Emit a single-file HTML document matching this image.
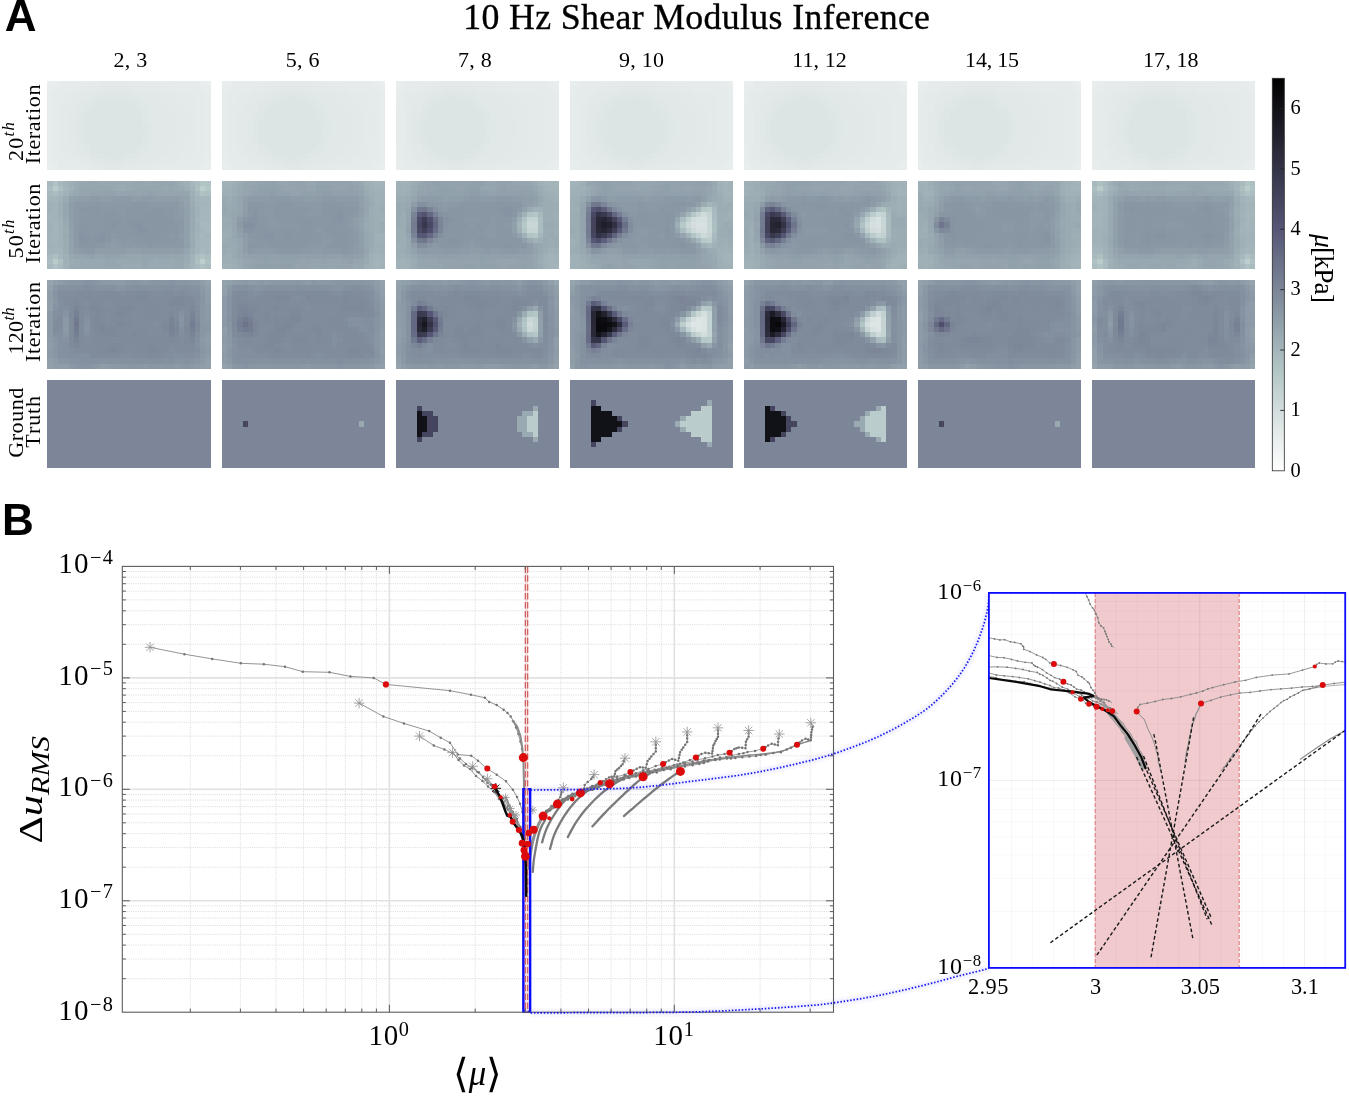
<!DOCTYPE html>
<html lang="en"><head><meta charset="utf-8"><title>10 Hz Shear Modulus Inference</title>
<style>html,body{margin:0;padding:0;background:#fff}svg{display:block}text{fill:#000}</style>
</head><body>
<svg width="1349" height="1096" viewBox="0 0 1349 1096">
<rect width="1349" height="1096" fill="#fff"/>
<text x="4.80" y="31.20" font-size="44" text-anchor="start" font-family='"Liberation Sans", sans-serif' font-weight="700">A</text>
<text x="463.20" y="28.90" font-size="35.8" text-anchor="start" font-family='"Liberation Serif", serif' stroke="#000" stroke-width="0.35" textLength="466.8">10 Hz Shear Modulus Inference</text>
<text x="113.40" y="66.90" font-size="22" text-anchor="start" font-family='"Liberation Serif", serif' textLength="33.8">2, 3</text>
<text x="285.70" y="66.90" font-size="22" text-anchor="start" font-family='"Liberation Serif", serif' textLength="33.8">5, 6</text>
<text x="458.00" y="66.90" font-size="22" text-anchor="start" font-family='"Liberation Serif", serif' textLength="33.8">7, 8</text>
<text x="618.90" y="66.90" font-size="22" text-anchor="start" font-family='"Liberation Serif", serif' textLength="45.2">9, 10</text>
<text x="792.20" y="66.90" font-size="22" text-anchor="start" font-family='"Liberation Serif", serif' textLength="54.6">11, 12</text>
<text x="965.10" y="66.90" font-size="22" text-anchor="start" font-family='"Liberation Serif", serif' textLength="54.0">14, 15</text>
<text x="1143.00" y="66.90" font-size="22" text-anchor="start" font-family='"Liberation Serif", serif' textLength="55.6">17, 18</text>
<g shape-rendering="crispEdges">
<g transform="translate(47.45 81.20) scale(5.2677 5.2118)">
<rect width="31" height="17" fill="#dce4e4"/>
<path fill="#e8eded" d="M0 0h1v1h-1zM30 0h1v1h-1zM0 16h1v1h-1zM30 16h1v1h-1z"/>
<path fill="#e7ecec" d="M1 0h1v1h-1zM29 0h1v1h-1zM0 1h1v1h-1zM30 1h1v1h-1zM0 15h1v1h-1zM30 15h1v1h-1zM1 16h1v1h-1zM29 16h1v1h-1z"/>
<path fill="#e6ecec" d="M2 0h1v1h-1zM28 0h1v1h-1zM1 1h1v1h-1zM29 1h1v1h-1zM0 2h1v1h-1zM30 2h1v1h-1zM0 3h1v1h-1zM30 3h1v1h-1zM0 4h1v1h-1zM30 4h1v1h-1zM0 5h1v1h-1zM30 5h1v1h-1zM0 6h1v1h-1zM30 6h1v1h-1zM0 7h1v1h-1zM30 7h1v1h-1zM0 8h1v1h-1zM30 8h1v1h-1zM0 9h1v1h-1zM30 9h1v1h-1zM0 10h1v1h-1zM30 10h1v1h-1zM0 11h1v1h-1zM30 11h1v1h-1zM0 12h1v1h-1zM30 12h1v1h-1zM0 13h1v1h-1zM30 13h1v1h-1zM0 14h1v1h-1zM30 14h1v1h-1zM1 15h1v1h-1zM29 15h1v1h-1zM28 16h1v1h-1z"/>
<path fill="#e5ebeb" d="M3 0h3v1h-3zM23 0h5v1h-5zM2 1h1v1h-1zM28 1h1v1h-1zM1 2h1v1h-1zM29 2h1v1h-1zM1 3h1v1h-1zM29 3h1v1h-1zM1 4h1v1h-1zM29 4h1v1h-1zM1 5h1v1h-1zM29 5h1v1h-1zM1 6h1v1h-1zM29 6h1v1h-1zM29 7h1v1h-1zM29 8h1v1h-1zM29 9h1v1h-1zM29 10h1v1h-1zM1 11h1v1h-1zM29 11h1v1h-1zM1 12h1v1h-1zM29 12h1v1h-1zM1 13h1v1h-1zM29 13h1v1h-1zM1 14h1v1h-1zM29 14h1v1h-1zM2 15h1v1h-1zM28 15h1v1h-1zM2 16h3v1h-3zM24 16h4v1h-4z"/>
<path fill="#e5eaea" d="M6 0h4v1h-4zM18 0h5v1h-5zM3 1h3v1h-3zM24 1h4v1h-4zM2 2h1v1h-1zM28 2h1v1h-1zM2 3h1v1h-1zM28 3h1v1h-1zM28 4h1v1h-1zM28 5h1v1h-1zM28 6h1v1h-1zM1 7h1v1h-1zM28 7h1v1h-1zM1 8h1v1h-1zM28 8h1v1h-1zM1 9h1v1h-1zM28 9h1v1h-1zM1 10h1v1h-1zM28 10h1v1h-1zM28 11h1v1h-1zM28 12h1v1h-1zM2 13h1v1h-1zM28 13h1v1h-1zM2 14h1v1h-1zM28 14h1v1h-1zM3 15h2v1h-2zM25 15h3v1h-3zM5 16h3v1h-3zM20 16h4v1h-4z"/>
<path fill="#e4eaea" d="M10 0h8v1h-8zM6 1h2v1h-2zM20 1h4v1h-4zM3 2h2v1h-2zM24 2h4v1h-4zM3 3h1v1h-1zM25 3h3v1h-3zM2 4h2v1h-2zM26 4h2v1h-2zM2 5h1v1h-1zM26 5h2v1h-2zM2 6h1v1h-1zM27 6h1v1h-1zM2 7h1v1h-1zM27 7h1v1h-1zM2 8h1v1h-1zM27 8h1v1h-1zM2 9h1v1h-1zM27 9h1v1h-1zM2 10h1v1h-1zM27 10h1v1h-1zM2 11h1v1h-1zM26 11h2v1h-2zM2 12h1v1h-1zM26 12h2v1h-2zM3 13h1v1h-1zM25 13h3v1h-3zM3 14h1v1h-1zM25 14h3v1h-3zM5 15h2v1h-2zM21 15h4v1h-4zM8 16h1v1h-1zM17 16h3v1h-3z"/>
<path fill="#e3e9e9" d="M8 1h2v1h-2zM16 1h4v1h-4zM5 2h2v1h-2zM20 2h4v1h-4zM4 3h2v1h-2zM22 3h3v1h-3zM4 4h1v1h-1zM23 4h3v1h-3zM3 5h2v1h-2zM23 5h3v1h-3zM3 6h1v1h-1zM24 6h3v1h-3zM3 7h1v1h-1zM24 7h3v1h-3zM3 8h1v1h-1zM24 8h3v1h-3zM3 9h1v1h-1zM24 9h3v1h-3zM3 10h1v1h-1zM24 10h3v1h-3zM3 11h1v1h-1zM24 11h2v1h-2zM3 12h2v1h-2zM23 12h3v1h-3zM4 13h1v1h-1zM23 13h2v1h-2zM4 14h2v1h-2zM22 14h3v1h-3zM7 15h1v1h-1zM18 15h3v1h-3zM9 16h2v1h-2zM14 16h3v1h-3z"/>
<path fill="#e2e8e8" d="M10 1h6v1h-6zM7 2h1v1h-1zM18 2h2v1h-2zM6 3h1v1h-1zM19 3h3v1h-3zM5 4h1v1h-1zM20 4h3v1h-3zM5 5h1v1h-1zM21 5h2v1h-2zM4 6h1v1h-1zM21 6h3v1h-3zM4 7h1v1h-1zM21 7h3v1h-3zM4 8h1v1h-1zM21 8h3v1h-3zM4 9h1v1h-1zM21 9h3v1h-3zM4 10h1v1h-1zM21 10h3v1h-3zM4 11h1v1h-1zM21 11h3v1h-3zM5 12h1v1h-1zM21 12h2v1h-2zM5 13h1v1h-1zM20 13h3v1h-3zM6 14h1v1h-1zM19 14h3v1h-3zM8 15h1v1h-1zM17 15h1v1h-1zM11 16h3v1h-3z"/>
<path fill="#e1e8e8" d="M8 2h1v1h-1zM16 2h2v1h-2zM7 3h1v1h-1zM18 3h1v1h-1zM6 4h1v1h-1zM19 4h1v1h-1zM19 5h2v1h-2zM5 6h1v1h-1zM20 6h1v1h-1zM20 7h1v1h-1zM20 8h1v1h-1zM20 9h1v1h-1zM20 10h1v1h-1zM5 11h1v1h-1zM20 11h1v1h-1zM19 12h2v1h-2zM6 13h1v1h-1zM19 13h1v1h-1zM7 14h1v1h-1zM18 14h1v1h-1zM9 15h1v1h-1zM15 15h2v1h-2z"/>
<path fill="#e0e7e7" d="M9 2h2v1h-2zM15 2h1v1h-1zM8 3h1v1h-1zM17 3h1v1h-1zM18 4h1v1h-1zM6 5h1v1h-1zM19 6h1v1h-1zM5 7h1v1h-1zM19 7h1v1h-1zM5 8h1v1h-1zM5 9h1v1h-1zM5 10h1v1h-1zM19 10h1v1h-1zM19 11h1v1h-1zM6 12h1v1h-1zM18 13h1v1h-1zM17 14h1v1h-1zM10 15h1v1h-1zM14 15h1v1h-1z"/>
<path fill="#dfe6e6" d="M11 2h4v1h-4zM16 3h1v1h-1zM7 4h1v1h-1zM17 4h1v1h-1zM18 5h1v1h-1zM6 6h1v1h-1zM19 8h1v1h-1zM19 9h1v1h-1zM6 11h1v1h-1zM18 12h1v1h-1zM7 13h1v1h-1zM17 13h1v1h-1zM8 14h1v1h-1zM16 14h1v1h-1zM11 15h3v1h-3z"/>
<path fill="#dee6e6" d="M9 3h1v1h-1zM15 3h1v1h-1zM8 4h1v1h-1zM7 5h1v1h-1zM18 6h1v1h-1zM6 7h1v1h-1zM18 7h1v1h-1zM6 8h1v1h-1zM6 10h1v1h-1zM18 11h1v1h-1zM7 12h1v1h-1zM9 14h1v1h-1zM15 14h1v1h-1z"/>
<path fill="#dde5e5" d="M10 3h2v1h-2zM13 3h2v1h-2zM16 4h1v1h-1zM17 5h1v1h-1zM7 6h1v1h-1zM18 8h1v1h-1zM6 9h1v1h-1zM18 9h1v1h-1zM18 10h1v1h-1zM17 12h1v1h-1zM8 13h1v1h-1zM16 13h1v1h-1zM10 14h1v1h-1zM14 14h1v1h-1z"/>
<path fill="#dde4e4" d="M12 3h1v1h-1zM9 4h1v1h-1zM15 4h1v1h-1zM8 5h1v1h-1zM16 5h1v1h-1zM17 6h1v1h-1zM7 7h1v1h-1zM17 7h1v1h-1zM7 8h1v1h-1zM7 9h1v1h-1zM7 10h1v1h-1zM17 10h1v1h-1zM7 11h1v1h-1zM17 11h1v1h-1zM8 12h1v1h-1zM16 12h1v1h-1zM9 13h1v1h-1zM15 13h1v1h-1zM11 14h3v1h-3z"/>
</g>
<g transform="translate(221.55 81.20) scale(5.2677 5.2118)">
<rect width="31" height="17" fill="#dce4e4"/>
<path fill="#e8eded" d="M0 0h1v1h-1zM30 0h1v1h-1zM0 16h1v1h-1zM30 16h1v1h-1z"/>
<path fill="#e7ecec" d="M1 0h1v1h-1zM29 0h1v1h-1zM0 1h1v1h-1zM30 1h1v1h-1zM0 15h1v1h-1zM30 15h1v1h-1zM1 16h1v1h-1zM29 16h1v1h-1z"/>
<path fill="#e6ecec" d="M2 0h1v1h-1zM28 0h1v1h-1zM1 1h1v1h-1zM29 1h1v1h-1zM0 2h1v1h-1zM30 2h1v1h-1zM0 3h1v1h-1zM30 3h1v1h-1zM0 4h1v1h-1zM30 4h1v1h-1zM0 5h1v1h-1zM30 5h1v1h-1zM0 6h1v1h-1zM30 6h1v1h-1zM0 7h1v1h-1zM30 7h1v1h-1zM0 8h1v1h-1zM30 8h1v1h-1zM0 9h1v1h-1zM30 9h1v1h-1zM0 10h1v1h-1zM30 10h1v1h-1zM0 11h1v1h-1zM30 11h1v1h-1zM0 12h1v1h-1zM30 12h1v1h-1zM0 13h1v1h-1zM30 13h1v1h-1zM0 14h1v1h-1zM30 14h1v1h-1zM1 15h1v1h-1zM29 15h1v1h-1zM2 16h1v1h-1zM28 16h1v1h-1z"/>
<path fill="#e5ebeb" d="M3 0h4v1h-4zM24 0h4v1h-4zM2 1h1v1h-1zM28 1h1v1h-1zM1 2h1v1h-1zM29 2h1v1h-1zM1 3h1v1h-1zM29 3h1v1h-1zM1 4h1v1h-1zM29 4h1v1h-1zM1 5h1v1h-1zM29 5h1v1h-1zM1 6h1v1h-1zM29 6h1v1h-1zM1 7h1v1h-1zM29 7h1v1h-1zM1 8h1v1h-1zM29 8h1v1h-1zM1 9h1v1h-1zM29 9h1v1h-1zM1 10h1v1h-1zM29 10h1v1h-1zM1 11h1v1h-1zM29 11h1v1h-1zM1 12h1v1h-1zM29 12h1v1h-1zM1 13h1v1h-1zM29 13h1v1h-1zM1 14h1v1h-1zM29 14h1v1h-1zM2 15h1v1h-1zM28 15h1v1h-1zM3 16h2v1h-2zM25 16h3v1h-3z"/>
<path fill="#e5eaea" d="M7 0h3v1h-3zM19 0h5v1h-5zM3 1h3v1h-3zM24 1h4v1h-4zM2 2h1v1h-1zM28 2h1v1h-1zM2 3h1v1h-1zM28 3h1v1h-1zM2 4h1v1h-1zM28 4h1v1h-1zM28 5h1v1h-1zM28 11h1v1h-1zM2 12h1v1h-1zM28 12h1v1h-1zM2 13h1v1h-1zM28 13h1v1h-1zM2 14h1v1h-1zM28 14h1v1h-1zM3 15h2v1h-2zM25 15h3v1h-3zM5 16h3v1h-3zM21 16h4v1h-4z"/>
<path fill="#e4eaea" d="M10 0h9v1h-9zM6 1h3v1h-3zM20 1h4v1h-4zM3 2h3v1h-3zM24 2h4v1h-4zM3 3h2v1h-2zM25 3h3v1h-3zM3 4h1v1h-1zM26 4h2v1h-2zM2 5h2v1h-2zM27 5h1v1h-1zM2 6h1v1h-1zM27 6h2v1h-2zM2 7h1v1h-1zM27 7h2v1h-2zM2 8h1v1h-1zM27 8h2v1h-2zM2 9h1v1h-1zM27 9h2v1h-2zM2 10h1v1h-1zM27 10h2v1h-2zM2 11h1v1h-1zM27 11h1v1h-1zM3 12h1v1h-1zM27 12h1v1h-1zM3 13h1v1h-1zM26 13h2v1h-2zM3 14h2v1h-2zM25 14h3v1h-3zM5 15h2v1h-2zM22 15h3v1h-3zM8 16h2v1h-2zM17 16h4v1h-4z"/>
<path fill="#e3e9e9" d="M9 1h2v1h-2zM17 1h3v1h-3zM6 2h2v1h-2zM21 2h3v1h-3zM5 3h2v1h-2zM22 3h3v1h-3zM4 4h2v1h-2zM23 4h3v1h-3zM4 5h1v1h-1zM24 5h3v1h-3zM3 6h2v1h-2zM24 6h3v1h-3zM3 7h2v1h-2zM25 7h2v1h-2zM3 8h1v1h-1zM25 8h2v1h-2zM3 9h1v1h-1zM25 9h2v1h-2zM3 10h2v1h-2zM25 10h2v1h-2zM3 11h2v1h-2zM24 11h3v1h-3zM4 12h1v1h-1zM24 12h3v1h-3zM4 13h2v1h-2zM23 13h3v1h-3zM5 14h1v1h-1zM22 14h3v1h-3zM7 15h1v1h-1zM19 15h3v1h-3zM10 16h2v1h-2zM15 16h2v1h-2z"/>
<path fill="#e2e8e8" d="M11 1h6v1h-6zM8 2h1v1h-1zM18 2h3v1h-3zM7 3h1v1h-1zM20 3h2v1h-2zM6 4h1v1h-1zM20 4h3v1h-3zM5 5h1v1h-1zM21 5h3v1h-3zM5 6h1v1h-1zM21 6h3v1h-3zM22 7h3v1h-3zM4 8h1v1h-1zM22 8h3v1h-3zM4 9h1v1h-1zM22 9h3v1h-3zM22 10h3v1h-3zM5 11h1v1h-1zM21 11h3v1h-3zM5 12h1v1h-1zM21 12h3v1h-3zM6 13h1v1h-1zM20 13h3v1h-3zM6 14h1v1h-1zM20 14h2v1h-2zM8 15h1v1h-1zM17 15h2v1h-2zM12 16h3v1h-3z"/>
<path fill="#e1e8e8" d="M9 2h1v1h-1zM17 2h1v1h-1zM18 3h2v1h-2zM19 4h1v1h-1zM6 5h1v1h-1zM20 5h1v1h-1zM20 6h1v1h-1zM5 7h1v1h-1zM21 7h1v1h-1zM5 8h1v1h-1zM21 8h1v1h-1zM5 9h1v1h-1zM21 9h1v1h-1zM5 10h1v1h-1zM21 10h1v1h-1zM20 11h1v1h-1zM6 12h1v1h-1zM20 12h1v1h-1zM19 13h1v1h-1zM7 14h1v1h-1zM18 14h2v1h-2zM9 15h1v1h-1zM16 15h1v1h-1z"/>
<path fill="#e0e7e7" d="M10 2h1v1h-1zM15 2h2v1h-2zM8 3h1v1h-1zM17 3h1v1h-1zM7 4h1v1h-1zM18 4h1v1h-1zM19 5h1v1h-1zM6 6h1v1h-1zM20 7h1v1h-1zM20 8h1v1h-1zM20 9h1v1h-1zM20 10h1v1h-1zM6 11h1v1h-1zM19 12h1v1h-1zM7 13h1v1h-1zM8 14h1v1h-1zM17 14h1v1h-1zM10 15h2v1h-2zM15 15h1v1h-1z"/>
<path fill="#dfe6e6" d="M11 2h4v1h-4zM9 3h1v1h-1zM16 3h1v1h-1zM8 4h1v1h-1zM7 5h1v1h-1zM19 6h1v1h-1zM6 7h1v1h-1zM19 7h1v1h-1zM6 8h1v1h-1zM6 9h1v1h-1zM6 10h1v1h-1zM19 10h1v1h-1zM19 11h1v1h-1zM7 12h1v1h-1zM18 13h1v1h-1zM9 14h1v1h-1zM12 15h3v1h-3z"/>
<path fill="#dee6e6" d="M10 3h1v1h-1zM17 4h1v1h-1zM18 5h1v1h-1zM7 6h1v1h-1zM19 8h1v1h-1zM19 9h1v1h-1zM18 12h1v1h-1zM8 13h1v1h-1zM17 13h1v1h-1zM16 14h1v1h-1z"/>
<path fill="#dde5e5" d="M11 3h1v1h-1zM14 3h2v1h-2zM9 4h1v1h-1zM16 4h1v1h-1zM8 5h1v1h-1zM17 5h1v1h-1zM18 6h1v1h-1zM7 7h1v1h-1zM18 7h1v1h-1zM7 10h1v1h-1zM7 11h1v1h-1zM18 11h1v1h-1zM8 12h1v1h-1zM9 13h1v1h-1zM10 14h2v1h-2zM15 14h1v1h-1z"/>
<path fill="#dde4e4" d="M12 3h2v1h-2zM10 4h1v1h-1zM15 4h1v1h-1zM9 5h1v1h-1zM8 6h1v1h-1zM17 6h1v1h-1zM7 8h1v1h-1zM18 8h1v1h-1zM7 9h1v1h-1zM18 9h1v1h-1zM18 10h1v1h-1zM8 11h1v1h-1zM17 12h1v1h-1zM10 13h1v1h-1zM16 13h1v1h-1zM12 14h3v1h-3z"/>
</g>
<g transform="translate(395.65 81.20) scale(5.2677 5.2118)">
<rect width="31" height="17" fill="#e4eaea"/>
<path fill="#e8eded" d="M0 0h1v1h-1zM30 0h1v1h-1zM0 16h1v1h-1zM30 16h1v1h-1z"/>
<path fill="#e7ecec" d="M1 0h1v1h-1zM29 0h1v1h-1zM0 1h1v1h-1zM30 1h1v1h-1zM0 15h1v1h-1zM30 15h1v1h-1zM29 16h1v1h-1z"/>
<path fill="#e6ecec" d="M28 0h1v1h-1zM1 1h1v1h-1zM29 1h1v1h-1zM0 2h1v1h-1zM30 2h1v1h-1zM0 3h1v1h-1zM30 3h1v1h-1zM0 4h1v1h-1zM30 4h1v1h-1zM30 5h1v1h-1zM30 6h1v1h-1zM30 7h1v1h-1zM30 8h1v1h-1zM30 9h1v1h-1zM30 10h1v1h-1zM30 11h1v1h-1zM0 12h1v1h-1zM30 12h1v1h-1zM0 13h1v1h-1zM30 13h1v1h-1zM0 14h1v1h-1zM30 14h1v1h-1zM29 15h1v1h-1zM1 16h1v1h-1zM28 16h1v1h-1z"/>
<path fill="#e5ebeb" d="M2 0h3v1h-3zM22 0h6v1h-6zM28 1h1v1h-1zM1 2h1v1h-1zM29 2h1v1h-1zM1 3h1v1h-1zM29 3h1v1h-1zM29 4h1v1h-1zM0 5h1v1h-1zM29 5h1v1h-1zM0 6h1v1h-1zM29 6h1v1h-1zM0 7h1v1h-1zM29 7h1v1h-1zM0 8h1v1h-1zM29 8h1v1h-1zM0 9h1v1h-1zM29 9h1v1h-1zM0 10h1v1h-1zM29 10h1v1h-1zM0 11h1v1h-1zM29 11h1v1h-1zM29 12h1v1h-1zM29 13h1v1h-1zM1 14h1v1h-1zM29 14h1v1h-1zM1 15h1v1h-1zM28 15h1v1h-1zM2 16h1v1h-1zM23 16h5v1h-5z"/>
<path fill="#e5eaea" d="M5 0h3v1h-3zM17 0h5v1h-5zM2 1h2v1h-2zM22 1h6v1h-6zM27 2h2v1h-2zM28 3h1v1h-1zM1 4h1v1h-1zM28 4h1v1h-1zM1 5h1v1h-1zM28 5h1v1h-1zM1 6h1v1h-1zM28 6h1v1h-1zM1 7h1v1h-1zM28 7h1v1h-1zM1 8h1v1h-1zM28 8h1v1h-1zM1 9h1v1h-1zM28 9h1v1h-1zM1 10h1v1h-1zM28 10h1v1h-1zM1 11h1v1h-1zM28 11h1v1h-1zM1 12h1v1h-1zM28 12h1v1h-1zM1 13h1v1h-1zM28 13h1v1h-1zM27 14h2v1h-2zM2 15h1v1h-1zM23 15h5v1h-5zM3 16h3v1h-3zM19 16h4v1h-4z"/>
<path fill="#e3e9e9" d="M7 1h2v1h-2zM15 1h3v1h-3zM4 2h2v1h-2zM19 2h3v1h-3zM3 3h2v1h-2zM20 3h3v1h-3zM3 4h1v1h-1zM21 4h3v1h-3zM22 5h3v1h-3zM2 6h1v1h-1zM22 6h3v1h-3zM2 7h1v1h-1zM23 7h2v1h-2zM2 8h1v1h-1zM23 8h2v1h-2zM2 9h1v1h-1zM23 9h2v1h-2zM2 10h1v1h-1zM23 10h2v1h-2zM2 11h1v1h-1zM22 11h3v1h-3zM22 12h3v1h-3zM3 13h1v1h-1zM21 13h3v1h-3zM3 14h1v1h-1zM20 14h3v1h-3zM5 15h1v1h-1zM17 15h3v1h-3zM8 16h2v1h-2zM13 16h2v1h-2z"/>
<path fill="#e2e8e8" d="M9 1h6v1h-6zM6 2h1v1h-1zM16 2h3v1h-3zM5 3h1v1h-1zM18 3h2v1h-2zM4 4h1v1h-1zM18 4h3v1h-3zM3 5h1v1h-1zM19 5h3v1h-3zM3 6h1v1h-1zM19 6h3v1h-3zM20 7h3v1h-3zM20 8h3v1h-3zM20 9h3v1h-3zM20 10h3v1h-3zM3 11h1v1h-1zM19 11h3v1h-3zM3 12h1v1h-1zM19 12h3v1h-3zM4 13h1v1h-1zM18 13h3v1h-3zM4 14h1v1h-1zM18 14h2v1h-2zM6 15h1v1h-1zM15 15h2v1h-2zM10 16h3v1h-3z"/>
<path fill="#e1e8e8" d="M7 2h1v1h-1zM15 2h1v1h-1zM16 3h2v1h-2zM17 4h1v1h-1zM4 5h1v1h-1zM18 5h1v1h-1zM18 6h1v1h-1zM3 7h1v1h-1zM19 7h1v1h-1zM3 8h1v1h-1zM19 8h1v1h-1zM3 9h1v1h-1zM19 9h1v1h-1zM3 10h1v1h-1zM19 10h1v1h-1zM18 11h1v1h-1zM4 12h1v1h-1zM18 12h1v1h-1zM17 13h1v1h-1zM5 14h1v1h-1zM16 14h2v1h-2zM7 15h1v1h-1zM14 15h1v1h-1z"/>
<path fill="#e0e7e7" d="M8 2h1v1h-1zM13 2h2v1h-2zM6 3h1v1h-1zM15 3h1v1h-1zM5 4h1v1h-1zM16 4h1v1h-1zM17 5h1v1h-1zM4 6h1v1h-1zM18 7h1v1h-1zM18 8h1v1h-1zM18 9h1v1h-1zM18 10h1v1h-1zM4 11h1v1h-1zM17 12h1v1h-1zM5 13h1v1h-1zM6 14h1v1h-1zM15 14h1v1h-1zM8 15h2v1h-2zM13 15h1v1h-1z"/>
<path fill="#dfe6e6" d="M9 2h4v1h-4zM7 3h1v1h-1zM14 3h1v1h-1zM6 4h1v1h-1zM5 5h1v1h-1zM17 6h1v1h-1zM4 7h1v1h-1zM17 7h1v1h-1zM4 8h1v1h-1zM4 9h1v1h-1zM4 10h1v1h-1zM17 10h1v1h-1zM17 11h1v1h-1zM5 12h1v1h-1zM16 13h1v1h-1zM7 14h1v1h-1zM10 15h3v1h-3z"/>
<path fill="#dee6e6" d="M8 3h1v1h-1zM15 4h1v1h-1zM16 5h1v1h-1zM5 6h1v1h-1zM17 8h1v1h-1zM17 9h1v1h-1zM16 12h1v1h-1zM6 13h1v1h-1zM15 13h1v1h-1zM14 14h1v1h-1z"/>
<path fill="#dde5e5" d="M9 3h1v1h-1zM12 3h2v1h-2zM7 4h1v1h-1zM14 4h1v1h-1zM6 5h1v1h-1zM15 5h1v1h-1zM16 6h1v1h-1zM5 7h1v1h-1zM16 7h1v1h-1zM5 10h1v1h-1zM5 11h1v1h-1zM16 11h1v1h-1zM6 12h1v1h-1zM7 13h1v1h-1zM8 14h2v1h-2zM13 14h1v1h-1z"/>
<path fill="#dde4e4" d="M10 3h2v1h-2zM8 4h1v1h-1zM13 4h1v1h-1zM7 5h1v1h-1zM6 6h1v1h-1zM15 6h1v1h-1zM5 8h1v1h-1zM16 8h1v1h-1zM5 9h1v1h-1zM16 9h1v1h-1zM16 10h1v1h-1zM6 11h1v1h-1zM15 12h1v1h-1zM8 13h1v1h-1zM14 13h1v1h-1zM10 14h3v1h-3z"/>
<path fill="#dce4e4" d="M9 4h4v1h-4zM8 5h7v1h-7zM7 6h8v1h-8zM6 7h10v1h-10zM6 8h10v1h-10zM6 9h10v1h-10zM6 10h10v1h-10zM7 11h9v1h-9zM7 12h8v1h-8zM9 13h5v1h-5z"/>
</g>
<g transform="translate(569.75 81.20) scale(5.2677 5.2118)">
<rect width="31" height="17" fill="#dce4e4"/>
<path fill="#e8eded" d="M0 0h1v1h-1zM30 0h1v1h-1zM0 16h1v1h-1zM30 16h1v1h-1z"/>
<path fill="#e7ecec" d="M1 0h1v1h-1zM29 0h1v1h-1zM0 1h1v1h-1zM30 1h1v1h-1zM0 15h1v1h-1zM30 15h1v1h-1zM1 16h1v1h-1zM29 16h1v1h-1z"/>
<path fill="#e6ecec" d="M2 0h1v1h-1zM28 0h1v1h-1zM1 1h1v1h-1zM29 1h1v1h-1zM0 2h1v1h-1zM30 2h1v1h-1zM0 3h1v1h-1zM30 3h1v1h-1zM0 4h1v1h-1zM30 4h1v1h-1zM0 5h1v1h-1zM30 5h1v1h-1zM0 6h1v1h-1zM30 6h1v1h-1zM0 7h1v1h-1zM30 7h1v1h-1zM0 8h1v1h-1zM30 8h1v1h-1zM0 9h1v1h-1zM30 9h1v1h-1zM0 10h1v1h-1zM30 10h1v1h-1zM0 11h1v1h-1zM30 11h1v1h-1zM0 12h1v1h-1zM30 12h1v1h-1zM0 13h1v1h-1zM30 13h1v1h-1zM0 14h1v1h-1zM30 14h1v1h-1zM1 15h1v1h-1zM29 15h1v1h-1zM28 16h1v1h-1z"/>
<path fill="#e5ebeb" d="M3 0h3v1h-3zM23 0h5v1h-5zM2 1h1v1h-1zM28 1h1v1h-1zM1 2h1v1h-1zM29 2h1v1h-1zM1 3h1v1h-1zM29 3h1v1h-1zM1 4h1v1h-1zM29 4h1v1h-1zM29 5h1v1h-1zM29 6h1v1h-1zM29 7h1v1h-1zM29 8h1v1h-1zM29 9h1v1h-1zM29 10h1v1h-1zM29 11h1v1h-1zM1 12h1v1h-1zM29 12h1v1h-1zM1 13h1v1h-1zM29 13h1v1h-1zM1 14h1v1h-1zM29 14h1v1h-1zM28 15h1v1h-1zM2 16h2v1h-2zM24 16h4v1h-4z"/>
<path fill="#e5eaea" d="M6 0h3v1h-3zM18 0h5v1h-5zM3 1h2v1h-2zM23 1h5v1h-5zM2 2h1v1h-1zM28 2h1v1h-1zM2 3h1v1h-1zM28 3h1v1h-1zM28 4h1v1h-1zM1 5h1v1h-1zM28 5h1v1h-1zM1 6h1v1h-1zM28 6h1v1h-1zM1 7h1v1h-1zM28 7h1v1h-1zM1 8h1v1h-1zM28 8h1v1h-1zM1 9h1v1h-1zM28 9h1v1h-1zM1 10h1v1h-1zM28 10h1v1h-1zM1 11h1v1h-1zM28 11h1v1h-1zM28 12h1v1h-1zM28 13h1v1h-1zM2 14h1v1h-1zM28 14h1v1h-1zM2 15h2v1h-2zM24 15h4v1h-4zM4 16h3v1h-3zM20 16h4v1h-4z"/>
<path fill="#e4eaea" d="M9 0h9v1h-9zM5 1h3v1h-3zM19 1h4v1h-4zM3 2h2v1h-2zM23 2h5v1h-5zM3 3h1v1h-1zM24 3h4v1h-4zM2 4h1v1h-1zM25 4h3v1h-3zM2 5h1v1h-1zM26 5h2v1h-2zM2 6h1v1h-1zM26 6h2v1h-2zM2 7h1v1h-1zM26 7h2v1h-2zM2 8h1v1h-1zM26 8h2v1h-2zM2 9h1v1h-1zM26 9h2v1h-2zM2 10h1v1h-1zM26 10h2v1h-2zM2 11h1v1h-1zM26 11h2v1h-2zM2 12h1v1h-1zM26 12h2v1h-2zM2 13h1v1h-1zM25 13h3v1h-3zM3 14h1v1h-1zM24 14h4v1h-4zM4 15h2v1h-2zM21 15h3v1h-3zM7 16h2v1h-2zM16 16h4v1h-4z"/>
<path fill="#e3e9e9" d="M8 1h2v1h-2zM16 1h3v1h-3zM5 2h2v1h-2zM20 2h3v1h-3zM4 3h2v1h-2zM21 3h3v1h-3zM3 4h2v1h-2zM22 4h3v1h-3zM3 5h1v1h-1zM23 5h3v1h-3zM3 6h1v1h-1zM23 6h3v1h-3zM3 7h1v1h-1zM24 7h2v1h-2zM24 8h2v1h-2zM24 9h2v1h-2zM3 10h1v1h-1zM24 10h2v1h-2zM3 11h1v1h-1zM23 11h3v1h-3zM3 12h1v1h-1zM23 12h3v1h-3zM3 13h2v1h-2zM22 13h3v1h-3zM4 14h1v1h-1zM21 14h3v1h-3zM6 15h1v1h-1zM18 15h3v1h-3zM9 16h2v1h-2zM14 16h2v1h-2z"/>
<path fill="#e2e8e8" d="M10 1h6v1h-6zM7 2h1v1h-1zM17 2h3v1h-3zM6 3h1v1h-1zM19 3h2v1h-2zM5 4h1v1h-1zM19 4h3v1h-3zM4 5h1v1h-1zM20 5h3v1h-3zM4 6h1v1h-1zM20 6h3v1h-3zM21 7h3v1h-3zM3 8h1v1h-1zM21 8h3v1h-3zM3 9h1v1h-1zM21 9h3v1h-3zM21 10h3v1h-3zM4 11h1v1h-1zM20 11h3v1h-3zM4 12h1v1h-1zM20 12h3v1h-3zM5 13h1v1h-1zM19 13h3v1h-3zM5 14h1v1h-1zM19 14h2v1h-2zM7 15h1v1h-1zM16 15h2v1h-2zM11 16h3v1h-3z"/>
<path fill="#e1e8e8" d="M8 2h1v1h-1zM16 2h1v1h-1zM17 3h2v1h-2zM18 4h1v1h-1zM5 5h1v1h-1zM19 5h1v1h-1zM19 6h1v1h-1zM4 7h1v1h-1zM20 7h1v1h-1zM4 8h1v1h-1zM20 8h1v1h-1zM4 9h1v1h-1zM20 9h1v1h-1zM4 10h1v1h-1zM20 10h1v1h-1zM19 11h1v1h-1zM5 12h1v1h-1zM19 12h1v1h-1zM18 13h1v1h-1zM6 14h1v1h-1zM17 14h2v1h-2zM8 15h1v1h-1zM15 15h1v1h-1z"/>
<path fill="#e0e7e7" d="M9 2h1v1h-1zM14 2h2v1h-2zM7 3h1v1h-1zM16 3h1v1h-1zM6 4h1v1h-1zM17 4h1v1h-1zM18 5h1v1h-1zM5 6h1v1h-1zM19 7h1v1h-1zM19 8h1v1h-1zM19 9h1v1h-1zM19 10h1v1h-1zM5 11h1v1h-1zM18 12h1v1h-1zM6 13h1v1h-1zM7 14h1v1h-1zM16 14h1v1h-1zM9 15h2v1h-2zM14 15h1v1h-1z"/>
<path fill="#dfe6e6" d="M10 2h4v1h-4zM8 3h1v1h-1zM15 3h1v1h-1zM7 4h1v1h-1zM6 5h1v1h-1zM18 6h1v1h-1zM5 7h1v1h-1zM18 7h1v1h-1zM5 8h1v1h-1zM5 9h1v1h-1zM5 10h1v1h-1zM18 10h1v1h-1zM18 11h1v1h-1zM6 12h1v1h-1zM17 13h1v1h-1zM8 14h1v1h-1zM11 15h3v1h-3z"/>
<path fill="#dee6e6" d="M9 3h1v1h-1zM16 4h1v1h-1zM17 5h1v1h-1zM6 6h1v1h-1zM18 8h1v1h-1zM18 9h1v1h-1zM17 12h1v1h-1zM7 13h1v1h-1zM16 13h1v1h-1zM15 14h1v1h-1z"/>
<path fill="#dde5e5" d="M10 3h1v1h-1zM13 3h2v1h-2zM8 4h1v1h-1zM15 4h1v1h-1zM7 5h1v1h-1zM16 5h1v1h-1zM17 6h1v1h-1zM6 7h1v1h-1zM17 7h1v1h-1zM6 10h1v1h-1zM6 11h1v1h-1zM17 11h1v1h-1zM7 12h1v1h-1zM8 13h1v1h-1zM9 14h2v1h-2zM14 14h1v1h-1z"/>
<path fill="#dde4e4" d="M11 3h2v1h-2zM9 4h1v1h-1zM14 4h1v1h-1zM8 5h1v1h-1zM7 6h1v1h-1zM16 6h1v1h-1zM6 8h1v1h-1zM17 8h1v1h-1zM6 9h1v1h-1zM17 9h1v1h-1zM17 10h1v1h-1zM7 11h1v1h-1zM16 12h1v1h-1zM9 13h1v1h-1zM15 13h1v1h-1zM11 14h3v1h-3z"/>
</g>
<g transform="translate(743.85 81.20) scale(5.2677 5.2118)">
<rect width="31" height="17" fill="#e4eaea"/>
<path fill="#e8eded" d="M0 0h1v1h-1zM30 0h1v1h-1zM0 16h1v1h-1zM30 16h1v1h-1z"/>
<path fill="#e7ecec" d="M1 0h1v1h-1zM29 0h1v1h-1zM0 1h1v1h-1zM30 1h1v1h-1zM0 15h1v1h-1zM30 15h1v1h-1zM29 16h1v1h-1z"/>
<path fill="#e6ecec" d="M28 0h1v1h-1zM1 1h1v1h-1zM29 1h1v1h-1zM0 2h1v1h-1zM30 2h1v1h-1zM0 3h1v1h-1zM30 3h1v1h-1zM0 4h1v1h-1zM30 4h1v1h-1zM30 5h1v1h-1zM30 6h1v1h-1zM30 7h1v1h-1zM30 8h1v1h-1zM30 9h1v1h-1zM30 10h1v1h-1zM30 11h1v1h-1zM0 12h1v1h-1zM30 12h1v1h-1zM0 13h1v1h-1zM30 13h1v1h-1zM0 14h1v1h-1zM30 14h1v1h-1zM29 15h1v1h-1zM1 16h1v1h-1zM28 16h1v1h-1z"/>
<path fill="#e5ebeb" d="M2 0h3v1h-3zM22 0h6v1h-6zM28 1h1v1h-1zM1 2h1v1h-1zM29 2h1v1h-1zM1 3h1v1h-1zM29 3h1v1h-1zM29 4h1v1h-1zM0 5h1v1h-1zM29 5h1v1h-1zM0 6h1v1h-1zM29 6h1v1h-1zM0 7h1v1h-1zM29 7h1v1h-1zM0 8h1v1h-1zM29 8h1v1h-1zM0 9h1v1h-1zM29 9h1v1h-1zM0 10h1v1h-1zM29 10h1v1h-1zM0 11h1v1h-1zM29 11h1v1h-1zM29 12h1v1h-1zM29 13h1v1h-1zM1 14h1v1h-1zM29 14h1v1h-1zM1 15h1v1h-1zM28 15h1v1h-1zM2 16h1v1h-1zM23 16h5v1h-5z"/>
<path fill="#e5eaea" d="M5 0h3v1h-3zM17 0h5v1h-5zM2 1h2v1h-2zM22 1h6v1h-6zM27 2h2v1h-2zM28 3h1v1h-1zM1 4h1v1h-1zM28 4h1v1h-1zM1 5h1v1h-1zM28 5h1v1h-1zM1 6h1v1h-1zM28 6h1v1h-1zM1 7h1v1h-1zM28 7h1v1h-1zM1 8h1v1h-1zM28 8h1v1h-1zM1 9h1v1h-1zM28 9h1v1h-1zM1 10h1v1h-1zM28 10h1v1h-1zM1 11h1v1h-1zM28 11h1v1h-1zM1 12h1v1h-1zM28 12h1v1h-1zM1 13h1v1h-1zM28 13h1v1h-1zM27 14h2v1h-2zM2 15h1v1h-1zM23 15h5v1h-5zM3 16h3v1h-3zM19 16h4v1h-4z"/>
<path fill="#e3e9e9" d="M7 1h2v1h-2zM15 1h3v1h-3zM4 2h2v1h-2zM19 2h3v1h-3zM3 3h2v1h-2zM20 3h3v1h-3zM3 4h1v1h-1zM21 4h3v1h-3zM22 5h3v1h-3zM2 6h1v1h-1zM22 6h3v1h-3zM2 7h1v1h-1zM23 7h2v1h-2zM2 8h1v1h-1zM23 8h2v1h-2zM2 9h1v1h-1zM23 9h2v1h-2zM2 10h1v1h-1zM23 10h2v1h-2zM2 11h1v1h-1zM22 11h3v1h-3zM22 12h3v1h-3zM3 13h1v1h-1zM21 13h3v1h-3zM3 14h1v1h-1zM20 14h3v1h-3zM5 15h1v1h-1zM17 15h3v1h-3zM8 16h2v1h-2zM13 16h2v1h-2z"/>
<path fill="#e2e8e8" d="M9 1h6v1h-6zM6 2h1v1h-1zM16 2h3v1h-3zM5 3h1v1h-1zM18 3h2v1h-2zM4 4h1v1h-1zM18 4h3v1h-3zM3 5h1v1h-1zM19 5h3v1h-3zM3 6h1v1h-1zM19 6h3v1h-3zM20 7h3v1h-3zM20 8h3v1h-3zM20 9h3v1h-3zM20 10h3v1h-3zM3 11h1v1h-1zM19 11h3v1h-3zM3 12h1v1h-1zM19 12h3v1h-3zM4 13h1v1h-1zM18 13h3v1h-3zM4 14h1v1h-1zM18 14h2v1h-2zM6 15h1v1h-1zM15 15h2v1h-2zM10 16h3v1h-3z"/>
<path fill="#e1e8e8" d="M7 2h1v1h-1zM15 2h1v1h-1zM16 3h2v1h-2zM17 4h1v1h-1zM4 5h1v1h-1zM18 5h1v1h-1zM18 6h1v1h-1zM3 7h1v1h-1zM19 7h1v1h-1zM3 8h1v1h-1zM19 8h1v1h-1zM3 9h1v1h-1zM19 9h1v1h-1zM3 10h1v1h-1zM19 10h1v1h-1zM18 11h1v1h-1zM4 12h1v1h-1zM18 12h1v1h-1zM17 13h1v1h-1zM5 14h1v1h-1zM16 14h2v1h-2zM7 15h1v1h-1zM14 15h1v1h-1z"/>
<path fill="#e0e7e7" d="M8 2h1v1h-1zM13 2h2v1h-2zM6 3h1v1h-1zM15 3h1v1h-1zM5 4h1v1h-1zM16 4h1v1h-1zM17 5h1v1h-1zM4 6h1v1h-1zM18 7h1v1h-1zM18 8h1v1h-1zM18 9h1v1h-1zM18 10h1v1h-1zM4 11h1v1h-1zM17 12h1v1h-1zM5 13h1v1h-1zM6 14h1v1h-1zM15 14h1v1h-1zM8 15h2v1h-2zM13 15h1v1h-1z"/>
<path fill="#dfe6e6" d="M9 2h4v1h-4zM7 3h1v1h-1zM14 3h1v1h-1zM6 4h1v1h-1zM5 5h1v1h-1zM17 6h1v1h-1zM4 7h1v1h-1zM17 7h1v1h-1zM4 8h1v1h-1zM4 9h1v1h-1zM4 10h1v1h-1zM17 10h1v1h-1zM17 11h1v1h-1zM5 12h1v1h-1zM16 13h1v1h-1zM7 14h1v1h-1zM10 15h3v1h-3z"/>
<path fill="#dee6e6" d="M8 3h1v1h-1zM15 4h1v1h-1zM16 5h1v1h-1zM5 6h1v1h-1zM17 8h1v1h-1zM17 9h1v1h-1zM16 12h1v1h-1zM6 13h1v1h-1zM15 13h1v1h-1zM14 14h1v1h-1z"/>
<path fill="#dde5e5" d="M9 3h1v1h-1zM12 3h2v1h-2zM7 4h1v1h-1zM14 4h1v1h-1zM6 5h1v1h-1zM15 5h1v1h-1zM16 6h1v1h-1zM5 7h1v1h-1zM16 7h1v1h-1zM5 10h1v1h-1zM5 11h1v1h-1zM16 11h1v1h-1zM6 12h1v1h-1zM7 13h1v1h-1zM8 14h2v1h-2zM13 14h1v1h-1z"/>
<path fill="#dde4e4" d="M10 3h2v1h-2zM8 4h1v1h-1zM13 4h1v1h-1zM7 5h1v1h-1zM6 6h1v1h-1zM15 6h1v1h-1zM5 8h1v1h-1zM16 8h1v1h-1zM5 9h1v1h-1zM16 9h1v1h-1zM16 10h1v1h-1zM6 11h1v1h-1zM15 12h1v1h-1zM8 13h1v1h-1zM14 13h1v1h-1zM10 14h3v1h-3z"/>
<path fill="#dce4e4" d="M9 4h4v1h-4zM8 5h7v1h-7zM7 6h8v1h-8zM6 7h10v1h-10zM6 8h10v1h-10zM6 9h10v1h-10zM6 10h10v1h-10zM7 11h9v1h-9zM7 12h8v1h-8zM9 13h5v1h-5z"/>
</g>
<g transform="translate(917.95 81.20) scale(5.2677 5.2118)">
<rect width="31" height="17" fill="#e4eaea"/>
<path fill="#e8eded" d="M0 0h1v1h-1zM30 0h1v1h-1zM0 16h1v1h-1zM30 16h1v1h-1z"/>
<path fill="#e7ecec" d="M1 0h1v1h-1zM29 0h1v1h-1zM0 1h1v1h-1zM30 1h1v1h-1zM0 15h1v1h-1zM30 15h1v1h-1zM29 16h1v1h-1z"/>
<path fill="#e6ecec" d="M28 0h1v1h-1zM1 1h1v1h-1zM29 1h1v1h-1zM0 2h1v1h-1zM30 2h1v1h-1zM0 3h1v1h-1zM30 3h1v1h-1zM0 4h1v1h-1zM30 4h1v1h-1zM30 5h1v1h-1zM30 6h1v1h-1zM30 7h1v1h-1zM30 8h1v1h-1zM30 9h1v1h-1zM30 10h1v1h-1zM30 11h1v1h-1zM0 12h1v1h-1zM30 12h1v1h-1zM0 13h1v1h-1zM30 13h1v1h-1zM0 14h1v1h-1zM30 14h1v1h-1zM29 15h1v1h-1zM1 16h1v1h-1zM28 16h1v1h-1z"/>
<path fill="#e5ebeb" d="M2 0h3v1h-3zM22 0h6v1h-6zM28 1h1v1h-1zM1 2h1v1h-1zM29 2h1v1h-1zM1 3h1v1h-1zM29 3h1v1h-1zM29 4h1v1h-1zM0 5h1v1h-1zM29 5h1v1h-1zM0 6h1v1h-1zM29 6h1v1h-1zM0 7h1v1h-1zM29 7h1v1h-1zM0 8h1v1h-1zM29 8h1v1h-1zM0 9h1v1h-1zM29 9h1v1h-1zM0 10h1v1h-1zM29 10h1v1h-1zM0 11h1v1h-1zM29 11h1v1h-1zM29 12h1v1h-1zM29 13h1v1h-1zM1 14h1v1h-1zM29 14h1v1h-1zM1 15h1v1h-1zM28 15h1v1h-1zM2 16h1v1h-1zM23 16h5v1h-5z"/>
<path fill="#e5eaea" d="M5 0h3v1h-3zM17 0h5v1h-5zM2 1h2v1h-2zM22 1h6v1h-6zM27 2h2v1h-2zM28 3h1v1h-1zM1 4h1v1h-1zM28 4h1v1h-1zM1 5h1v1h-1zM28 5h1v1h-1zM1 6h1v1h-1zM28 6h1v1h-1zM1 7h1v1h-1zM28 7h1v1h-1zM1 8h1v1h-1zM28 8h1v1h-1zM1 9h1v1h-1zM28 9h1v1h-1zM1 10h1v1h-1zM28 10h1v1h-1zM1 11h1v1h-1zM28 11h1v1h-1zM1 12h1v1h-1zM28 12h1v1h-1zM1 13h1v1h-1zM28 13h1v1h-1zM27 14h2v1h-2zM2 15h1v1h-1zM23 15h5v1h-5zM3 16h3v1h-3zM19 16h4v1h-4z"/>
<path fill="#e3e9e9" d="M7 1h2v1h-2zM15 1h3v1h-3zM4 2h2v1h-2zM19 2h3v1h-3zM3 3h2v1h-2zM20 3h3v1h-3zM3 4h1v1h-1zM21 4h3v1h-3zM22 5h3v1h-3zM2 6h1v1h-1zM22 6h3v1h-3zM2 7h1v1h-1zM23 7h2v1h-2zM2 8h1v1h-1zM23 8h2v1h-2zM2 9h1v1h-1zM23 9h2v1h-2zM2 10h1v1h-1zM23 10h2v1h-2zM2 11h1v1h-1zM22 11h3v1h-3zM22 12h3v1h-3zM3 13h1v1h-1zM21 13h3v1h-3zM3 14h1v1h-1zM20 14h3v1h-3zM5 15h1v1h-1zM17 15h3v1h-3zM8 16h2v1h-2zM13 16h2v1h-2z"/>
<path fill="#e2e8e8" d="M9 1h6v1h-6zM6 2h1v1h-1zM16 2h3v1h-3zM5 3h1v1h-1zM18 3h2v1h-2zM4 4h1v1h-1zM18 4h3v1h-3zM3 5h1v1h-1zM19 5h3v1h-3zM3 6h1v1h-1zM19 6h3v1h-3zM20 7h3v1h-3zM20 8h3v1h-3zM20 9h3v1h-3zM20 10h3v1h-3zM3 11h1v1h-1zM19 11h3v1h-3zM3 12h1v1h-1zM19 12h3v1h-3zM4 13h1v1h-1zM18 13h3v1h-3zM4 14h1v1h-1zM18 14h2v1h-2zM6 15h1v1h-1zM15 15h2v1h-2zM10 16h3v1h-3z"/>
<path fill="#e1e8e8" d="M7 2h1v1h-1zM15 2h1v1h-1zM16 3h2v1h-2zM17 4h1v1h-1zM4 5h1v1h-1zM18 5h1v1h-1zM18 6h1v1h-1zM3 7h1v1h-1zM19 7h1v1h-1zM3 8h1v1h-1zM19 8h1v1h-1zM3 9h1v1h-1zM19 9h1v1h-1zM3 10h1v1h-1zM19 10h1v1h-1zM18 11h1v1h-1zM4 12h1v1h-1zM18 12h1v1h-1zM17 13h1v1h-1zM5 14h1v1h-1zM16 14h2v1h-2zM7 15h1v1h-1zM14 15h1v1h-1z"/>
<path fill="#e0e7e7" d="M8 2h1v1h-1zM13 2h2v1h-2zM6 3h1v1h-1zM15 3h1v1h-1zM5 4h1v1h-1zM16 4h1v1h-1zM17 5h1v1h-1zM4 6h1v1h-1zM18 7h1v1h-1zM18 8h1v1h-1zM18 9h1v1h-1zM18 10h1v1h-1zM4 11h1v1h-1zM17 12h1v1h-1zM5 13h1v1h-1zM6 14h1v1h-1zM15 14h1v1h-1zM8 15h2v1h-2zM13 15h1v1h-1z"/>
<path fill="#dfe6e6" d="M9 2h4v1h-4zM7 3h1v1h-1zM14 3h1v1h-1zM6 4h1v1h-1zM5 5h1v1h-1zM17 6h1v1h-1zM4 7h1v1h-1zM17 7h1v1h-1zM4 8h1v1h-1zM4 9h1v1h-1zM4 10h1v1h-1zM17 10h1v1h-1zM17 11h1v1h-1zM5 12h1v1h-1zM16 13h1v1h-1zM7 14h1v1h-1zM10 15h3v1h-3z"/>
<path fill="#dee6e6" d="M8 3h1v1h-1zM15 4h1v1h-1zM16 5h1v1h-1zM5 6h1v1h-1zM17 8h1v1h-1zM17 9h1v1h-1zM16 12h1v1h-1zM6 13h1v1h-1zM15 13h1v1h-1zM14 14h1v1h-1z"/>
<path fill="#dde5e5" d="M9 3h1v1h-1zM12 3h2v1h-2zM7 4h1v1h-1zM14 4h1v1h-1zM6 5h1v1h-1zM15 5h1v1h-1zM16 6h1v1h-1zM5 7h1v1h-1zM16 7h1v1h-1zM5 10h1v1h-1zM5 11h1v1h-1zM16 11h1v1h-1zM6 12h1v1h-1zM7 13h1v1h-1zM8 14h2v1h-2zM13 14h1v1h-1z"/>
<path fill="#dde4e4" d="M10 3h2v1h-2zM8 4h1v1h-1zM13 4h1v1h-1zM7 5h1v1h-1zM6 6h1v1h-1zM15 6h1v1h-1zM5 8h1v1h-1zM16 8h1v1h-1zM5 9h1v1h-1zM16 9h1v1h-1zM16 10h1v1h-1zM6 11h1v1h-1zM15 12h1v1h-1zM8 13h1v1h-1zM14 13h1v1h-1zM10 14h3v1h-3z"/>
<path fill="#dce4e4" d="M9 4h4v1h-4zM8 5h7v1h-7zM7 6h8v1h-8zM6 7h10v1h-10zM6 8h10v1h-10zM6 9h10v1h-10zM6 10h10v1h-10zM7 11h9v1h-9zM7 12h8v1h-8zM9 13h5v1h-5z"/>
</g>
<g transform="translate(1092.05 81.20) scale(5.2677 5.2118)">
<rect width="31" height="17" fill="#dce4e4"/>
<path fill="#e8eded" d="M0 0h1v1h-1zM30 0h1v1h-1zM0 16h1v1h-1zM30 16h1v1h-1z"/>
<path fill="#e7ecec" d="M1 0h1v1h-1zM29 0h1v1h-1zM0 1h1v1h-1zM30 1h1v1h-1zM0 15h1v1h-1zM30 15h1v1h-1zM1 16h1v1h-1zM29 16h1v1h-1z"/>
<path fill="#e6ecec" d="M2 0h1v1h-1zM28 0h1v1h-1zM1 1h1v1h-1zM29 1h1v1h-1zM0 2h1v1h-1zM30 2h1v1h-1zM0 3h1v1h-1zM30 3h1v1h-1zM0 4h1v1h-1zM30 4h1v1h-1zM0 5h1v1h-1zM30 5h1v1h-1zM0 6h1v1h-1zM30 6h1v1h-1zM0 7h1v1h-1zM30 7h1v1h-1zM0 8h1v1h-1zM30 8h1v1h-1zM0 9h1v1h-1zM30 9h1v1h-1zM0 10h1v1h-1zM30 10h1v1h-1zM0 11h1v1h-1zM30 11h1v1h-1zM0 12h1v1h-1zM30 12h1v1h-1zM0 13h1v1h-1zM30 13h1v1h-1zM0 14h1v1h-1zM30 14h1v1h-1zM1 15h1v1h-1zM29 15h1v1h-1zM28 16h1v1h-1z"/>
<path fill="#e5ebeb" d="M3 0h3v1h-3zM23 0h5v1h-5zM2 1h1v1h-1zM28 1h1v1h-1zM1 2h1v1h-1zM29 2h1v1h-1zM1 3h1v1h-1zM29 3h1v1h-1zM1 4h1v1h-1zM29 4h1v1h-1zM1 5h1v1h-1zM29 5h1v1h-1zM1 6h1v1h-1zM29 6h1v1h-1zM29 7h1v1h-1zM29 8h1v1h-1zM29 9h1v1h-1zM29 10h1v1h-1zM1 11h1v1h-1zM29 11h1v1h-1zM1 12h1v1h-1zM29 12h1v1h-1zM1 13h1v1h-1zM29 13h1v1h-1zM1 14h1v1h-1zM29 14h1v1h-1zM2 15h1v1h-1zM28 15h1v1h-1zM2 16h3v1h-3zM24 16h4v1h-4z"/>
<path fill="#e5eaea" d="M6 0h4v1h-4zM18 0h5v1h-5zM3 1h3v1h-3zM24 1h4v1h-4zM2 2h1v1h-1zM28 2h1v1h-1zM2 3h1v1h-1zM28 3h1v1h-1zM28 4h1v1h-1zM28 5h1v1h-1zM28 6h1v1h-1zM1 7h1v1h-1zM28 7h1v1h-1zM1 8h1v1h-1zM28 8h1v1h-1zM1 9h1v1h-1zM28 9h1v1h-1zM1 10h1v1h-1zM28 10h1v1h-1zM28 11h1v1h-1zM28 12h1v1h-1zM2 13h1v1h-1zM28 13h1v1h-1zM2 14h1v1h-1zM28 14h1v1h-1zM3 15h2v1h-2zM25 15h3v1h-3zM5 16h3v1h-3zM20 16h4v1h-4z"/>
<path fill="#e4eaea" d="M10 0h8v1h-8zM6 1h2v1h-2zM20 1h4v1h-4zM3 2h2v1h-2zM24 2h4v1h-4zM3 3h1v1h-1zM25 3h3v1h-3zM2 4h2v1h-2zM26 4h2v1h-2zM2 5h1v1h-1zM26 5h2v1h-2zM2 6h1v1h-1zM27 6h1v1h-1zM2 7h1v1h-1zM27 7h1v1h-1zM2 8h1v1h-1zM27 8h1v1h-1zM2 9h1v1h-1zM27 9h1v1h-1zM2 10h1v1h-1zM27 10h1v1h-1zM2 11h1v1h-1zM26 11h2v1h-2zM2 12h1v1h-1zM26 12h2v1h-2zM3 13h1v1h-1zM25 13h3v1h-3zM3 14h1v1h-1zM25 14h3v1h-3zM5 15h2v1h-2zM21 15h4v1h-4zM8 16h1v1h-1zM17 16h3v1h-3z"/>
<path fill="#e3e9e9" d="M8 1h2v1h-2zM16 1h4v1h-4zM5 2h2v1h-2zM20 2h4v1h-4zM4 3h2v1h-2zM22 3h3v1h-3zM4 4h1v1h-1zM23 4h3v1h-3zM3 5h2v1h-2zM23 5h3v1h-3zM3 6h1v1h-1zM24 6h3v1h-3zM3 7h1v1h-1zM24 7h3v1h-3zM3 8h1v1h-1zM24 8h3v1h-3zM3 9h1v1h-1zM24 9h3v1h-3zM3 10h1v1h-1zM24 10h3v1h-3zM3 11h1v1h-1zM24 11h2v1h-2zM3 12h2v1h-2zM23 12h3v1h-3zM4 13h1v1h-1zM23 13h2v1h-2zM4 14h2v1h-2zM22 14h3v1h-3zM7 15h1v1h-1zM18 15h3v1h-3zM9 16h2v1h-2zM14 16h3v1h-3z"/>
<path fill="#e2e8e8" d="M10 1h6v1h-6zM7 2h1v1h-1zM18 2h2v1h-2zM6 3h1v1h-1zM19 3h3v1h-3zM5 4h1v1h-1zM20 4h3v1h-3zM5 5h1v1h-1zM21 5h2v1h-2zM4 6h1v1h-1zM21 6h3v1h-3zM4 7h1v1h-1zM21 7h3v1h-3zM4 8h1v1h-1zM21 8h3v1h-3zM4 9h1v1h-1zM21 9h3v1h-3zM4 10h1v1h-1zM21 10h3v1h-3zM4 11h1v1h-1zM21 11h3v1h-3zM5 12h1v1h-1zM21 12h2v1h-2zM5 13h1v1h-1zM20 13h3v1h-3zM6 14h1v1h-1zM19 14h3v1h-3zM8 15h1v1h-1zM17 15h1v1h-1zM11 16h3v1h-3z"/>
<path fill="#e1e8e8" d="M8 2h1v1h-1zM16 2h2v1h-2zM7 3h1v1h-1zM18 3h1v1h-1zM6 4h1v1h-1zM19 4h1v1h-1zM19 5h2v1h-2zM5 6h1v1h-1zM20 6h1v1h-1zM20 7h1v1h-1zM20 8h1v1h-1zM20 9h1v1h-1zM20 10h1v1h-1zM5 11h1v1h-1zM20 11h1v1h-1zM19 12h2v1h-2zM6 13h1v1h-1zM19 13h1v1h-1zM7 14h1v1h-1zM18 14h1v1h-1zM9 15h1v1h-1zM15 15h2v1h-2z"/>
<path fill="#e0e7e7" d="M9 2h2v1h-2zM15 2h1v1h-1zM8 3h1v1h-1zM17 3h1v1h-1zM18 4h1v1h-1zM6 5h1v1h-1zM19 6h1v1h-1zM5 7h1v1h-1zM19 7h1v1h-1zM5 8h1v1h-1zM5 9h1v1h-1zM5 10h1v1h-1zM19 10h1v1h-1zM19 11h1v1h-1zM6 12h1v1h-1zM18 13h1v1h-1zM17 14h1v1h-1zM10 15h1v1h-1zM14 15h1v1h-1z"/>
<path fill="#dfe6e6" d="M11 2h4v1h-4zM16 3h1v1h-1zM7 4h1v1h-1zM17 4h1v1h-1zM18 5h1v1h-1zM6 6h1v1h-1zM19 8h1v1h-1zM19 9h1v1h-1zM6 11h1v1h-1zM18 12h1v1h-1zM7 13h1v1h-1zM17 13h1v1h-1zM8 14h1v1h-1zM16 14h1v1h-1zM11 15h3v1h-3z"/>
<path fill="#dee6e6" d="M9 3h1v1h-1zM15 3h1v1h-1zM8 4h1v1h-1zM7 5h1v1h-1zM18 6h1v1h-1zM6 7h1v1h-1zM18 7h1v1h-1zM6 8h1v1h-1zM6 10h1v1h-1zM18 11h1v1h-1zM7 12h1v1h-1zM9 14h1v1h-1zM15 14h1v1h-1z"/>
<path fill="#dde5e5" d="M10 3h2v1h-2zM13 3h2v1h-2zM16 4h1v1h-1zM17 5h1v1h-1zM7 6h1v1h-1zM18 8h1v1h-1zM6 9h1v1h-1zM18 9h1v1h-1zM18 10h1v1h-1zM17 12h1v1h-1zM8 13h1v1h-1zM16 13h1v1h-1zM10 14h1v1h-1zM14 14h1v1h-1z"/>
<path fill="#dde4e4" d="M12 3h1v1h-1zM9 4h1v1h-1zM15 4h1v1h-1zM8 5h1v1h-1zM16 5h1v1h-1zM17 6h1v1h-1zM7 7h1v1h-1zM17 7h1v1h-1zM7 8h1v1h-1zM7 9h1v1h-1zM7 10h1v1h-1zM17 10h1v1h-1zM7 11h1v1h-1zM17 11h1v1h-1zM8 12h1v1h-1zM16 12h1v1h-1zM9 13h1v1h-1zM15 13h1v1h-1zM11 14h3v1h-3z"/>
</g>
<g transform="translate(47.45 180.67) scale(5.2677 5.2118)">
<rect width="31" height="17" fill="#8997a4"/>
<path fill="#bdcece" d="M29 1h1v1h-1zM29 15h1v1h-1z"/>
<path fill="#b9cbcb" d="M1 1h1v1h-1zM1 15h1v1h-1z"/>
<path fill="#b3c7c7" d="M30 1h1v1h-1z"/>
<path fill="#b2c5c5" d="M29 0h1v1h-1z"/>
<path fill="#b0c3c4" d="M30 0h1v1h-1zM29 14h1v1h-1z"/>
<path fill="#aec1c3" d="M1 0h1v1h-1zM29 2h1v1h-1zM28 15h1v1h-1zM30 15h1v1h-1zM1 16h1v1h-1zM29 16h1v1h-1z"/>
<path fill="#acbfc1" d="M2 1h1v1h-1zM28 1h1v1h-1zM30 2h1v1h-1zM1 14h1v1h-1zM2 15h1v1h-1z"/>
<path fill="#abbdc0" d="M28 0h1v1h-1zM0 1h1v1h-1zM1 2h1v1h-1zM28 14h1v1h-1zM30 14h1v1h-1zM0 15h1v1h-1z"/>
<path fill="#a9bbbe" d="M2 16h1v1h-1zM28 16h1v1h-1zM30 16h1v1h-1z"/>
<path fill="#a7b9bd" d="M0 0h1v1h-1zM2 0h1v1h-1zM0 2h1v1h-1zM28 2h1v1h-1zM29 8h2v1h-2zM30 9h1v1h-1zM29 13h1v1h-1zM0 14h1v1h-1zM0 16h1v1h-1z"/>
<path fill="#a5b7bc" d="M27 0h1v1h-1zM2 2h1v1h-1zM29 3h2v1h-2zM29 5h2v1h-2zM29 6h2v1h-2zM29 7h2v1h-2zM29 9h1v1h-1zM29 10h1v1h-1zM29 11h2v1h-2zM29 12h2v1h-2zM30 13h1v1h-1zM2 14h1v1h-1z"/>
<path fill="#a4b5ba" d="M3 1h1v1h-1zM0 3h2v1h-2zM28 3h1v1h-1zM29 4h2v1h-2zM1 8h1v1h-1zM1 9h1v1h-1zM1 10h1v1h-1zM30 10h1v1h-1zM1 11h1v1h-1zM1 13h1v1h-1zM28 13h1v1h-1zM27 16h1v1h-1z"/>
<path fill="#a2b4b9" d="M3 0h1v1h-1zM27 1h1v1h-1zM1 4h1v1h-1zM28 4h1v1h-1zM1 5h1v1h-1zM0 6h2v1h-2zM0 7h2v1h-2zM28 7h1v1h-1zM0 10h1v1h-1zM28 10h1v1h-1zM0 11h1v1h-1zM28 11h1v1h-1zM1 12h1v1h-1zM28 12h1v1h-1zM0 13h1v1h-1zM2 13h1v1h-1zM27 14h1v1h-1zM27 15h1v1h-1z"/>
<path fill="#a0b2b8" d="M3 2h1v1h-1zM2 3h1v1h-1zM0 4h1v1h-1zM0 5h1v1h-1zM28 5h1v1h-1zM28 6h1v1h-1zM0 8h1v1h-1zM2 8h1v1h-1zM28 8h1v1h-1zM0 9h1v1h-1zM2 9h1v1h-1zM28 9h1v1h-1zM2 10h1v1h-1zM2 11h1v1h-1zM0 12h1v1h-1zM2 12h1v1h-1zM3 15h1v1h-1zM3 16h1v1h-1z"/>
<path fill="#9fb0b6" d="M26 0h1v1h-1zM4 1h1v1h-1zM27 2h1v1h-1zM2 7h1v1h-1zM3 14h1v1h-1z"/>
<path fill="#9daeb5" d="M4 0h1v1h-1zM26 1h1v1h-1zM27 3h1v1h-1zM2 4h1v1h-1zM2 5h1v1h-1zM2 6h1v1h-1zM27 13h1v1h-1zM26 16h1v1h-1z"/>
<path fill="#9bacb3" d="M25 0h1v1h-1zM27 4h1v1h-1zM3 9h1v1h-1zM27 10h1v1h-1zM3 11h1v1h-1zM27 11h1v1h-1zM3 12h1v1h-1zM3 13h1v1h-1zM4 15h1v1h-1zM26 15h1v1h-1z"/>
<path fill="#9aaab2" d="M5 0h1v1h-1zM14 0h1v1h-1zM5 1h1v1h-1zM13 1h2v1h-2zM25 1h1v1h-1zM4 2h1v1h-1zM3 3h1v1h-1zM27 5h1v1h-1zM27 6h1v1h-1zM27 7h1v1h-1zM3 8h1v1h-1zM27 8h1v1h-1zM27 9h1v1h-1zM3 10h1v1h-1zM27 12h1v1h-1zM26 14h1v1h-1zM5 15h1v1h-1zM20 15h1v1h-1zM23 15h1v1h-1zM4 16h2v1h-2zM14 16h4v1h-4zM20 16h4v1h-4z"/>
<path fill="#98a8b1" d="M6 0h2v1h-2zM10 0h4v1h-4zM15 0h1v1h-1zM18 0h2v1h-2zM24 0h1v1h-1zM12 1h1v1h-1zM15 1h1v1h-1zM22 1h1v1h-1zM24 1h1v1h-1zM5 2h1v1h-1zM3 7h1v1h-1zM4 14h1v1h-1zM6 15h5v1h-5zM13 15h5v1h-5zM19 15h1v1h-1zM21 15h2v1h-2zM24 15h2v1h-2zM6 16h5v1h-5zM19 16h1v1h-1zM24 16h2v1h-2z"/>
<path fill="#96a6af" d="M8 0h2v1h-2zM16 0h2v1h-2zM20 0h3v1h-3zM6 1h6v1h-6zM16 1h6v1h-6zM23 1h1v1h-1zM26 2h1v1h-1zM3 4h1v1h-1zM3 5h1v1h-1zM3 6h1v1h-1zM15 14h3v1h-3zM23 14h3v1h-3zM11 15h2v1h-2zM18 15h1v1h-1zM11 16h3v1h-3zM18 16h1v1h-1z"/>
<path fill="#95a4ae" d="M23 0h1v1h-1zM6 2h2v1h-2zM13 2h2v1h-2zM17 2h1v1h-1zM21 2h5v1h-5zM26 13h1v1h-1zM5 14h2v1h-2zM9 14h2v1h-2zM14 14h1v1h-1zM18 14h5v1h-5z"/>
<path fill="#93a2ad" d="M8 2h5v1h-5zM15 2h2v1h-2zM18 2h1v1h-1zM20 2h1v1h-1zM26 3h1v1h-1zM26 4h1v1h-1zM4 12h1v1h-1zM4 13h1v1h-1zM7 14h1v1h-1zM11 14h3v1h-3z"/>
<path fill="#91a1ab" d="M19 2h1v1h-1zM4 3h1v1h-1zM26 5h1v1h-1zM26 6h1v1h-1zM4 9h1v1h-1zM26 9h1v1h-1zM4 10h1v1h-1zM26 10h1v1h-1zM4 11h1v1h-1zM26 11h1v1h-1zM8 14h1v1h-1z"/>
<path fill="#909faa" d="M5 3h1v1h-1zM25 3h1v1h-1zM26 7h1v1h-1zM4 8h1v1h-1zM26 8h1v1h-1zM26 12h1v1h-1zM15 13h3v1h-3zM23 13h1v1h-1zM25 13h1v1h-1z"/>
<path fill="#8e9da8" d="M6 3h2v1h-2zM10 3h2v1h-2zM16 3h2v1h-2zM20 3h5v1h-5zM4 4h1v1h-1zM25 4h1v1h-1zM4 5h1v1h-1zM4 6h1v1h-1zM4 7h1v1h-1zM12 12h1v1h-1zM5 13h1v1h-1zM9 13h6v1h-6zM18 13h5v1h-5zM24 13h1v1h-1z"/>
<path fill="#8c9ba7" d="M8 3h2v1h-2zM12 3h4v1h-4zM18 3h2v1h-2zM25 5h1v1h-1zM25 6h1v1h-1zM25 10h1v1h-1zM12 11h1v1h-1zM11 12h1v1h-1zM13 12h1v1h-1zM6 13h1v1h-1z"/>
<path fill="#8b99a6" d="M5 4h4v1h-4zM10 4h6v1h-6zM19 4h6v1h-6zM5 5h1v1h-1zM13 5h2v1h-2zM24 5h1v1h-1zM5 6h1v1h-1zM14 6h1v1h-1zM24 6h1v1h-1zM5 7h1v1h-1zM24 7h2v1h-2zM5 8h1v1h-1zM25 8h1v1h-1zM5 9h1v1h-1zM25 9h1v1h-1zM5 10h1v1h-1zM12 10h1v1h-1zM23 10h1v1h-1zM5 11h1v1h-1zM13 11h1v1h-1zM15 11h1v1h-1zM25 11h1v1h-1zM5 12h1v1h-1zM14 12h5v1h-5zM20 12h6v1h-6zM7 13h2v1h-2z"/>
<path fill="#8895a3" d="M6 5h2v1h-2zM9 5h1v1h-1zM21 5h1v1h-1zM9 6h1v1h-1zM11 6h2v1h-2zM18 6h4v1h-4zM11 7h3v1h-3zM15 7h8v1h-8zM6 8h2v1h-2zM11 8h1v1h-1zM13 8h1v1h-1zM15 8h1v1h-1zM18 8h6v1h-6zM6 9h2v1h-2zM10 9h4v1h-4zM16 9h1v1h-1zM19 9h3v1h-3zM7 10h1v1h-1zM9 10h1v1h-1zM11 10h1v1h-1zM17 10h4v1h-4zM8 11h1v1h-1zM18 11h3v1h-3zM6 12h3v1h-3z"/>
<path fill="#8693a2" d="M12 8h1v1h-1zM16 8h2v1h-2zM17 9h2v1h-2zM6 10h1v1h-1zM10 10h1v1h-1zM6 11h2v1h-2zM9 11h2v1h-2z"/>
</g>
<g transform="translate(221.55 180.67) scale(5.2677 5.2118)">
<rect width="31" height="17" fill="#8997a4"/>
<path fill="#a4b5ba" d="M30 0h1v1h-1zM29 15h1v1h-1zM29 16h1v1h-1z"/>
<path fill="#a2b4b9" d="M29 0h1v1h-1zM29 14h1v1h-1zM30 15h1v1h-1z"/>
<path fill="#a0b2b8" d="M0 0h1v1h-1zM0 1h1v1h-1zM29 1h2v1h-2zM30 14h1v1h-1zM28 15h1v1h-1zM28 16h1v1h-1zM30 16h1v1h-1z"/>
<path fill="#9fb0b6" d="M1 0h1v1h-1zM28 0h1v1h-1zM1 1h1v1h-1zM28 1h1v1h-1zM29 2h2v1h-2zM29 3h2v1h-2zM29 4h1v1h-1zM30 7h1v1h-1zM29 10h2v1h-2zM29 11h2v1h-2zM29 13h1v1h-1zM28 14h1v1h-1zM0 16h2v1h-2z"/>
<path fill="#9daeb5" d="M2 0h1v1h-1zM27 0h1v1h-1zM0 2h2v1h-2zM28 2h1v1h-1zM30 4h1v1h-1zM29 5h1v1h-1zM29 6h2v1h-2zM29 7h1v1h-1zM29 8h1v1h-1zM29 9h1v1h-1zM0 10h1v1h-1zM29 12h2v1h-2zM30 13h1v1h-1zM1 14h1v1h-1zM0 15h2v1h-2zM2 16h1v1h-1zM27 16h1v1h-1z"/>
<path fill="#9bacb3" d="M2 1h1v1h-1zM27 1h1v1h-1zM2 2h1v1h-1zM1 3h1v1h-1zM28 3h1v1h-1zM28 5h1v1h-1zM30 5h1v1h-1zM28 6h1v1h-1zM0 7h1v1h-1zM28 7h1v1h-1zM28 8h1v1h-1zM30 8h1v1h-1zM0 9h2v1h-2zM28 9h1v1h-1zM30 9h1v1h-1zM1 10h1v1h-1zM0 11h1v1h-1zM1 13h1v1h-1zM28 13h1v1h-1zM0 14h1v1h-1zM2 15h1v1h-1z"/>
<path fill="#9aaab2" d="M3 0h1v1h-1zM3 1h1v1h-1zM27 2h1v1h-1zM0 3h1v1h-1zM1 4h1v1h-1zM28 4h1v1h-1zM1 5h1v1h-1zM1 7h1v1h-1zM0 8h2v1h-2zM27 8h1v1h-1zM28 10h1v1h-1zM1 11h1v1h-1zM28 11h1v1h-1zM1 12h2v1h-2zM28 12h1v1h-1zM0 13h1v1h-1zM2 13h1v1h-1zM2 14h1v1h-1zM3 15h1v1h-1zM27 15h1v1h-1zM3 16h1v1h-1z"/>
<path fill="#98a8b1" d="M26 0h1v1h-1zM3 2h1v1h-1zM2 3h1v1h-1zM0 4h1v1h-1zM2 4h1v1h-1zM2 5h1v1h-1zM0 6h2v1h-2zM27 7h1v1h-1zM27 9h1v1h-1zM2 11h1v1h-1zM0 12h1v1h-1zM27 14h1v1h-1zM25 16h2v1h-2z"/>
<path fill="#96a6af" d="M4 0h2v1h-2zM16 0h2v1h-2zM4 1h1v1h-1zM27 3h1v1h-1zM0 5h1v1h-1zM3 5h1v1h-1zM2 6h1v1h-1zM27 6h1v1h-1zM2 9h1v1h-1zM2 10h1v1h-1zM27 10h1v1h-1zM27 11h1v1h-1zM27 12h1v1h-1zM3 14h1v1h-1zM26 15h1v1h-1zM18 16h1v1h-1zM21 16h1v1h-1z"/>
<path fill="#95a4ae" d="M6 0h1v1h-1zM11 0h2v1h-2zM25 0h1v1h-1zM5 1h1v1h-1zM12 1h2v1h-2zM16 1h2v1h-2zM26 1h1v1h-1zM4 2h1v1h-1zM3 3h1v1h-1zM3 4h1v1h-1zM27 4h1v1h-1zM27 5h1v1h-1zM2 7h1v1h-1zM2 8h1v1h-1zM3 11h1v1h-1zM3 12h1v1h-1zM3 13h1v1h-1zM27 13h1v1h-1zM4 15h2v1h-2zM15 15h1v1h-1zM17 15h2v1h-2zM20 15h3v1h-3zM25 15h1v1h-1zM4 16h1v1h-1zM14 16h1v1h-1zM16 16h2v1h-2zM19 16h2v1h-2zM22 16h3v1h-3z"/>
<path fill="#93a2ad" d="M7 0h2v1h-2zM10 0h1v1h-1zM13 0h3v1h-3zM18 0h7v1h-7zM6 1h1v1h-1zM11 1h1v1h-1zM14 1h2v1h-2zM21 1h3v1h-3zM25 1h1v1h-1zM5 2h1v1h-1zM13 2h2v1h-2zM26 2h1v1h-1zM3 6h1v1h-1zM26 8h1v1h-1zM4 14h1v1h-1zM6 15h2v1h-2zM9 15h2v1h-2zM14 15h1v1h-1zM16 15h1v1h-1zM19 15h1v1h-1zM23 15h1v1h-1zM5 16h1v1h-1zM15 16h1v1h-1z"/>
<path fill="#91a1ab" d="M9 0h1v1h-1zM7 1h4v1h-4zM18 1h3v1h-3zM24 1h1v1h-1zM6 2h1v1h-1zM11 2h2v1h-2zM15 2h3v1h-3zM23 2h1v1h-1zM25 2h1v1h-1zM26 7h1v1h-1zM26 9h1v1h-1zM3 10h1v1h-1zM5 14h3v1h-3zM9 14h1v1h-1zM15 14h1v1h-1zM21 14h2v1h-2zM26 14h1v1h-1zM8 15h1v1h-1zM11 15h3v1h-3zM24 15h1v1h-1zM6 16h1v1h-1zM9 16h2v1h-2zM13 16h1v1h-1z"/>
<path fill="#909faa" d="M7 2h2v1h-2zM10 2h1v1h-1zM18 2h1v1h-1zM21 2h2v1h-2zM24 2h1v1h-1zM4 3h1v1h-1zM26 3h1v1h-1zM26 4h1v1h-1zM26 6h1v1h-1zM26 10h1v1h-1zM26 11h1v1h-1zM26 12h1v1h-1zM8 14h1v1h-1zM10 14h5v1h-5zM16 14h5v1h-5zM25 14h1v1h-1zM7 16h2v1h-2zM11 16h2v1h-2z"/>
<path fill="#8e9da8" d="M9 2h1v1h-1zM19 2h2v1h-2zM16 3h2v1h-2zM4 4h1v1h-1zM4 5h1v1h-1zM26 5h1v1h-1zM25 7h1v1h-1zM25 8h1v1h-1zM3 9h1v1h-1zM4 11h1v1h-1zM4 12h1v1h-1zM4 13h1v1h-1zM26 13h1v1h-1zM23 14h2v1h-2z"/>
<path fill="#8c9ba7" d="M5 3h4v1h-4zM13 3h3v1h-3zM18 3h1v1h-1zM22 3h4v1h-4zM4 6h1v1h-1zM3 7h1v1h-1zM25 9h1v1h-1zM4 10h1v1h-1zM25 12h1v1h-1zM6 13h4v1h-4zM17 13h2v1h-2zM25 13h1v1h-1z"/>
<path fill="#8b99a6" d="M9 3h4v1h-4zM19 3h3v1h-3zM8 4h2v1h-2zM14 4h5v1h-5zM23 4h3v1h-3zM8 5h2v1h-2zM17 5h2v1h-2zM8 6h2v1h-2zM16 6h3v1h-3zM25 6h1v1h-1zM9 7h1v1h-1zM24 7h1v1h-1zM3 8h1v1h-1zM9 8h2v1h-2zM24 8h1v1h-1zM18 9h1v1h-1zM19 10h1v1h-1zM25 10h1v1h-1zM5 11h1v1h-1zM19 11h2v1h-2zM25 11h1v1h-1zM8 12h1v1h-1zM17 12h3v1h-3zM5 13h1v1h-1zM10 13h1v1h-1zM15 13h2v1h-2zM19 13h4v1h-4zM24 13h1v1h-1z"/>
<path fill="#8895a3" d="M11 4h1v1h-1zM6 5h1v1h-1zM20 5h1v1h-1zM22 5h2v1h-2zM11 6h1v1h-1zM14 6h1v1h-1zM20 6h2v1h-2zM4 7h1v1h-1zM7 7h1v1h-1zM11 7h1v1h-1zM14 7h3v1h-3zM21 7h1v1h-1zM7 8h1v1h-1zM15 8h2v1h-2zM21 8h2v1h-2zM6 9h3v1h-3zM11 9h3v1h-3zM15 9h2v1h-2zM20 9h2v1h-2zM7 10h1v1h-1zM10 10h2v1h-2zM13 10h4v1h-4zM21 10h3v1h-3zM8 11h10v1h-10zM21 11h3v1h-3zM10 12h6v1h-6zM21 12h3v1h-3z"/>
<path fill="#8693a2" d="M6 6h1v1h-1zM22 6h1v1h-1zM5 7h2v1h-2zM22 7h1v1h-1zM6 8h1v1h-1zM4 9h2v1h-2zM8 10h2v1h-2zM12 10h1v1h-1z"/>
<path fill="#83909f" d="M4 8h2v1h-2z"/>
</g>
<g transform="translate(395.65 180.67) scale(5.2677 5.2118)">
<rect width="31" height="17" fill="#8997a4"/>
<path fill="#cbd7d7" d="M25 8h1v1h-1z"/>
<path fill="#c9d6d6" d="M26 8h1v1h-1z"/>
<path fill="#c5d3d3" d="M25 9h2v1h-2z"/>
<path fill="#c3d2d2" d="M25 7h2v1h-2z"/>
<path fill="#b5c8c8" d="M24 8h1v1h-1zM26 10h1v1h-1z"/>
<path fill="#b3c7c7" d="M26 6h1v1h-1z"/>
<path fill="#b2c5c5" d="M24 9h1v1h-1zM25 10h1v1h-1z"/>
<path fill="#b0c3c4" d="M25 6h1v1h-1zM24 7h1v1h-1z"/>
<path fill="#abbdc0" d="M27 7h1v1h-1zM27 8h1v1h-1zM27 9h1v1h-1z"/>
<path fill="#a7b9bd" d="M27 6h1v1h-1z"/>
<path fill="#a5b7bc" d="M27 10h1v1h-1z"/>
<path fill="#a4b5ba" d="M29 0h2v1h-2zM23 8h1v1h-1zM30 16h1v1h-1z"/>
<path fill="#a2b4b9" d="M28 0h1v1h-1zM29 1h2v1h-2zM26 11h1v1h-1zM29 14h1v1h-1zM29 15h1v1h-1zM29 16h1v1h-1z"/>
<path fill="#a0b2b8" d="M1 0h1v1h-1zM1 1h1v1h-1zM30 2h1v1h-1zM26 5h1v1h-1zM24 6h1v1h-1zM24 10h1v1h-1zM30 14h1v1h-1zM0 15h2v1h-2zM28 15h1v1h-1zM30 15h1v1h-1zM0 16h2v1h-2z"/>
<path fill="#9fb0b6" d="M0 0h1v1h-1zM2 0h1v1h-1zM27 0h1v1h-1zM0 1h1v1h-1zM2 1h1v1h-1zM28 1h1v1h-1zM1 2h1v1h-1zM29 2h1v1h-1zM30 3h1v1h-1zM27 5h1v1h-1zM23 9h1v1h-1zM29 13h1v1h-1zM28 14h1v1h-1zM2 15h1v1h-1zM2 16h1v1h-1zM28 16h1v1h-1z"/>
<path fill="#9daeb5" d="M0 2h1v1h-1zM2 2h1v1h-1zM28 2h1v1h-1zM29 3h1v1h-1zM30 6h1v1h-1zM23 7h1v1h-1zM30 7h1v1h-1zM30 9h1v1h-1zM1 11h1v1h-1zM27 11h1v1h-1zM0 12h2v1h-2zM30 13h1v1h-1zM0 14h2v1h-2z"/>
<path fill="#9bacb3" d="M3 0h1v1h-1zM27 1h1v1h-1zM0 3h2v1h-2zM28 3h1v1h-1zM28 4h3v1h-3zM28 5h3v1h-3zM1 6h1v1h-1zM28 6h2v1h-2zM1 7h1v1h-1zM28 7h2v1h-2zM1 8h1v1h-1zM30 8h1v1h-1zM0 9h2v1h-2zM28 9h2v1h-2zM0 10h2v1h-2zM28 10h1v1h-1zM30 10h1v1h-1zM0 11h1v1h-1zM29 11h1v1h-1zM29 12h1v1h-1zM0 13h2v1h-2zM28 13h1v1h-1zM2 14h1v1h-1zM3 15h1v1h-1zM27 15h1v1h-1z"/>
<path fill="#9aaab2" d="M26 0h1v1h-1zM3 1h1v1h-1zM27 2h1v1h-1zM2 3h1v1h-1zM1 4h1v1h-1zM1 5h1v1h-1zM25 5h1v1h-1zM0 7h1v1h-1zM0 8h1v1h-1zM28 8h2v1h-2zM29 10h1v1h-1zM25 11h1v1h-1zM28 11h1v1h-1zM30 11h1v1h-1zM28 12h1v1h-1zM30 12h1v1h-1zM27 14h1v1h-1zM3 16h1v1h-1zM27 16h1v1h-1z"/>
<path fill="#98a8b1" d="M4 0h1v1h-1zM3 2h1v1h-1zM0 4h1v1h-1zM2 4h1v1h-1zM27 4h1v1h-1zM0 5h1v1h-1zM0 6h1v1h-1zM2 11h1v1h-1zM2 12h1v1h-1zM27 12h1v1h-1zM2 13h1v1h-1zM27 13h1v1h-1zM3 14h1v1h-1z"/>
<path fill="#96a6af" d="M25 0h1v1h-1zM4 1h1v1h-1zM17 1h2v1h-2zM26 1h1v1h-1zM27 3h1v1h-1zM2 5h1v1h-1zM26 14h1v1h-1zM4 15h1v1h-1zM26 15h1v1h-1zM4 16h2v1h-2zM8 16h1v1h-1zM26 16h1v1h-1z"/>
<path fill="#95a4ae" d="M5 0h1v1h-1zM17 0h2v1h-2zM22 0h3v1h-3zM5 1h1v1h-1zM16 1h1v1h-1zM3 3h1v1h-1zM2 6h1v1h-1zM2 7h1v1h-1zM2 10h1v1h-1zM26 12h1v1h-1zM5 15h3v1h-3zM19 15h4v1h-4zM6 16h2v1h-2zM20 16h1v1h-1z"/>
<path fill="#93a2ad" d="M6 0h1v1h-1zM9 0h2v1h-2zM12 0h2v1h-2zM19 0h1v1h-1zM21 0h1v1h-1zM6 1h2v1h-2zM11 1h2v1h-2zM19 1h1v1h-1zM21 1h5v1h-5zM4 2h2v1h-2zM18 2h1v1h-1zM26 2h1v1h-1zM26 4h1v1h-1zM23 6h1v1h-1zM2 8h1v1h-1zM23 10h1v1h-1zM3 13h1v1h-1zM26 13h1v1h-1zM4 14h1v1h-1zM14 14h1v1h-1zM25 14h1v1h-1zM8 15h8v1h-8zM17 15h2v1h-2zM23 15h3v1h-3zM9 16h4v1h-4zM15 16h1v1h-1zM19 16h1v1h-1zM21 16h3v1h-3zM25 16h1v1h-1z"/>
<path fill="#91a1ab" d="M7 0h2v1h-2zM11 0h1v1h-1zM14 0h3v1h-3zM20 0h1v1h-1zM8 1h3v1h-3zM13 1h1v1h-1zM15 1h1v1h-1zM20 1h1v1h-1zM6 2h7v1h-7zM16 2h2v1h-2zM22 2h1v1h-1zM25 2h1v1h-1zM26 3h1v1h-1zM24 5h1v1h-1zM22 8h1v1h-1zM2 9h1v1h-1zM5 14h3v1h-3zM12 14h2v1h-2zM15 14h1v1h-1zM17 14h3v1h-3zM22 14h3v1h-3zM16 15h1v1h-1zM13 16h2v1h-2zM16 16h3v1h-3zM24 16h1v1h-1z"/>
<path fill="#909faa" d="M14 1h1v1h-1zM13 2h1v1h-1zM19 2h3v1h-3zM23 2h2v1h-2zM9 3h1v1h-1zM25 4h1v1h-1zM22 9h1v1h-1zM24 11h1v1h-1zM8 14h4v1h-4zM16 14h1v1h-1zM20 14h2v1h-2z"/>
<path fill="#8e9da8" d="M14 2h2v1h-2zM4 3h1v1h-1zM8 3h1v1h-1zM10 3h3v1h-3zM24 3h2v1h-2zM3 4h1v1h-1zM22 7h1v1h-1zM3 12h1v1h-1zM25 12h1v1h-1zM14 13h2v1h-2zM25 13h1v1h-1z"/>
<path fill="#8c9ba7" d="M5 3h3v1h-3zM13 3h1v1h-1zM16 3h3v1h-3zM22 3h2v1h-2zM9 4h1v1h-1zM24 4h1v1h-1zM14 12h1v1h-1zM4 13h1v1h-1zM6 13h3v1h-3zM12 13h2v1h-2zM16 13h1v1h-1zM18 13h2v1h-2zM23 13h2v1h-2z"/>
<path fill="#8b99a6" d="M14 3h2v1h-2zM19 3h3v1h-3zM8 4h1v1h-1zM10 4h2v1h-2zM9 5h1v1h-1zM23 5h1v1h-1zM13 7h3v1h-3zM18 7h1v1h-1zM14 8h1v1h-1zM18 8h1v1h-1zM21 8h1v1h-1zM17 9h2v1h-2zM17 10h2v1h-2zM22 10h1v1h-1zM14 11h1v1h-1zM7 12h1v1h-1zM13 12h1v1h-1zM15 12h1v1h-1zM5 13h1v1h-1zM9 13h3v1h-3zM17 13h1v1h-1zM20 13h3v1h-3z"/>
<path fill="#8895a3" d="M6 4h1v1h-1zM19 4h3v1h-3zM11 5h2v1h-2zM17 5h1v1h-1zM19 5h1v1h-1zM22 5h1v1h-1zM10 6h3v1h-3zM20 6h1v1h-1zM11 7h1v1h-1zM10 8h3v1h-3zM10 9h3v1h-3zM9 10h4v1h-4zM8 11h2v1h-2zM12 11h1v1h-1zM15 11h2v1h-2zM22 11h1v1h-1zM6 12h1v1h-1zM9 12h3v1h-3zM17 12h1v1h-1zM20 12h2v1h-2z"/>
<path fill="#8693a2" d="M20 5h2v1h-2zM9 6h1v1h-1zM21 6h1v1h-1zM10 7h1v1h-1zM9 9h1v1h-1zM10 11h2v1h-2z"/>
<path fill="#8591a0" d="M3 5h1v1h-1zM7 5h1v1h-1zM9 7h1v1h-1zM9 8h1v1h-1zM3 11h1v1h-1zM7 11h1v1h-1z"/>
<path fill="#83909f" d="M4 4h2v1h-2zM8 6h1v1h-1zM8 10h1v1h-1z"/>
<path fill="#828e9e" d="M4 12h2v1h-2z"/>
<path fill="#7c8698" d="M8 7h1v1h-1zM8 9h1v1h-1zM6 11h1v1h-1z"/>
<path fill="#7a8497" d="M6 5h1v1h-1zM3 6h1v1h-1zM8 8h1v1h-1zM3 10h1v1h-1z"/>
<path fill="#778094" d="M7 6h1v1h-1zM7 10h1v1h-1z"/>
<path fill="#767e93" d="M3 7h1v1h-1z"/>
<path fill="#747d91" d="M3 9h1v1h-1z"/>
<path fill="#737b90" d="M3 8h1v1h-1z"/>
<path fill="#71798e" d="M4 5h1v1h-1zM4 11h1v1h-1z"/>
<path fill="#70778d" d="M5 5h1v1h-1zM5 11h1v1h-1z"/>
<path fill="#686d86" d="M7 7h1v1h-1zM7 9h1v1h-1z"/>
<path fill="#646882" d="M6 6h1v1h-1zM6 10h1v1h-1z"/>
<path fill="#626681" d="M7 8h1v1h-1z"/>
<path fill="#595a78" d="M4 6h1v1h-1zM4 10h1v1h-1z"/>
<path fill="#555574" d="M5 10h1v1h-1z"/>
<path fill="#525271" d="M5 6h1v1h-1z"/>
<path fill="#4f4f6d" d="M6 7h1v1h-1zM6 9h1v1h-1z"/>
<path fill="#4b4b67" d="M4 7h1v1h-1zM4 9h1v1h-1z"/>
<path fill="#484864" d="M6 8h1v1h-1z"/>
<path fill="#474762" d="M4 8h1v1h-1z"/>
<path fill="#404058" d="M5 9h1v1h-1z"/>
<path fill="#3d3d54" d="M5 7h1v1h-1z"/>
<path fill="#38384d" d="M5 8h1v1h-1z"/>
</g>
<g transform="translate(569.75 180.67) scale(5.2677 5.2118)">
<rect width="31" height="17" fill="#8997a4"/>
<path fill="#d8e1e1" d="M24 8h2v1h-2z"/>
<path fill="#d6dfdf" d="M25 7h1v1h-1zM25 9h1v1h-1z"/>
<path fill="#d5dede" d="M24 7h1v1h-1zM23 8h1v1h-1zM24 9h1v1h-1z"/>
<path fill="#cfdada" d="M25 6h1v1h-1zM23 7h1v1h-1z"/>
<path fill="#cdd9d9" d="M23 9h1v1h-1zM25 10h1v1h-1z"/>
<path fill="#cbd7d7" d="M22 8h1v1h-1z"/>
<path fill="#c9d6d6" d="M26 8h1v1h-1zM26 9h1v1h-1z"/>
<path fill="#c7d4d4" d="M26 7h1v1h-1z"/>
<path fill="#c5d3d3" d="M26 6h1v1h-1zM26 10h1v1h-1z"/>
<path fill="#c3d2d2" d="M24 6h1v1h-1z"/>
<path fill="#c1d0d0" d="M24 10h1v1h-1z"/>
<path fill="#bfcfcf" d="M22 7h1v1h-1zM22 9h1v1h-1z"/>
<path fill="#b9cbcb" d="M26 5h1v1h-1zM26 11h1v1h-1z"/>
<path fill="#b7c9c9" d="M21 8h1v1h-1zM25 11h1v1h-1z"/>
<path fill="#b5c8c8" d="M25 5h1v1h-1zM23 6h1v1h-1z"/>
<path fill="#b2c5c5" d="M23 10h1v1h-1z"/>
<path fill="#acbfc1" d="M27 8h1v1h-1zM27 9h1v1h-1z"/>
<path fill="#abbdc0" d="M21 7h1v1h-1zM27 7h1v1h-1zM21 9h1v1h-1z"/>
<path fill="#a9bbbe" d="M27 6h1v1h-1zM27 10h1v1h-1z"/>
<path fill="#a7b9bd" d="M27 5h1v1h-1z"/>
<path fill="#a5b7bc" d="M24 11h1v1h-1zM27 11h1v1h-1zM26 12h1v1h-1z"/>
<path fill="#a4b5ba" d="M26 4h1v1h-1zM24 5h1v1h-1zM22 6h1v1h-1z"/>
<path fill="#a2b4b9" d="M0 0h2v1h-2zM29 0h1v1h-1zM29 1h1v1h-1zM29 2h2v1h-2zM22 10h1v1h-1zM29 14h2v1h-2zM30 15h1v1h-1z"/>
<path fill="#a0b2b8" d="M30 0h1v1h-1zM0 1h2v1h-2zM30 1h1v1h-1zM0 2h1v1h-1zM29 3h2v1h-2zM27 4h1v1h-1zM27 12h1v1h-1zM29 13h1v1h-1zM0 15h1v1h-1zM29 15h1v1h-1zM30 16h1v1h-1z"/>
<path fill="#9fb0b6" d="M28 0h1v1h-1zM2 1h1v1h-1zM28 1h1v1h-1zM1 2h1v1h-1zM30 6h1v1h-1zM29 7h1v1h-1zM0 11h1v1h-1zM25 12h1v1h-1zM29 12h1v1h-1zM28 13h1v1h-1zM30 13h1v1h-1zM0 14h2v1h-2zM28 14h1v1h-1zM1 15h1v1h-1zM0 16h2v1h-2zM29 16h1v1h-1z"/>
<path fill="#9daeb5" d="M2 0h1v1h-1zM2 2h1v1h-1zM28 2h1v1h-1zM0 3h2v1h-2zM0 4h1v1h-1zM29 4h1v1h-1zM0 5h2v1h-2zM30 5h1v1h-1zM28 6h2v1h-2zM28 7h1v1h-1zM30 7h1v1h-1zM20 8h1v1h-1zM28 8h1v1h-1zM1 10h1v1h-1zM1 11h1v1h-1zM28 11h2v1h-2zM0 12h1v1h-1zM28 12h1v1h-1zM30 12h1v1h-1zM2 15h1v1h-1zM28 15h1v1h-1zM2 16h1v1h-1zM28 16h1v1h-1z"/>
<path fill="#9bacb3" d="M3 1h1v1h-1zM28 3h1v1h-1zM1 4h1v1h-1zM25 4h1v1h-1zM28 4h1v1h-1zM30 4h1v1h-1zM28 5h2v1h-2zM0 6h2v1h-2zM0 7h2v1h-2zM0 8h2v1h-2zM29 8h2v1h-2zM1 9h1v1h-1zM28 9h2v1h-2zM0 10h1v1h-1zM28 10h2v1h-2zM30 11h1v1h-1zM1 12h1v1h-1zM0 13h2v1h-2zM27 13h1v1h-1zM2 14h1v1h-1zM3 16h1v1h-1z"/>
<path fill="#9aaab2" d="M27 1h1v1h-1zM3 2h1v1h-1zM27 3h1v1h-1zM0 9h1v1h-1zM30 9h1v1h-1zM30 10h1v1h-1zM26 13h1v1h-1zM27 14h1v1h-1zM3 15h1v1h-1zM4 16h1v1h-1z"/>
<path fill="#98a8b1" d="M27 0h1v1h-1zM4 1h1v1h-1zM27 2h1v1h-1zM2 3h1v1h-1zM23 5h1v1h-1zM23 11h1v1h-1zM2 13h1v1h-1zM3 14h1v1h-1zM27 15h1v1h-1zM5 16h1v1h-1zM27 16h1v1h-1z"/>
<path fill="#96a6af" d="M3 0h1v1h-1zM13 0h2v1h-2zM13 1h1v1h-1zM26 3h1v1h-1zM20 7h1v1h-1zM20 9h1v1h-1zM2 12h1v1h-1zM26 14h1v1h-1zM4 15h2v1h-2zM12 15h3v1h-3zM26 15h1v1h-1zM13 16h2v1h-2z"/>
<path fill="#95a4ae" d="M4 0h1v1h-1zM12 0h1v1h-1zM15 0h2v1h-2zM5 1h1v1h-1zM9 1h4v1h-4zM14 1h2v1h-2zM22 1h1v1h-1zM26 1h1v1h-1zM4 2h1v1h-1zM26 2h1v1h-1zM2 4h1v1h-1zM21 6h1v1h-1zM2 10h1v1h-1zM21 10h1v1h-1zM2 11h1v1h-1zM7 14h2v1h-2zM25 14h1v1h-1zM6 15h4v1h-4zM11 15h1v1h-1zM15 15h1v1h-1zM25 15h1v1h-1zM9 16h1v1h-1zM12 16h1v1h-1zM15 16h1v1h-1zM26 16h1v1h-1z"/>
<path fill="#93a2ad" d="M5 0h1v1h-1zM8 0h4v1h-4zM17 0h1v1h-1zM19 0h5v1h-5zM26 0h1v1h-1zM8 1h1v1h-1zM16 1h1v1h-1zM19 1h3v1h-3zM23 1h3v1h-3zM13 2h2v1h-2zM2 5h1v1h-1zM2 6h1v1h-1zM2 7h1v1h-1zM2 8h1v1h-1zM2 9h1v1h-1zM25 13h1v1h-1zM4 14h3v1h-3zM9 14h1v1h-1zM10 15h1v1h-1zM16 15h1v1h-1zM24 15h1v1h-1zM6 16h1v1h-1zM8 16h1v1h-1zM10 16h2v1h-2zM16 16h1v1h-1zM19 16h1v1h-1zM24 16h2v1h-2z"/>
<path fill="#91a1ab" d="M6 0h2v1h-2zM18 0h1v1h-1zM24 0h1v1h-1zM6 1h2v1h-2zM17 1h2v1h-2zM5 2h8v1h-8zM15 2h1v1h-1zM19 2h4v1h-4zM25 2h1v1h-1zM3 3h1v1h-1zM24 12h1v1h-1zM10 14h7v1h-7zM24 14h1v1h-1zM17 15h7v1h-7zM7 16h1v1h-1zM17 16h2v1h-2zM20 16h4v1h-4z"/>
<path fill="#909faa" d="M25 0h1v1h-1zM16 2h3v1h-3zM23 2h2v1h-2zM25 3h1v1h-1zM24 4h1v1h-1zM22 5h1v1h-1zM3 13h1v1h-1zM7 13h2v1h-2zM17 14h4v1h-4zM23 14h1v1h-1z"/>
<path fill="#8e9da8" d="M7 3h2v1h-2zM14 3h1v1h-1zM22 11h1v1h-1zM9 13h1v1h-1zM24 13h1v1h-1zM21 14h2v1h-2z"/>
<path fill="#8c9ba7" d="M9 3h5v1h-5zM15 3h3v1h-3zM22 3h1v1h-1zM20 6h1v1h-1zM20 10h1v1h-1zM6 13h1v1h-1zM13 13h3v1h-3zM18 13h1v1h-1z"/>
<path fill="#8b99a6" d="M6 3h1v1h-1zM18 3h4v1h-4zM23 3h2v1h-2zM9 4h4v1h-4zM14 4h4v1h-4zM23 4h1v1h-1zM10 5h3v1h-3zM15 5h2v1h-2zM21 5h1v1h-1zM19 8h1v1h-1zM13 9h2v1h-2zM13 10h2v1h-2zM17 10h1v1h-1zM12 11h2v1h-2zM9 12h1v1h-1zM13 12h2v1h-2zM23 12h1v1h-1zM10 13h3v1h-3zM16 13h2v1h-2zM19 13h2v1h-2z"/>
<path fill="#8895a3" d="M4 3h1v1h-1zM20 4h2v1h-2zM13 6h2v1h-2zM18 6h2v1h-2zM12 7h3v1h-3zM18 7h1v1h-1zM12 8h1v1h-1zM14 8h2v1h-2zM18 8h1v1h-1zM11 10h1v1h-1zM18 10h1v1h-1zM18 11h3v1h-3zM11 12h1v1h-1zM19 12h2v1h-2zM22 12h1v1h-1zM5 13h1v1h-1z"/>
<path fill="#8693a2" d="M5 3h1v1h-1zM7 4h1v1h-1zM9 5h1v1h-1zM18 9h1v1h-1zM9 11h1v1h-1zM7 12h1v1h-1zM21 12h1v1h-1zM4 13h1v1h-1z"/>
<path fill="#8591a0" d="M3 4h1v1h-1zM11 7h1v1h-1zM3 12h1v1h-1z"/>
<path fill="#83909f" d="M10 6h1v1h-1z"/>
<path fill="#828e9e" d="M11 9h1v1h-1zM10 10h1v1h-1z"/>
<path fill="#808c9c" d="M11 8h1v1h-1z"/>
<path fill="#7f8a9b" d="M8 5h1v1h-1z"/>
<path fill="#7d8899" d="M8 11h1v1h-1zM6 12h1v1h-1z"/>
<path fill="#7c8698" d="M6 4h1v1h-1z"/>
<path fill="#7a8497" d="M3 5h1v1h-1zM3 11h1v1h-1z"/>
<path fill="#767e93" d="M9 6h1v1h-1zM9 10h1v1h-1z"/>
<path fill="#747d91" d="M3 6h1v1h-1zM10 7h1v1h-1zM3 8h1v1h-1zM3 10h1v1h-1z"/>
<path fill="#737b90" d="M3 7h1v1h-1zM3 9h1v1h-1z"/>
<path fill="#71798e" d="M4 4h1v1h-1zM10 9h1v1h-1zM4 12h1v1h-1z"/>
<path fill="#70778d" d="M5 4h1v1h-1zM7 5h1v1h-1zM7 11h1v1h-1zM5 12h1v1h-1z"/>
<path fill="#6a6f88" d="M10 8h1v1h-1z"/>
<path fill="#626681" d="M8 6h1v1h-1z"/>
<path fill="#61647f" d="M8 10h1v1h-1z"/>
<path fill="#5c5e7b" d="M6 5h1v1h-1zM6 11h1v1h-1z"/>
<path fill="#595a78" d="M9 7h1v1h-1zM9 9h1v1h-1z"/>
<path fill="#565776" d="M4 5h1v1h-1zM4 11h1v1h-1z"/>
<path fill="#4e4e6b" d="M5 5h1v1h-1zM5 11h1v1h-1z"/>
<path fill="#4b4b67" d="M9 8h1v1h-1z"/>
<path fill="#494965" d="M7 6h1v1h-1zM7 10h1v1h-1z"/>
<path fill="#484864" d="M4 6h1v1h-1z"/>
<path fill="#474762" d="M4 10h1v1h-1z"/>
<path fill="#44445e" d="M4 7h1v1h-1z"/>
<path fill="#43435c" d="M4 8h1v1h-1zM4 9h1v1h-1z"/>
<path fill="#404058" d="M8 7h1v1h-1z"/>
<path fill="#3e3e56" d="M8 9h1v1h-1z"/>
<path fill="#39394f" d="M6 6h1v1h-1zM6 10h1v1h-1z"/>
<path fill="#333347" d="M5 6h1v1h-1zM5 10h1v1h-1z"/>
<path fill="#313143" d="M8 8h1v1h-1z"/>
<path fill="#2e2e40" d="M7 7h1v1h-1z"/>
<path fill="#2d2d3e" d="M7 9h1v1h-1z"/>
<path fill="#292938" d="M5 7h1v1h-1zM5 9h1v1h-1z"/>
<path fill="#272736" d="M5 8h1v1h-1z"/>
<path fill="#242432" d="M6 7h1v1h-1zM6 9h1v1h-1z"/>
<path fill="#232330" d="M7 8h1v1h-1z"/>
<path fill="#1f1f2b" d="M6 8h1v1h-1z"/>
</g>
<g transform="translate(743.85 180.67) scale(5.2677 5.2118)">
<rect width="31" height="17" fill="#93a2ad"/>
<path fill="#d8e1e1" d="M25 7h1v1h-1zM25 8h1v1h-1z"/>
<path fill="#d6dfdf" d="M24 8h1v1h-1z"/>
<path fill="#d5dede" d="M25 9h1v1h-1z"/>
<path fill="#d1dbdb" d="M24 7h1v1h-1zM24 9h1v1h-1z"/>
<path fill="#c9d6d6" d="M25 6h1v1h-1zM26 7h1v1h-1zM26 8h1v1h-1z"/>
<path fill="#c7d4d4" d="M23 8h1v1h-1zM26 9h1v1h-1zM25 10h1v1h-1z"/>
<path fill="#c3d2d2" d="M26 6h1v1h-1z"/>
<path fill="#c1d0d0" d="M26 10h1v1h-1z"/>
<path fill="#bfcfcf" d="M23 7h1v1h-1zM23 9h1v1h-1z"/>
<path fill="#bbcccc" d="M24 6h1v1h-1zM24 10h1v1h-1z"/>
<path fill="#b0c3c4" d="M26 5h1v1h-1zM26 11h1v1h-1z"/>
<path fill="#aec1c3" d="M22 8h1v1h-1z"/>
<path fill="#acbfc1" d="M25 11h1v1h-1z"/>
<path fill="#abbdc0" d="M25 5h1v1h-1z"/>
<path fill="#a9bbbe" d="M23 6h1v1h-1zM27 7h1v1h-1zM27 8h1v1h-1zM27 9h1v1h-1zM23 10h1v1h-1zM27 10h1v1h-1z"/>
<path fill="#a7b9bd" d="M27 6h1v1h-1zM22 7h1v1h-1z"/>
<path fill="#a5b7bc" d="M22 9h1v1h-1z"/>
<path fill="#a4b5ba" d="M27 5h1v1h-1zM27 11h1v1h-1z"/>
<path fill="#a2b4b9" d="M29 1h1v1h-1zM29 2h2v1h-2z"/>
<path fill="#a0b2b8" d="M29 0h1v1h-1zM0 1h1v1h-1zM30 1h1v1h-1zM24 11h1v1h-1zM29 14h2v1h-2zM29 15h2v1h-2zM0 16h1v1h-1zM28 16h1v1h-1z"/>
<path fill="#9fb0b6" d="M0 0h1v1h-1zM28 0h1v1h-1zM30 0h1v1h-1zM1 1h1v1h-1zM28 1h1v1h-1zM0 2h1v1h-1zM28 2h1v1h-1zM29 3h2v1h-2zM29 4h2v1h-2zM29 5h1v1h-1zM1 14h1v1h-1zM0 15h2v1h-2zM28 15h1v1h-1zM1 16h1v1h-1zM29 16h1v1h-1z"/>
<path fill="#9daeb5" d="M1 0h1v1h-1zM1 2h2v1h-2zM28 4h1v1h-1zM24 5h1v1h-1zM28 5h1v1h-1zM30 5h1v1h-1zM29 6h2v1h-2zM1 9h1v1h-1zM1 10h1v1h-1zM28 10h1v1h-1zM1 12h1v1h-1zM1 13h1v1h-1zM29 13h2v1h-2zM0 14h1v1h-1zM28 14h1v1h-1zM2 15h1v1h-1zM2 16h1v1h-1zM27 16h1v1h-1zM30 16h1v1h-1z"/>
<path fill="#9bacb3" d="M2 0h1v1h-1zM27 0h1v1h-1zM2 1h1v1h-1zM27 1h1v1h-1zM3 2h1v1h-1zM0 3h3v1h-3zM28 3h1v1h-1zM27 4h1v1h-1zM28 6h1v1h-1zM1 8h1v1h-1zM28 9h3v1h-3zM29 10h2v1h-2zM1 11h1v1h-1zM28 11h3v1h-3zM26 12h2v1h-2zM29 12h2v1h-2zM0 13h1v1h-1zM2 14h1v1h-1zM27 15h1v1h-1z"/>
<path fill="#9aaab2" d="M3 0h1v1h-1zM3 1h1v1h-1zM0 4h2v1h-2zM26 4h1v1h-1zM0 5h2v1h-2zM1 6h1v1h-1zM0 7h2v1h-2zM28 7h3v1h-3zM0 8h1v1h-1zM28 8h3v1h-3zM0 9h1v1h-1zM0 10h1v1h-1zM0 11h1v1h-1zM0 12h1v1h-1zM2 12h1v1h-1zM28 12h1v1h-1zM2 13h1v1h-1zM28 13h1v1h-1zM3 15h1v1h-1zM3 16h1v1h-1z"/>
<path fill="#98a8b1" d="M4 0h2v1h-2zM26 0h1v1h-1zM27 2h1v1h-1zM3 3h1v1h-1zM2 4h1v1h-1zM0 6h1v1h-1zM22 6h1v1h-1zM21 8h1v1h-1zM3 14h1v1h-1zM27 14h1v1h-1z"/>
<path fill="#96a6af" d="M4 1h2v1h-2zM26 1h1v1h-1zM4 2h1v1h-1zM27 3h1v1h-1zM2 5h1v1h-1zM2 11h1v1h-1zM27 13h1v1h-1zM4 15h1v1h-1zM19 15h1v1h-1zM26 15h1v1h-1zM4 16h1v1h-1zM19 16h1v1h-1zM26 16h1v1h-1z"/>
<path fill="#95a4ae" d="M6 0h1v1h-1zM19 0h3v1h-3zM25 0h1v1h-1zM6 1h1v1h-1zM13 1h2v1h-2zM18 1h3v1h-3zM21 7h1v1h-1zM2 8h1v1h-1zM2 10h1v1h-1zM25 12h1v1h-1zM19 14h1v1h-1zM5 15h1v1h-1zM20 15h2v1h-2zM5 16h1v1h-1zM15 16h2v1h-2zM18 16h1v1h-1zM20 16h1v1h-1zM23 16h1v1h-1z"/>
<path fill="#91a1ab" d="M8 0h5v1h-5zM9 1h1v1h-1zM7 2h1v1h-1zM12 2h3v1h-3zM16 2h1v1h-1zM21 2h1v1h-1zM21 9h1v1h-1zM5 14h1v1h-1zM7 14h1v1h-1zM14 14h1v1h-1zM16 14h1v1h-1zM18 14h1v1h-1zM21 14h1v1h-1zM9 15h2v1h-2zM17 15h1v1h-1zM23 15h2v1h-2z"/>
<path fill="#909faa" d="M8 1h1v1h-1zM8 2h4v1h-4zM15 2h1v1h-1zM22 2h4v1h-4zM4 3h1v1h-1zM26 3h1v1h-1zM26 13h1v1h-1zM6 14h1v1h-1zM8 14h1v1h-1zM11 14h3v1h-3zM17 14h1v1h-1zM22 14h1v1h-1zM25 14h1v1h-1z"/>
<path fill="#8e9da8" d="M6 3h1v1h-1zM19 3h1v1h-1zM24 12h1v1h-1zM15 13h1v1h-1zM19 13h2v1h-2zM9 14h2v1h-2zM23 14h2v1h-2z"/>
<path fill="#8c9ba7" d="M5 3h1v1h-1zM7 3h1v1h-1zM17 3h2v1h-2zM20 3h2v1h-2zM25 3h1v1h-1zM3 4h1v1h-1zM24 4h1v1h-1zM22 5h1v1h-1zM21 6h1v1h-1zM7 13h2v1h-2zM14 13h1v1h-1zM16 13h1v1h-1zM18 13h1v1h-1zM21 13h1v1h-1zM25 13h1v1h-1z"/>
<path fill="#8b99a6" d="M8 3h3v1h-3zM12 3h2v1h-2zM16 3h1v1h-1zM22 3h1v1h-1zM24 3h1v1h-1zM11 6h1v1h-1zM20 8h1v1h-1zM12 9h4v1h-4zM3 12h1v1h-1zM9 12h1v1h-1zM23 12h1v1h-1zM4 13h1v1h-1zM6 13h1v1h-1zM9 13h1v1h-1zM13 13h1v1h-1zM17 13h1v1h-1zM22 13h2v1h-2z"/>
<path fill="#8997a4" d="M11 3h1v1h-1zM14 3h2v1h-2zM23 3h1v1h-1zM8 4h3v1h-3zM16 4h4v1h-4zM21 4h3v1h-3zM10 5h3v1h-3zM15 5h3v1h-3zM21 5h1v1h-1zM12 6h6v1h-6zM11 7h3v1h-3zM20 7h1v1h-1zM11 8h5v1h-5zM11 9h1v1h-1zM11 10h7v1h-7zM21 10h1v1h-1zM9 11h3v1h-3zM15 11h2v1h-2zM22 11h1v1h-1zM8 12h1v1h-1zM10 12h1v1h-1zM14 12h3v1h-3zM19 12h3v1h-3zM5 13h1v1h-1zM10 13h3v1h-3zM24 13h1v1h-1z"/>
<path fill="#8895a3" d="M11 4h5v1h-5zM20 4h1v1h-1zM9 5h1v1h-1zM13 5h2v1h-2zM19 5h2v1h-2zM10 6h1v1h-1zM18 6h1v1h-1zM20 6h1v1h-1zM14 7h6v1h-6zM16 8h3v1h-3zM16 9h5v1h-5zM10 10h1v1h-1zM18 10h1v1h-1zM12 11h3v1h-3zM17 11h4v1h-4zM11 12h3v1h-3zM17 12h2v1h-2zM22 12h1v1h-1z"/>
<path fill="#8693a2" d="M7 4h1v1h-1zM18 5h1v1h-1zM19 6h1v1h-1zM19 8h1v1h-1zM19 10h2v1h-2zM21 11h1v1h-1zM7 12h1v1h-1z"/>
<path fill="#8591a0" d="M10 7h1v1h-1zM10 9h1v1h-1z"/>
<path fill="#83909f" d="M8 5h1v1h-1zM8 11h1v1h-1z"/>
<path fill="#828e9e" d="M10 8h1v1h-1zM9 10h1v1h-1z"/>
<path fill="#808c9c" d="M6 4h1v1h-1zM9 6h1v1h-1zM6 12h1v1h-1z"/>
<path fill="#7f8a9b" d="M3 5h1v1h-1z"/>
<path fill="#7d8899" d="M4 4h1v1h-1zM3 11h1v1h-1z"/>
<path fill="#7c8698" d="M4 12h1v1h-1z"/>
<path fill="#7a8497" d="M5 4h1v1h-1z"/>
<path fill="#798295" d="M5 12h1v1h-1z"/>
<path fill="#778094" d="M7 5h1v1h-1z"/>
<path fill="#767e93" d="M9 7h1v1h-1zM9 9h1v1h-1zM7 11h1v1h-1z"/>
<path fill="#747d91" d="M3 6h1v1h-1zM3 10h1v1h-1z"/>
<path fill="#737b90" d="M3 7h1v1h-1zM3 8h1v1h-1z"/>
<path fill="#71798e" d="M8 6h1v1h-1zM3 9h1v1h-1zM8 10h1v1h-1z"/>
<path fill="#6e758c" d="M9 8h1v1h-1z"/>
<path fill="#656a83" d="M6 5h1v1h-1z"/>
<path fill="#646882" d="M6 11h1v1h-1z"/>
<path fill="#61647f" d="M4 5h1v1h-1z"/>
<path fill="#5f627e" d="M4 11h1v1h-1z"/>
<path fill="#5b5c7a" d="M8 7h1v1h-1zM8 9h1v1h-1z"/>
<path fill="#595a78" d="M5 5h1v1h-1z"/>
<path fill="#585977" d="M7 6h1v1h-1zM5 11h1v1h-1z"/>
<path fill="#565776" d="M7 10h1v1h-1z"/>
<path fill="#50506f" d="M8 8h1v1h-1z"/>
<path fill="#494965" d="M4 6h1v1h-1z"/>
<path fill="#484864" d="M4 10h1v1h-1z"/>
<path fill="#43435c" d="M4 7h1v1h-1z"/>
<path fill="#41415a" d="M6 6h1v1h-1zM4 8h1v1h-1zM4 9h1v1h-1z"/>
<path fill="#404058" d="M6 10h1v1h-1z"/>
<path fill="#3d3d54" d="M7 7h1v1h-1zM7 9h1v1h-1z"/>
<path fill="#39394f" d="M5 6h1v1h-1z"/>
<path fill="#38384d" d="M5 10h1v1h-1z"/>
<path fill="#333347" d="M7 8h1v1h-1z"/>
<path fill="#2a2a3a" d="M6 7h1v1h-1zM6 9h1v1h-1z"/>
<path fill="#292938" d="M5 7h1v1h-1z"/>
<path fill="#272736" d="M5 9h1v1h-1z"/>
<path fill="#262634" d="M5 8h1v1h-1z"/>
<path fill="#232330" d="M6 8h1v1h-1z"/>
</g>
<g transform="translate(917.95 180.67) scale(5.2677 5.2118)">
<rect width="31" height="17" fill="#8997a4"/>
<path fill="#a4b5ba" d="M30 15h1v1h-1zM30 16h1v1h-1z"/>
<path fill="#a2b4b9" d="M30 0h1v1h-1zM29 1h2v1h-2zM30 14h1v1h-1zM29 15h1v1h-1zM29 16h1v1h-1z"/>
<path fill="#a0b2b8" d="M1 0h1v1h-1zM29 0h1v1h-1zM1 1h1v1h-1zM28 1h1v1h-1zM1 2h1v1h-1zM28 2h3v1h-3zM29 14h1v1h-1zM1 15h1v1h-1z"/>
<path fill="#9fb0b6" d="M0 0h1v1h-1zM28 0h1v1h-1zM0 1h1v1h-1zM2 2h1v1h-1zM1 9h1v1h-1zM30 13h1v1h-1zM0 14h2v1h-2zM0 15h1v1h-1zM2 15h1v1h-1zM28 15h1v1h-1zM1 16h1v1h-1z"/>
<path fill="#9daeb5" d="M2 1h1v1h-1zM27 1h1v1h-1zM27 2h1v1h-1zM1 3h1v1h-1zM28 3h2v1h-2zM1 8h1v1h-1zM0 9h1v1h-1zM0 10h2v1h-2zM29 10h2v1h-2zM30 11h1v1h-1zM30 12h1v1h-1zM1 13h1v1h-1zM29 13h1v1h-1zM2 14h1v1h-1zM28 14h1v1h-1zM0 16h1v1h-1zM2 16h1v1h-1zM28 16h1v1h-1z"/>
<path fill="#9bacb3" d="M2 0h1v1h-1zM27 0h1v1h-1zM0 2h1v1h-1zM2 3h1v1h-1zM30 3h1v1h-1zM1 4h1v1h-1zM29 4h1v1h-1zM29 5h1v1h-1zM0 6h1v1h-1zM29 6h1v1h-1zM0 7h2v1h-2zM29 7h2v1h-2zM0 8h1v1h-1zM29 9h2v1h-2zM1 11h1v1h-1zM29 11h1v1h-1zM1 12h1v1h-1zM29 12h1v1h-1zM0 13h1v1h-1zM28 13h1v1h-1zM3 15h1v1h-1zM27 15h1v1h-1zM27 16h1v1h-1z"/>
<path fill="#9aaab2" d="M3 1h1v1h-1zM3 2h1v1h-1zM0 3h1v1h-1zM0 4h1v1h-1zM2 4h1v1h-1zM28 4h1v1h-1zM1 5h1v1h-1zM28 5h1v1h-1zM1 6h1v1h-1zM28 6h1v1h-1zM30 6h1v1h-1zM28 7h1v1h-1zM28 8h2v1h-2zM28 9h1v1h-1zM2 10h1v1h-1zM28 10h1v1h-1zM0 11h1v1h-1zM2 11h1v1h-1zM28 11h1v1h-1zM0 12h1v1h-1zM28 12h1v1h-1zM3 14h1v1h-1zM27 14h1v1h-1zM3 16h1v1h-1z"/>
<path fill="#98a8b1" d="M3 0h1v1h-1zM27 3h1v1h-1zM30 4h1v1h-1zM0 5h1v1h-1zM30 5h1v1h-1zM27 7h1v1h-1zM27 8h1v1h-1zM30 8h1v1h-1zM2 9h1v1h-1zM27 10h1v1h-1zM2 12h1v1h-1zM2 13h1v1h-1zM27 13h1v1h-1zM26 15h1v1h-1zM4 16h1v1h-1z"/>
<path fill="#96a6af" d="M15 0h1v1h-1zM22 0h2v1h-2zM26 0h1v1h-1zM4 1h2v1h-2zM22 1h1v1h-1zM26 1h1v1h-1zM26 2h1v1h-1zM3 3h1v1h-1zM27 4h1v1h-1zM2 5h1v1h-1zM2 6h1v1h-1zM27 6h1v1h-1zM2 8h1v1h-1zM27 9h1v1h-1zM27 11h1v1h-1zM27 12h1v1h-1zM4 15h1v1h-1zM7 15h1v1h-1zM5 16h2v1h-2zM26 16h1v1h-1z"/>
<path fill="#95a4ae" d="M4 0h2v1h-2zM14 0h1v1h-1zM16 0h1v1h-1zM21 0h1v1h-1zM24 0h2v1h-2zM6 1h1v1h-1zM9 1h1v1h-1zM15 1h2v1h-2zM21 1h1v1h-1zM23 1h1v1h-1zM4 2h1v1h-1zM3 4h1v1h-1zM27 5h1v1h-1zM2 7h1v1h-1zM3 11h1v1h-1zM3 13h1v1h-1zM4 14h1v1h-1zM26 14h1v1h-1zM5 15h2v1h-2zM8 15h4v1h-4zM14 15h1v1h-1zM20 15h2v1h-2zM25 15h1v1h-1zM7 16h1v1h-1zM10 16h2v1h-2zM16 16h1v1h-1z"/>
<path fill="#93a2ad" d="M6 0h1v1h-1zM8 0h6v1h-6zM17 0h1v1h-1zM20 0h1v1h-1zM8 1h1v1h-1zM10 1h5v1h-5zM17 1h1v1h-1zM20 1h1v1h-1zM24 1h2v1h-2zM5 2h1v1h-1zM22 2h1v1h-1zM3 5h1v1h-1zM26 8h1v1h-1zM3 10h1v1h-1zM3 12h1v1h-1zM7 14h2v1h-2zM12 15h2v1h-2zM15 15h2v1h-2zM19 15h1v1h-1zM22 15h1v1h-1zM8 16h2v1h-2zM12 16h4v1h-4zM19 16h1v1h-1zM21 16h1v1h-1zM25 16h1v1h-1z"/>
<path fill="#91a1ab" d="M7 0h1v1h-1zM18 0h1v1h-1zM7 1h1v1h-1zM18 1h2v1h-2zM6 2h1v1h-1zM8 2h5v1h-5zM15 2h2v1h-2zM20 2h2v1h-2zM25 2h1v1h-1zM4 3h1v1h-1zM26 3h1v1h-1zM26 6h1v1h-1zM26 7h1v1h-1zM26 9h1v1h-1zM26 10h1v1h-1zM4 13h1v1h-1zM26 13h1v1h-1zM5 14h2v1h-2zM9 14h4v1h-4zM14 14h2v1h-2zM20 14h3v1h-3zM25 14h1v1h-1zM17 15h2v1h-2zM23 15h2v1h-2zM17 16h2v1h-2zM20 16h1v1h-1zM22 16h3v1h-3z"/>
<path fill="#909faa" d="M19 0h1v1h-1zM7 2h1v1h-1zM13 2h2v1h-2zM17 2h3v1h-3zM23 2h2v1h-2zM3 6h1v1h-1zM26 11h1v1h-1zM26 12h1v1h-1zM7 13h2v1h-2zM13 14h1v1h-1zM16 14h4v1h-4zM23 14h2v1h-2z"/>
<path fill="#8e9da8" d="M12 3h1v1h-1zM20 3h1v1h-1zM22 3h1v1h-1zM4 4h1v1h-1zM26 4h1v1h-1zM4 5h1v1h-1zM26 5h1v1h-1zM4 11h1v1h-1zM4 12h1v1h-1zM9 13h1v1h-1zM25 13h1v1h-1z"/>
<path fill="#8c9ba7" d="M5 3h1v1h-1zM9 3h3v1h-3zM13 3h1v1h-1zM15 3h2v1h-2zM18 3h2v1h-2zM21 3h1v1h-1zM23 3h1v1h-1zM25 3h1v1h-1zM11 5h1v1h-1zM22 6h1v1h-1zM25 7h1v1h-1zM25 8h1v1h-1zM25 9h1v1h-1zM4 10h1v1h-1zM5 13h2v1h-2zM10 13h1v1h-1zM16 13h2v1h-2zM21 13h4v1h-4z"/>
<path fill="#8b99a6" d="M6 3h3v1h-3zM14 3h1v1h-1zM17 3h1v1h-1zM24 3h1v1h-1zM10 4h4v1h-4zM20 4h3v1h-3zM24 4h2v1h-2zM10 5h1v1h-1zM12 5h1v1h-1zM22 5h1v1h-1zM25 5h1v1h-1zM11 6h2v1h-2zM21 6h1v1h-1zM23 6h1v1h-1zM25 6h1v1h-1zM21 7h3v1h-3zM16 8h2v1h-2zM21 8h2v1h-2zM24 8h1v1h-1zM16 9h2v1h-2zM21 9h1v1h-1zM25 10h1v1h-1zM25 11h1v1h-1zM7 12h2v1h-2zM17 12h1v1h-1zM25 12h1v1h-1zM11 13h5v1h-5zM18 13h3v1h-3z"/>
<path fill="#8895a3" d="M6 4h3v1h-3zM15 4h2v1h-2zM7 5h2v1h-2zM14 5h4v1h-4zM19 5h2v1h-2zM5 6h5v1h-5zM14 6h7v1h-7zM3 7h1v1h-1zM7 7h4v1h-4zM19 7h1v1h-1zM7 8h6v1h-6zM7 9h6v1h-6zM5 10h1v1h-1zM7 10h3v1h-3zM18 10h3v1h-3zM23 10h1v1h-1zM5 11h7v1h-7zM19 11h2v1h-2zM23 11h1v1h-1zM12 12h3v1h-3zM19 12h1v1h-1z"/>
<path fill="#8693a2" d="M6 7h1v1h-1zM6 8h1v1h-1zM6 9h1v1h-1zM6 10h1v1h-1zM24 10h1v1h-1zM24 11h1v1h-1z"/>
<path fill="#808c9c" d="M5 7h1v1h-1zM3 8h1v1h-1zM5 9h1v1h-1z"/>
<path fill="#7d8899" d="M4 9h1v1h-1z"/>
<path fill="#7a8497" d="M4 7h1v1h-1z"/>
<path fill="#798295" d="M5 8h1v1h-1z"/>
<path fill="#6e758c" d="M4 8h1v1h-1z"/>
</g>
<g transform="translate(1092.05 180.67) scale(5.2677 5.2118)">
<rect width="31" height="17" fill="#8997a4"/>
<path fill="#bdcece" d="M29 15h1v1h-1z"/>
<path fill="#bbcccc" d="M29 1h1v1h-1z"/>
<path fill="#b9cbcb" d="M1 1h1v1h-1zM1 15h1v1h-1z"/>
<path fill="#b2c5c5" d="M29 0h1v1h-1z"/>
<path fill="#b0c3c4" d="M29 2h1v1h-1zM29 14h1v1h-1zM1 16h1v1h-1z"/>
<path fill="#aec1c3" d="M30 1h1v1h-1zM0 15h1v1h-1zM30 15h1v1h-1zM29 16h1v1h-1z"/>
<path fill="#acbfc1" d="M1 0h1v1h-1zM30 0h1v1h-1zM0 1h1v1h-1zM28 1h1v1h-1zM1 14h1v1h-1zM28 15h1v1h-1z"/>
<path fill="#abbdc0" d="M2 1h1v1h-1zM1 2h1v1h-1zM30 2h1v1h-1zM0 16h1v1h-1z"/>
<path fill="#a9bbbe" d="M28 0h1v1h-1zM28 2h1v1h-1zM0 14h1v1h-1zM30 14h1v1h-1zM2 15h1v1h-1zM2 16h1v1h-1zM30 16h1v1h-1z"/>
<path fill="#a7b9bd" d="M0 0h1v1h-1zM2 0h1v1h-1zM0 2h1v1h-1zM28 14h1v1h-1zM28 16h1v1h-1z"/>
<path fill="#a5b7bc" d="M2 2h1v1h-1zM29 3h2v1h-2zM29 6h2v1h-2zM29 7h1v1h-1zM29 8h1v1h-1zM0 13h2v1h-2zM29 13h1v1h-1z"/>
<path fill="#a4b5ba" d="M27 0h1v1h-1zM27 1h1v1h-1zM0 3h2v1h-2zM29 4h1v1h-1zM29 5h2v1h-2zM1 6h1v1h-1zM1 7h1v1h-1zM30 7h1v1h-1zM29 9h1v1h-1zM30 13h1v1h-1zM2 14h1v1h-1z"/>
<path fill="#a2b4b9" d="M3 1h1v1h-1zM28 3h1v1h-1zM1 4h1v1h-1zM30 4h1v1h-1zM1 5h1v1h-1zM0 6h1v1h-1zM28 6h1v1h-1zM0 7h1v1h-1zM0 8h2v1h-2zM28 8h1v1h-1zM30 8h1v1h-1zM28 9h1v1h-1zM30 9h1v1h-1zM29 10h1v1h-1zM29 11h1v1h-1zM0 12h2v1h-2zM29 12h2v1h-2zM28 13h1v1h-1z"/>
<path fill="#a0b2b8" d="M3 0h1v1h-1zM27 2h1v1h-1zM2 3h1v1h-1zM0 4h1v1h-1zM2 4h1v1h-1zM28 4h1v1h-1zM0 5h1v1h-1zM2 5h1v1h-1zM28 5h1v1h-1zM2 6h1v1h-1zM2 7h1v1h-1zM28 7h1v1h-1zM0 9h2v1h-2zM0 10h2v1h-2zM28 10h1v1h-1zM30 10h1v1h-1zM0 11h2v1h-2zM30 11h1v1h-1zM2 13h1v1h-1zM3 15h1v1h-1zM27 15h1v1h-1zM27 16h1v1h-1z"/>
<path fill="#9fb0b6" d="M26 0h1v1h-1zM3 2h1v1h-1zM2 8h1v1h-1zM2 9h1v1h-1zM28 11h1v1h-1zM2 12h1v1h-1zM28 12h1v1h-1zM27 14h1v1h-1zM3 16h1v1h-1z"/>
<path fill="#9daeb5" d="M4 1h1v1h-1zM26 1h1v1h-1zM2 10h1v1h-1zM2 11h1v1h-1zM3 14h1v1h-1zM19 15h1v1h-1z"/>
<path fill="#9bacb3" d="M27 3h1v1h-1zM27 5h1v1h-1zM27 6h1v1h-1zM27 9h1v1h-1zM27 10h1v1h-1zM3 13h1v1h-1zM27 13h1v1h-1zM4 15h1v1h-1zM26 15h1v1h-1zM4 16h1v1h-1zM18 16h2v1h-2zM26 16h1v1h-1z"/>
<path fill="#9aaab2" d="M4 0h1v1h-1zM7 0h2v1h-2zM17 0h1v1h-1zM25 0h1v1h-1zM7 1h2v1h-2zM14 1h4v1h-4zM22 1h4v1h-4zM4 2h1v1h-1zM3 3h1v1h-1zM3 4h1v1h-1zM27 4h1v1h-1zM3 5h1v1h-1zM3 6h1v1h-1zM3 7h1v1h-1zM27 7h1v1h-1zM3 8h1v1h-1zM27 8h1v1h-1zM3 9h1v1h-1zM3 10h1v1h-1zM27 11h1v1h-1zM3 12h1v1h-1zM27 12h1v1h-1zM18 15h1v1h-1zM20 15h1v1h-1zM25 15h1v1h-1zM5 16h1v1h-1zM16 16h2v1h-2z"/>
<path fill="#98a8b1" d="M6 0h1v1h-1zM9 0h3v1h-3zM14 0h3v1h-3zM18 0h7v1h-7zM5 1h2v1h-2zM9 1h5v1h-5zM18 1h1v1h-1zM21 1h1v1h-1zM26 2h1v1h-1zM3 11h1v1h-1zM4 14h1v1h-1zM19 14h1v1h-1zM26 14h1v1h-1zM5 15h13v1h-13zM6 16h1v1h-1zM9 16h2v1h-2zM13 16h1v1h-1zM20 16h1v1h-1zM25 16h1v1h-1z"/>
<path fill="#96a6af" d="M5 0h1v1h-1zM12 0h2v1h-2zM19 1h2v1h-2zM14 2h2v1h-2zM22 2h4v1h-4zM13 14h2v1h-2zM18 14h1v1h-1zM21 15h1v1h-1zM23 15h2v1h-2zM7 16h2v1h-2zM11 16h2v1h-2zM14 16h2v1h-2zM23 16h2v1h-2z"/>
<path fill="#95a4ae" d="M5 2h1v1h-1zM7 2h7v1h-7zM16 2h3v1h-3zM20 2h2v1h-2zM4 13h1v1h-1zM5 14h4v1h-4zM12 14h1v1h-1zM15 14h1v1h-1zM17 14h1v1h-1zM20 14h1v1h-1zM22 14h4v1h-4zM22 15h1v1h-1zM21 16h2v1h-2z"/>
<path fill="#93a2ad" d="M6 2h1v1h-1zM19 2h1v1h-1zM4 3h1v1h-1zM26 6h1v1h-1zM26 10h1v1h-1zM26 11h1v1h-1zM26 12h1v1h-1zM26 13h1v1h-1zM9 14h3v1h-3zM16 14h1v1h-1zM21 14h1v1h-1z"/>
<path fill="#91a1ab" d="M26 3h1v1h-1zM4 4h1v1h-1zM26 4h1v1h-1zM4 5h1v1h-1zM26 5h1v1h-1zM4 6h1v1h-1zM26 9h1v1h-1zM4 10h1v1h-1zM4 12h1v1h-1z"/>
<path fill="#909faa" d="M5 3h1v1h-1zM23 3h2v1h-2zM4 7h1v1h-1zM26 7h1v1h-1zM4 8h1v1h-1zM26 8h1v1h-1zM4 9h1v1h-1zM4 11h1v1h-1zM5 13h1v1h-1zM25 13h1v1h-1z"/>
<path fill="#8e9da8" d="M9 3h1v1h-1zM11 3h1v1h-1zM14 3h7v1h-7zM22 3h1v1h-1zM25 3h1v1h-1zM25 12h1v1h-1zM13 13h7v1h-7zM22 13h3v1h-3z"/>
<path fill="#8c9ba7" d="M6 3h3v1h-3zM10 3h1v1h-1zM12 3h2v1h-2zM21 3h1v1h-1zM25 5h1v1h-1zM5 6h1v1h-1zM25 10h1v1h-1zM25 11h1v1h-1zM5 12h1v1h-1zM6 13h3v1h-3zM12 13h1v1h-1zM20 13h2v1h-2z"/>
<path fill="#8b99a6" d="M5 4h1v1h-1zM15 4h5v1h-5zM23 4h3v1h-3zM5 5h1v1h-1zM19 5h1v1h-1zM24 5h1v1h-1zM25 6h1v1h-1zM5 7h1v1h-1zM5 8h1v1h-1zM14 8h3v1h-3zM25 8h1v1h-1zM5 9h1v1h-1zM25 9h1v1h-1zM5 10h1v1h-1zM5 11h1v1h-1zM8 11h1v1h-1zM16 12h2v1h-2zM19 12h2v1h-2zM23 12h2v1h-2zM9 13h3v1h-3z"/>
<path fill="#8895a3" d="M6 4h5v1h-5zM13 4h1v1h-1zM21 4h1v1h-1zM6 5h1v1h-1zM8 5h7v1h-7zM20 5h1v1h-1zM22 5h1v1h-1zM7 6h1v1h-1zM9 6h3v1h-3zM13 6h1v1h-1zM21 6h2v1h-2zM6 7h2v1h-2zM9 7h2v1h-2zM18 7h5v1h-5zM6 8h2v1h-2zM10 8h1v1h-1zM18 8h5v1h-5zM6 9h2v1h-2zM9 9h5v1h-5zM20 9h4v1h-4zM6 10h1v1h-1zM9 10h1v1h-1zM11 10h1v1h-1zM14 10h2v1h-2zM20 10h1v1h-1zM23 10h2v1h-2zM6 11h1v1h-1zM9 11h1v1h-1zM11 11h5v1h-5zM21 11h2v1h-2zM10 12h1v1h-1z"/>
<path fill="#8693a2" d="M7 5h1v1h-1zM21 5h1v1h-1zM10 10h1v1h-1zM12 10h2v1h-2zM21 10h2v1h-2zM10 11h1v1h-1z"/>
</g>
<g transform="translate(47.45 280.14) scale(5.2677 5.2118)">
<rect width="31" height="17" fill="#7f8a9b"/>
<path fill="#95a4ae" d="M0 0h1v1h-1z"/>
<path fill="#93a2ad" d="M30 0h1v1h-1z"/>
<path fill="#91a1ab" d="M0 1h1v1h-1zM0 16h1v1h-1z"/>
<path fill="#909faa" d="M1 0h1v1h-1zM30 1h1v1h-1zM0 4h1v1h-1zM0 5h1v1h-1zM0 15h1v1h-1zM30 15h1v1h-1zM30 16h1v1h-1z"/>
<path fill="#8e9da8" d="M29 0h1v1h-1zM0 2h1v1h-1zM30 2h1v1h-1zM0 3h1v1h-1zM30 3h1v1h-1zM30 11h1v1h-1zM0 12h1v1h-1zM1 16h3v1h-3zM10 16h1v1h-1zM29 16h1v1h-1z"/>
<path fill="#8c9ba7" d="M2 0h1v1h-1zM12 0h3v1h-3zM30 4h1v1h-1zM30 5h1v1h-1zM30 6h1v1h-1zM30 10h1v1h-1zM0 11h1v1h-1zM30 12h1v1h-1zM0 13h1v1h-1zM0 14h1v1h-1zM30 14h1v1h-1zM1 15h1v1h-1zM11 16h1v1h-1zM24 16h1v1h-1zM28 16h1v1h-1z"/>
<path fill="#8b99a6" d="M3 0h1v1h-1zM10 0h2v1h-2zM18 0h1v1h-1zM27 0h2v1h-2zM29 1h1v1h-1zM0 6h1v1h-1zM0 7h1v1h-1zM3 7h1v1h-1zM30 7h1v1h-1zM0 8h1v1h-1zM3 8h1v1h-1zM0 9h1v1h-1zM3 9h1v1h-1zM0 10h1v1h-1zM29 11h1v1h-1zM30 13h1v1h-1zM29 15h1v1h-1zM4 16h1v1h-1zM9 16h1v1h-1zM12 16h3v1h-3zM18 16h1v1h-1zM21 16h1v1h-1zM25 16h1v1h-1zM27 16h1v1h-1z"/>
<path fill="#8997a4" d="M4 0h3v1h-3zM9 0h1v1h-1zM15 0h1v1h-1zM17 0h1v1h-1zM19 0h1v1h-1zM25 0h2v1h-2zM1 1h1v1h-1zM29 2h1v1h-1zM29 5h1v1h-1zM29 6h1v1h-1zM29 7h1v1h-1zM30 8h1v1h-1zM30 9h1v1h-1zM3 10h1v1h-1zM29 10h1v1h-1zM1 12h1v1h-1zM29 12h1v1h-1zM1 14h1v1h-1zM29 14h1v1h-1zM5 16h1v1h-1zM15 16h3v1h-3zM19 16h2v1h-2zM22 16h2v1h-2zM26 16h1v1h-1z"/>
<path fill="#8895a3" d="M16 0h1v1h-1zM20 0h3v1h-3zM24 0h1v1h-1zM13 1h1v1h-1zM1 3h1v1h-1zM29 3h1v1h-1zM1 4h1v1h-1zM29 4h1v1h-1zM25 7h1v1h-1zM29 8h1v1h-1zM29 9h1v1h-1zM1 11h1v1h-1zM1 13h1v1h-1zM29 13h1v1h-1zM2 15h2v1h-2zM28 15h1v1h-1zM8 16h1v1h-1z"/>
<path fill="#8693a2" d="M7 0h2v1h-2zM23 0h1v1h-1zM14 1h1v1h-1zM28 1h1v1h-1zM1 2h1v1h-1zM1 5h1v1h-1zM3 6h1v1h-1zM7 8h1v1h-1zM25 8h1v1h-1zM7 9h1v1h-1zM4 15h2v1h-2zM10 15h1v1h-1zM24 15h2v1h-2zM27 15h1v1h-1zM6 16h2v1h-2z"/>
<path fill="#8591a0" d="M2 1h3v1h-3zM9 1h4v1h-4zM15 1h1v1h-1zM19 1h2v1h-2zM24 1h4v1h-4zM25 6h1v1h-1zM7 7h1v1h-1zM2 11h2v1h-2zM2 12h1v1h-1zM2 13h1v1h-1zM2 14h2v1h-2zM28 14h1v1h-1zM6 15h1v1h-1zM9 15h1v1h-1zM11 15h5v1h-5zM22 15h1v1h-1zM26 15h1v1h-1z"/>
<path fill="#83909f" d="M5 1h2v1h-2zM8 1h1v1h-1zM16 1h3v1h-3zM21 1h3v1h-3zM27 2h2v1h-2zM2 4h1v1h-1zM28 4h1v1h-1zM3 5h1v1h-1zM1 6h1v1h-1zM25 9h1v1h-1zM1 10h2v1h-2zM7 10h1v1h-1zM28 11h1v1h-1zM3 12h1v1h-1zM28 12h1v1h-1zM3 13h1v1h-1zM4 14h4v1h-4zM24 14h2v1h-2zM7 15h2v1h-2zM16 15h6v1h-6zM23 15h1v1h-1z"/>
<path fill="#828e9e" d="M7 1h1v1h-1zM2 2h3v1h-3zM14 2h1v1h-1zM20 2h2v1h-2zM24 2h1v1h-1zM26 2h1v1h-1zM2 3h1v1h-1zM28 3h1v1h-1zM7 4h1v1h-1zM11 4h1v1h-1zM2 5h1v1h-1zM28 5h1v1h-1zM2 6h1v1h-1zM7 6h1v1h-1zM28 6h1v1h-1zM1 7h1v1h-1zM20 8h1v1h-1zM2 9h1v1h-1zM25 10h1v1h-1zM28 10h1v1h-1zM4 13h1v1h-1zM23 13h1v1h-1zM28 13h1v1h-1zM14 14h2v1h-2zM22 14h2v1h-2zM26 14h2v1h-2z"/>
<path fill="#808c9c" d="M5 2h1v1h-1zM8 2h2v1h-2zM13 2h1v1h-1zM15 2h2v1h-2zM19 2h1v1h-1zM22 2h2v1h-2zM25 2h1v1h-1zM3 3h2v1h-2zM19 3h3v1h-3zM27 3h1v1h-1zM3 4h1v1h-1zM6 4h1v1h-1zM10 4h1v1h-1zM12 4h1v1h-1zM20 4h3v1h-3zM7 5h1v1h-1zM11 5h2v1h-2zM17 5h2v1h-2zM21 5h2v1h-2zM25 5h1v1h-1zM11 6h1v1h-1zM16 6h2v1h-2zM21 6h2v1h-2zM24 6h1v1h-1zM26 6h1v1h-1zM2 7h1v1h-1zM11 7h1v1h-1zM16 7h3v1h-3zM20 7h2v1h-2zM28 7h1v1h-1zM1 8h2v1h-2zM8 8h1v1h-1zM16 8h2v1h-2zM19 8h1v1h-1zM21 8h1v1h-1zM1 9h1v1h-1zM6 9h1v1h-1zM8 9h1v1h-1zM19 9h3v1h-3zM8 10h1v1h-1zM14 10h1v1h-1zM19 10h3v1h-3zM7 11h2v1h-2zM12 11h2v1h-2zM25 11h1v1h-1zM7 12h2v1h-2zM15 12h2v1h-2zM23 12h3v1h-3zM27 12h1v1h-1zM5 13h4v1h-4zM14 13h4v1h-4zM22 13h1v1h-1zM24 13h4v1h-4zM8 14h6v1h-6zM16 14h3v1h-3zM21 14h1v1h-1z"/>
<path fill="#7d8899" d="M17 3h2v1h-2zM24 3h2v1h-2zM5 4h1v1h-1zM23 4h3v1h-3zM8 5h2v1h-2zM14 5h2v1h-2zM27 5h1v1h-1zM9 6h1v1h-1zM13 6h2v1h-2zM23 6h1v1h-1zM9 7h1v1h-1zM9 8h2v1h-2zM13 8h2v1h-2zM22 8h1v1h-1zM24 8h1v1h-1zM28 8h1v1h-1zM9 9h1v1h-1zM11 9h2v1h-2zM22 9h1v1h-1zM26 9h1v1h-1zM9 10h4v1h-4zM16 10h1v1h-1zM24 10h1v1h-1zM23 11h1v1h-1zM27 11h1v1h-1zM5 12h1v1h-1zM12 12h2v1h-2zM19 12h1v1h-1zM11 13h1v1h-1zM13 13h1v1h-1zM19 13h2v1h-2z"/>
<path fill="#7c8698" d="M10 9h1v1h-1zM24 9h1v1h-1zM12 13h1v1h-1z"/>
<path fill="#7a8497" d="M5 5h1v1h-1zM27 6h1v1h-1zM23 7h1v1h-1zM23 10h1v1h-1zM27 10h1v1h-1zM5 11h1v1h-1z"/>
<path fill="#798295" d="M23 8h1v1h-1zM23 9h1v1h-1z"/>
<path fill="#778094" d="M5 6h1v1h-1zM27 7h1v1h-1zM27 9h1v1h-1z"/>
<path fill="#767e93" d="M5 10h1v1h-1z"/>
<path fill="#747d91" d="M27 8h1v1h-1z"/>
<path fill="#737b90" d="M5 7h1v1h-1zM5 9h1v1h-1z"/>
<path fill="#70778d" d="M5 8h1v1h-1z"/>
</g>
<g transform="translate(221.55 280.14) scale(5.2677 5.2118)">
<rect width="31" height="17" fill="#7f8a9b"/>
<path fill="#93a2ad" d="M0 0h1v1h-1zM30 0h1v1h-1zM0 16h1v1h-1z"/>
<path fill="#91a1ab" d="M1 0h1v1h-1zM0 1h1v1h-1zM30 1h1v1h-1z"/>
<path fill="#909faa" d="M0 2h1v1h-1zM30 2h1v1h-1zM0 9h1v1h-1zM1 16h1v1h-1zM30 16h1v1h-1z"/>
<path fill="#8e9da8" d="M2 0h1v1h-1zM29 0h1v1h-1zM30 3h1v1h-1zM0 10h1v1h-1zM30 10h1v1h-1zM0 12h1v1h-1zM0 13h1v1h-1zM30 13h1v1h-1zM0 15h1v1h-1zM29 16h1v1h-1z"/>
<path fill="#8c9ba7" d="M3 0h1v1h-1zM5 0h2v1h-2zM8 0h1v1h-1zM16 0h1v1h-1zM29 1h1v1h-1zM0 3h1v1h-1zM30 4h1v1h-1zM0 5h1v1h-1zM30 5h1v1h-1zM0 6h1v1h-1zM30 9h1v1h-1zM0 11h1v1h-1zM30 11h1v1h-1zM30 12h1v1h-1zM0 14h1v1h-1zM30 14h1v1h-1zM30 15h1v1h-1z"/>
<path fill="#8b99a6" d="M4 0h1v1h-1zM7 0h1v1h-1zM9 0h5v1h-5zM15 0h1v1h-1zM18 0h3v1h-3zM28 0h1v1h-1zM1 1h1v1h-1zM0 4h1v1h-1zM30 6h1v1h-1zM0 7h1v1h-1zM30 7h1v1h-1zM0 8h1v1h-1zM30 8h1v1h-1zM1 12h1v1h-1zM1 15h1v1h-1zM16 16h1v1h-1zM28 16h1v1h-1z"/>
<path fill="#8997a4" d="M14 0h1v1h-1zM17 0h1v1h-1zM21 0h1v1h-1zM27 0h1v1h-1zM29 2h1v1h-1zM1 11h1v1h-1zM1 13h1v1h-1zM29 15h1v1h-1zM2 16h1v1h-1zM6 16h5v1h-5zM15 16h1v1h-1zM17 16h2v1h-2zM25 16h3v1h-3z"/>
<path fill="#8895a3" d="M22 0h5v1h-5zM1 2h1v1h-1zM29 3h1v1h-1zM1 9h1v1h-1zM1 10h1v1h-1zM29 10h1v1h-1zM29 11h1v1h-1zM29 12h1v1h-1zM1 14h1v1h-1zM3 16h1v1h-1zM5 16h1v1h-1zM11 16h4v1h-4zM19 16h3v1h-3zM23 16h2v1h-2z"/>
<path fill="#8693a2" d="M6 1h2v1h-2zM21 1h2v1h-2zM28 1h1v1h-1zM1 3h1v1h-1zM1 4h1v1h-1zM29 4h1v1h-1zM1 5h1v1h-1zM29 5h1v1h-1zM1 6h1v1h-1zM29 7h1v1h-1zM1 8h1v1h-1zM29 8h1v1h-1zM29 9h1v1h-1zM29 13h1v1h-1zM29 14h1v1h-1zM28 15h1v1h-1zM4 16h1v1h-1zM22 16h1v1h-1z"/>
<path fill="#8591a0" d="M2 1h1v1h-1zM5 1h1v1h-1zM8 1h6v1h-6zM16 1h1v1h-1zM20 1h1v1h-1zM27 1h1v1h-1zM29 6h1v1h-1zM1 7h1v1h-1zM24 7h2v1h-2zM25 8h2v1h-2zM2 12h1v1h-1zM2 13h1v1h-1zM2 15h1v1h-1zM5 15h5v1h-5zM14 15h1v1h-1zM18 15h1v1h-1zM26 15h2v1h-2z"/>
<path fill="#83909f" d="M3 1h2v1h-2zM14 1h2v1h-2zM17 1h3v1h-3zM23 1h2v1h-2zM26 1h1v1h-1zM6 2h1v1h-1zM28 2h1v1h-1zM28 3h1v1h-1zM26 7h1v1h-1zM28 7h1v1h-1zM24 8h1v1h-1zM27 8h1v1h-1zM26 9h2v1h-2zM28 10h1v1h-1zM2 11h1v1h-1zM21 11h1v1h-1zM28 11h1v1h-1zM2 14h1v1h-1zM18 14h1v1h-1zM3 15h2v1h-2zM10 15h4v1h-4zM15 15h3v1h-3zM19 15h3v1h-3zM23 15h3v1h-3z"/>
<path fill="#828e9e" d="M25 1h1v1h-1zM5 2h1v1h-1zM7 2h1v1h-1zM21 2h2v1h-2zM27 2h1v1h-1zM14 3h1v1h-1zM28 4h1v1h-1zM16 5h1v1h-1zM23 7h1v1h-1zM27 7h1v1h-1zM28 8h1v1h-1zM28 9h1v1h-1zM21 10h1v1h-1zM27 10h1v1h-1zM22 11h1v1h-1zM12 12h1v1h-1zM21 12h1v1h-1zM28 12h1v1h-1zM3 13h3v1h-3zM3 14h6v1h-6zM17 14h1v1h-1zM19 14h1v1h-1zM27 14h1v1h-1zM22 15h1v1h-1z"/>
<path fill="#808c9c" d="M2 2h1v1h-1zM13 2h2v1h-2zM17 2h1v1h-1zM20 2h1v1h-1zM24 2h3v1h-3zM2 3h1v1h-1zM4 3h3v1h-3zM13 3h1v1h-1zM15 3h1v1h-1zM27 3h1v1h-1zM2 4h1v1h-1zM13 4h4v1h-4zM2 5h1v1h-1zM15 5h1v1h-1zM17 5h5v1h-5zM28 5h1v1h-1zM11 6h2v1h-2zM15 6h4v1h-4zM20 6h2v1h-2zM24 6h2v1h-2zM28 6h1v1h-1zM17 7h3v1h-3zM15 8h2v1h-2zM18 8h2v1h-2zM23 8h1v1h-1zM7 9h2v1h-2zM14 9h2v1h-2zM20 9h2v1h-2zM24 9h2v1h-2zM2 10h1v1h-1zM7 10h1v1h-1zM20 10h1v1h-1zM22 10h1v1h-1zM26 10h1v1h-1zM3 11h1v1h-1zM6 11h2v1h-2zM12 11h1v1h-1zM17 11h1v1h-1zM20 11h1v1h-1zM27 11h1v1h-1zM3 12h4v1h-4zM11 12h1v1h-1zM13 12h1v1h-1zM17 12h2v1h-2zM20 12h1v1h-1zM22 12h1v1h-1zM6 13h1v1h-1zM12 13h2v1h-2zM17 13h6v1h-6zM9 14h1v1h-1zM12 14h3v1h-3zM20 14h4v1h-4zM28 14h1v1h-1z"/>
<path fill="#7d8899" d="M10 3h3v1h-3zM16 3h1v1h-1zM23 3h1v1h-1zM3 4h2v1h-2zM23 4h1v1h-1zM26 4h1v1h-1zM5 5h2v1h-2zM10 5h1v1h-1zM23 5h4v1h-4zM8 6h1v1h-1zM13 6h2v1h-2zM6 7h1v1h-1zM8 7h1v1h-1zM10 7h1v1h-1zM12 7h2v1h-2zM2 8h1v1h-1zM10 8h2v1h-2zM13 8h1v1h-1zM10 9h1v1h-1zM12 9h1v1h-1zM17 9h2v1h-2zM3 10h1v1h-1zM6 10h1v1h-1zM9 10h3v1h-3zM18 10h1v1h-1zM9 11h2v1h-2zM14 11h2v1h-2zM8 12h2v1h-2zM10 13h1v1h-1zM24 13h2v1h-2z"/>
<path fill="#7c8698" d="M3 5h2v1h-2zM3 6h1v1h-1zM5 6h1v1h-1zM14 7h1v1h-1zM6 8h1v1h-1zM12 8h1v1h-1zM6 9h1v1h-1zM11 9h1v1h-1zM4 10h1v1h-1z"/>
<path fill="#7a8497" d="M4 6h1v1h-1zM5 10h1v1h-1z"/>
<path fill="#778094" d="M3 7h1v1h-1zM5 7h1v1h-1zM3 9h1v1h-1z"/>
<path fill="#747d91" d="M3 8h1v1h-1zM5 9h1v1h-1z"/>
<path fill="#737b90" d="M4 7h1v1h-1zM5 8h1v1h-1zM4 9h1v1h-1z"/>
<path fill="#6d738a" d="M4 8h1v1h-1z"/>
</g>
<g transform="translate(395.65 280.14) scale(5.2677 5.2118)">
<rect width="31" height="17" fill="#7f8a9b"/>
<path fill="#cfdada" d="M25 8h1v1h-1z"/>
<path fill="#cbd7d7" d="M25 9h1v1h-1z"/>
<path fill="#c9d6d6" d="M25 7h1v1h-1z"/>
<path fill="#c3d2d2" d="M26 8h1v1h-1z"/>
<path fill="#c1d0d0" d="M26 7h1v1h-1zM26 9h1v1h-1z"/>
<path fill="#b3c7c7" d="M26 6h1v1h-1zM24 8h1v1h-1zM26 10h1v1h-1z"/>
<path fill="#b0c3c4" d="M25 6h1v1h-1zM24 9h1v1h-1zM25 10h1v1h-1z"/>
<path fill="#aec1c3" d="M24 7h1v1h-1z"/>
<path fill="#9fb0b6" d="M23 8h1v1h-1z"/>
<path fill="#9daeb5" d="M24 10h1v1h-1z"/>
<path fill="#9bacb3" d="M24 6h1v1h-1z"/>
<path fill="#9aaab2" d="M23 9h1v1h-1zM26 11h1v1h-1z"/>
<path fill="#98a8b1" d="M30 0h1v1h-1zM26 5h1v1h-1zM23 7h1v1h-1z"/>
<path fill="#95a4ae" d="M0 0h1v1h-1z"/>
<path fill="#93a2ad" d="M0 16h1v1h-1zM30 16h1v1h-1z"/>
<path fill="#91a1ab" d="M1 0h1v1h-1zM29 0h1v1h-1zM0 1h1v1h-1zM30 1h1v1h-1zM27 9h1v1h-1zM25 11h1v1h-1zM0 15h1v1h-1z"/>
<path fill="#909faa" d="M2 0h1v1h-1zM0 2h1v1h-1zM0 3h1v1h-1zM25 5h1v1h-1zM27 7h1v1h-1zM27 8h1v1h-1zM0 9h1v1h-1zM0 10h1v1h-1zM27 10h1v1h-1zM0 11h1v1h-1zM30 15h1v1h-1z"/>
<path fill="#8e9da8" d="M23 0h1v1h-1zM30 2h1v1h-1zM0 4h1v1h-1zM30 4h1v1h-1zM0 6h1v1h-1zM27 6h1v1h-1zM0 7h1v1h-1zM0 8h1v1h-1zM30 11h1v1h-1zM30 12h1v1h-1zM0 14h1v1h-1zM30 14h1v1h-1zM1 16h1v1h-1zM29 16h1v1h-1z"/>
<path fill="#8c9ba7" d="M3 0h1v1h-1zM9 0h1v1h-1zM28 0h1v1h-1zM1 1h1v1h-1zM30 3h1v1h-1zM0 5h1v1h-1zM30 5h1v1h-1zM1 9h1v1h-1zM1 10h1v1h-1zM0 12h1v1h-1zM0 13h1v1h-1zM30 13h1v1h-1zM17 16h3v1h-3zM26 16h1v1h-1z"/>
<path fill="#8b99a6" d="M4 0h1v1h-1zM6 0h3v1h-3zM10 0h2v1h-2zM17 0h1v1h-1zM22 0h1v1h-1zM29 1h1v1h-1zM1 4h1v1h-1zM1 5h1v1h-1zM1 6h1v1h-1zM30 6h1v1h-1zM1 7h1v1h-1zM30 7h1v1h-1zM1 8h1v1h-1zM30 8h1v1h-1zM23 10h1v1h-1zM1 11h1v1h-1zM1 15h1v1h-1zM2 16h1v1h-1zM5 16h1v1h-1zM8 16h1v1h-1zM12 16h3v1h-3zM16 16h1v1h-1zM20 16h2v1h-2zM25 16h1v1h-1z"/>
<path fill="#8997a4" d="M5 0h1v1h-1zM12 0h1v1h-1zM16 0h1v1h-1zM20 0h1v1h-1zM24 0h1v1h-1zM1 2h1v1h-1zM1 3h1v1h-1zM30 9h1v1h-1zM30 10h1v1h-1zM27 11h1v1h-1zM1 12h1v1h-1zM1 13h1v1h-1zM1 14h1v1h-1zM29 15h1v1h-1zM3 16h2v1h-2zM6 16h2v1h-2zM9 16h3v1h-3zM15 16h1v1h-1zM22 16h3v1h-3zM27 16h2v1h-2z"/>
<path fill="#8895a3" d="M13 0h1v1h-1zM15 0h1v1h-1zM18 0h2v1h-2zM21 0h1v1h-1zM27 0h1v1h-1zM2 1h1v1h-1zM23 1h1v1h-1zM28 1h1v1h-1zM29 2h1v1h-1zM29 4h1v1h-1zM23 6h1v1h-1zM22 8h1v1h-1zM29 14h1v1h-1z"/>
<path fill="#8693a2" d="M14 0h1v1h-1zM25 0h2v1h-2zM7 1h1v1h-1zM9 1h1v1h-1zM22 1h1v1h-1zM29 3h1v1h-1zM2 4h1v1h-1zM27 5h1v1h-1zM29 5h1v1h-1zM29 6h1v1h-1zM29 8h1v1h-1zM22 9h1v1h-1zM24 11h1v1h-1zM29 11h1v1h-1zM29 12h1v1h-1zM29 13h1v1h-1zM11 15h2v1h-2z"/>
<path fill="#8591a0" d="M3 1h1v1h-1zM6 1h1v1h-1zM8 1h1v1h-1zM10 1h1v1h-1zM16 1h2v1h-2zM20 1h2v1h-2zM24 1h1v1h-1zM2 5h1v1h-1zM24 5h1v1h-1zM2 7h1v1h-1zM22 7h1v1h-1zM29 7h1v1h-1zM2 8h1v1h-1zM2 9h1v1h-1zM29 9h1v1h-1zM2 10h1v1h-1zM29 10h1v1h-1zM2 11h1v1h-1zM26 12h1v1h-1zM2 15h1v1h-1zM7 15h4v1h-4zM13 15h2v1h-2zM16 15h4v1h-4zM21 15h2v1h-2zM24 15h3v1h-3zM28 15h1v1h-1z"/>
<path fill="#83909f" d="M4 1h2v1h-2zM12 1h4v1h-4zM18 1h2v1h-2zM27 1h1v1h-1zM2 2h1v1h-1zM23 2h1v1h-1zM28 2h1v1h-1zM2 3h1v1h-1zM26 4h1v1h-1zM2 6h1v1h-1zM2 12h1v1h-1zM6 12h1v1h-1zM2 13h1v1h-1zM6 13h1v1h-1zM2 14h1v1h-1zM28 14h1v1h-1zM3 15h4v1h-4zM15 15h1v1h-1zM20 15h1v1h-1zM23 15h1v1h-1zM27 15h1v1h-1z"/>
<path fill="#828e9e" d="M11 1h1v1h-1zM25 1h2v1h-2zM7 2h3v1h-3zM20 2h3v1h-3zM24 2h1v1h-1zM28 11h1v1h-1zM10 12h1v1h-1zM25 12h1v1h-1zM27 12h2v1h-2zM3 13h1v1h-1zM5 13h1v1h-1zM28 13h1v1h-1zM3 14h1v1h-1zM5 14h7v1h-7zM24 14h2v1h-2z"/>
<path fill="#808c9c" d="M3 2h4v1h-4zM10 2h1v1h-1zM12 2h1v1h-1zM16 2h4v1h-4zM25 2h3v1h-3zM3 3h1v1h-1zM6 3h3v1h-3zM20 3h2v1h-2zM23 3h2v1h-2zM28 3h1v1h-1zM3 4h1v1h-1zM7 4h1v1h-1zM20 4h1v1h-1zM25 4h1v1h-1zM28 4h1v1h-1zM11 5h3v1h-3zM18 5h3v1h-3zM28 5h1v1h-1zM11 6h4v1h-4zM17 6h3v1h-3zM28 6h1v1h-1zM11 7h3v1h-3zM17 7h1v1h-1zM9 8h2v1h-2zM28 8h1v1h-1zM10 9h1v1h-1zM17 9h2v1h-2zM28 9h1v1h-1zM17 10h3v1h-3zM22 10h1v1h-1zM28 10h1v1h-1zM9 11h2v1h-2zM17 11h1v1h-1zM20 11h2v1h-2zM23 11h1v1h-1zM7 12h1v1h-1zM9 12h1v1h-1zM11 12h1v1h-1zM17 12h1v1h-1zM4 13h1v1h-1zM7 13h1v1h-1zM9 13h3v1h-3zM27 13h1v1h-1zM4 14h1v1h-1zM12 14h6v1h-6zM22 14h2v1h-2zM26 14h2v1h-2z"/>
<path fill="#7d8899" d="M13 3h3v1h-3zM14 4h4v1h-4zM22 4h3v1h-3zM7 5h1v1h-1zM9 5h1v1h-1zM15 5h2v1h-2zM22 5h1v1h-1zM9 6h1v1h-1zM19 7h2v1h-2zM15 8h1v1h-1zM19 8h2v1h-2zM11 9h2v1h-2zM14 9h2v1h-2zM20 9h1v1h-1zM11 10h5v1h-5zM7 11h1v1h-1zM12 11h2v1h-2zM3 12h1v1h-1zM13 12h1v1h-1zM19 12h1v1h-1zM13 13h3v1h-3zM19 13h3v1h-3z"/>
<path fill="#7a8497" d="M5 4h1v1h-1zM8 6h1v1h-1zM8 10h1v1h-1z"/>
<path fill="#778094" d="M4 4h1v1h-1zM6 11h1v1h-1zM4 12h1v1h-1z"/>
<path fill="#747d91" d="M8 7h1v1h-1zM8 9h1v1h-1z"/>
<path fill="#737b90" d="M3 5h1v1h-1zM6 5h1v1h-1z"/>
<path fill="#71798e" d="M8 8h1v1h-1zM3 11h1v1h-1z"/>
<path fill="#6d738a" d="M7 6h1v1h-1zM7 10h1v1h-1z"/>
<path fill="#686d86" d="M5 11h1v1h-1z"/>
<path fill="#676b85" d="M3 10h1v1h-1z"/>
<path fill="#656a83" d="M3 6h1v1h-1z"/>
<path fill="#646882" d="M5 5h1v1h-1zM3 7h1v1h-1zM3 8h1v1h-1zM3 9h1v1h-1z"/>
<path fill="#5c5e7b" d="M4 11h1v1h-1z"/>
<path fill="#5b5c7a" d="M4 5h1v1h-1z"/>
<path fill="#585977" d="M7 7h1v1h-1zM7 9h1v1h-1z"/>
<path fill="#555574" d="M6 6h1v1h-1zM6 10h1v1h-1z"/>
<path fill="#50506f" d="M7 8h1v1h-1z"/>
<path fill="#3d3d54" d="M5 10h1v1h-1z"/>
<path fill="#3c3c52" d="M5 6h1v1h-1zM6 7h1v1h-1z"/>
<path fill="#3a3a51" d="M6 9h1v1h-1zM4 10h1v1h-1z"/>
<path fill="#39394f" d="M4 6h1v1h-1z"/>
<path fill="#333347" d="M6 8h1v1h-1z"/>
<path fill="#2a2a3a" d="M4 7h1v1h-1z"/>
<path fill="#292938" d="M4 9h1v1h-1z"/>
<path fill="#262634" d="M4 8h1v1h-1z"/>
<path fill="#20202d" d="M5 7h1v1h-1z"/>
<path fill="#1e1e29" d="M5 9h1v1h-1z"/>
<path fill="#17171f" d="M5 8h1v1h-1z"/>
</g>
<g transform="translate(569.75 280.14) scale(5.2677 5.2118)">
<rect width="31" height="17" fill="#7f8a9b"/>
<path fill="#dde5e5" d="M23 8h2v1h-2z"/>
<path fill="#dce4e4" d="M24 7h2v1h-2zM24 9h1v1h-1z"/>
<path fill="#dae2e2" d="M25 8h1v1h-1zM25 9h1v1h-1z"/>
<path fill="#d6dfdf" d="M25 6h1v1h-1zM23 7h1v1h-1zM23 9h1v1h-1z"/>
<path fill="#d5dede" d="M22 8h1v1h-1z"/>
<path fill="#d3dddd" d="M25 10h1v1h-1z"/>
<path fill="#c9d6d6" d="M24 6h1v1h-1z"/>
<path fill="#c7d4d4" d="M24 10h1v1h-1z"/>
<path fill="#c3d2d2" d="M26 6h1v1h-1zM22 7h1v1h-1zM26 7h1v1h-1zM26 8h1v1h-1zM22 9h1v1h-1zM26 9h1v1h-1zM26 10h1v1h-1z"/>
<path fill="#bdcece" d="M21 8h1v1h-1z"/>
<path fill="#b9cbcb" d="M23 10h1v1h-1z"/>
<path fill="#b7c9c9" d="M25 5h1v1h-1zM26 11h1v1h-1z"/>
<path fill="#b5c8c8" d="M26 5h1v1h-1zM23 6h1v1h-1zM25 11h1v1h-1z"/>
<path fill="#a7b9bd" d="M21 7h1v1h-1z"/>
<path fill="#a5b7bc" d="M21 9h1v1h-1z"/>
<path fill="#9bacb3" d="M24 5h1v1h-1zM22 10h1v1h-1zM24 11h1v1h-1z"/>
<path fill="#9aaab2" d="M20 8h1v1h-1z"/>
<path fill="#98a8b1" d="M26 4h1v1h-1zM22 6h1v1h-1zM26 12h1v1h-1z"/>
<path fill="#95a4ae" d="M0 0h1v1h-1zM30 0h1v1h-1zM27 10h1v1h-1z"/>
<path fill="#91a1ab" d="M0 1h1v1h-1zM25 4h1v1h-1zM27 7h1v1h-1zM27 8h1v1h-1zM27 9h1v1h-1zM27 11h1v1h-1zM0 16h1v1h-1z"/>
<path fill="#909faa" d="M1 0h1v1h-1zM29 0h1v1h-1zM30 1h1v1h-1zM27 5h1v1h-1zM27 6h1v1h-1zM25 12h1v1h-1zM30 12h1v1h-1zM30 15h1v1h-1zM30 16h1v1h-1z"/>
<path fill="#8e9da8" d="M0 2h1v1h-1zM0 5h1v1h-1zM0 6h1v1h-1zM23 11h1v1h-1zM0 13h1v1h-1zM30 13h1v1h-1zM0 14h1v1h-1zM0 15h1v1h-1zM28 16h2v1h-2z"/>
<path fill="#8c9ba7" d="M2 0h2v1h-2zM16 0h1v1h-1zM19 0h1v1h-1zM28 0h1v1h-1zM29 1h1v1h-1zM30 2h1v1h-1zM30 3h1v1h-1zM0 4h1v1h-1zM30 4h1v1h-1zM30 5h1v1h-1zM30 6h1v1h-1zM0 7h1v1h-1zM20 7h1v1h-1zM0 8h1v1h-1zM30 8h1v1h-1zM0 9h1v1h-1zM30 9h1v1h-1zM0 10h1v1h-1zM30 10h1v1h-1zM0 11h1v1h-1zM30 11h1v1h-1zM0 12h1v1h-1zM30 14h1v1h-1zM21 16h1v1h-1zM27 16h1v1h-1z"/>
<path fill="#8b99a6" d="M12 0h1v1h-1zM15 0h1v1h-1zM17 0h2v1h-2zM20 0h3v1h-3zM0 3h1v1h-1zM23 5h1v1h-1zM1 6h1v1h-1zM1 7h1v1h-1zM30 7h1v1h-1zM1 8h1v1h-1zM1 9h1v1h-1zM20 9h1v1h-1zM1 14h1v1h-1zM29 15h1v1h-1zM9 16h1v1h-1zM15 16h1v1h-1zM24 16h1v1h-1z"/>
<path fill="#8997a4" d="M4 0h1v1h-1zM6 0h3v1h-3zM11 0h1v1h-1zM13 0h1v1h-1zM23 0h1v1h-1zM1 1h1v1h-1zM1 2h1v1h-1zM29 2h1v1h-1zM27 4h1v1h-1zM1 5h1v1h-1zM1 13h1v1h-1zM1 15h1v1h-1zM28 15h1v1h-1zM1 16h1v1h-1zM4 16h2v1h-2zM8 16h1v1h-1zM10 16h1v1h-1zM14 16h1v1h-1zM16 16h1v1h-1zM20 16h1v1h-1zM22 16h2v1h-2zM25 16h1v1h-1z"/>
<path fill="#8895a3" d="M5 0h1v1h-1zM10 0h1v1h-1zM14 0h1v1h-1zM24 0h1v1h-1zM27 0h1v1h-1zM16 1h2v1h-2zM28 1h1v1h-1zM1 3h1v1h-1zM29 3h1v1h-1zM1 4h1v1h-1zM21 6h1v1h-1zM2 8h1v1h-1zM2 9h1v1h-1zM29 9h1v1h-1zM1 10h1v1h-1zM21 10h1v1h-1zM29 10h1v1h-1zM1 11h1v1h-1zM29 11h1v1h-1zM1 12h1v1h-1zM27 12h1v1h-1zM29 12h1v1h-1zM29 13h1v1h-1zM29 14h1v1h-1zM27 15h1v1h-1zM3 16h1v1h-1zM6 16h2v1h-2zM11 16h3v1h-3zM17 16h1v1h-1zM26 16h1v1h-1z"/>
<path fill="#8693a2" d="M9 0h1v1h-1zM25 0h2v1h-2zM15 1h1v1h-1zM18 1h1v1h-1zM22 1h1v1h-1zM29 4h1v1h-1zM2 7h1v1h-1zM29 8h1v1h-1zM2 10h1v1h-1zM9 15h1v1h-1zM21 15h1v1h-1zM2 16h1v1h-1zM19 16h1v1h-1z"/>
<path fill="#8591a0" d="M2 1h3v1h-3zM11 1h2v1h-2zM19 1h1v1h-1zM21 1h1v1h-1zM23 1h1v1h-1zM2 2h1v1h-1zM28 2h1v1h-1zM2 3h1v1h-1zM26 3h1v1h-1zM28 3h1v1h-1zM29 5h1v1h-1zM2 6h1v1h-1zM29 6h1v1h-1zM29 7h1v1h-1zM28 10h1v1h-1zM22 11h1v1h-1zM28 14h1v1h-1zM2 15h3v1h-3zM8 15h1v1h-1zM10 15h1v1h-1zM15 15h1v1h-1zM19 15h2v1h-2zM18 16h1v1h-1z"/>
<path fill="#83909f" d="M5 1h4v1h-4zM13 1h2v1h-2zM20 1h1v1h-1zM24 1h1v1h-1zM27 1h1v1h-1zM3 2h2v1h-2zM2 4h1v1h-1zM28 4h1v1h-1zM2 5h1v1h-1zM10 5h1v1h-1zM19 8h1v1h-1zM28 9h1v1h-1zM2 11h1v1h-1zM28 11h1v1h-1zM2 12h1v1h-1zM2 13h1v1h-1zM26 13h1v1h-1zM28 13h1v1h-1zM2 14h1v1h-1zM27 14h1v1h-1zM5 15h3v1h-3zM11 15h4v1h-4zM16 15h3v1h-3zM22 15h1v1h-1zM24 15h1v1h-1zM26 15h1v1h-1z"/>
<path fill="#828e9e" d="M9 1h2v1h-2zM25 1h2v1h-2zM15 2h3v1h-3zM25 3h1v1h-1zM27 3h1v1h-1zM17 4h1v1h-1zM24 4h1v1h-1zM9 5h1v1h-1zM11 5h1v1h-1zM16 5h2v1h-2zM28 8h1v1h-1zM7 12h2v1h-2zM24 12h1v1h-1zM28 12h1v1h-1zM6 13h2v1h-2zM27 13h1v1h-1zM6 14h2v1h-2zM23 15h1v1h-1zM25 15h1v1h-1z"/>
<path fill="#808c9c" d="M5 2h1v1h-1zM10 2h3v1h-3zM14 2h1v1h-1zM18 2h1v1h-1zM22 2h6v1h-6zM3 3h1v1h-1zM7 4h5v1h-5zM16 4h1v1h-1zM12 5h1v1h-1zM18 5h1v1h-1zM22 5h1v1h-1zM28 5h1v1h-1zM11 6h1v1h-1zM17 6h1v1h-1zM20 6h1v1h-1zM28 6h1v1h-1zM12 7h2v1h-2zM19 7h1v1h-1zM28 7h1v1h-1zM19 9h1v1h-1zM11 10h2v1h-2zM17 10h1v1h-1zM9 11h4v1h-4zM16 11h2v1h-2zM9 12h3v1h-3zM16 12h1v1h-1zM8 13h1v1h-1zM11 13h1v1h-1zM15 13h1v1h-1zM18 13h1v1h-1zM3 14h3v1h-3zM8 14h2v1h-2zM11 14h5v1h-5zM18 14h4v1h-4zM26 14h1v1h-1z"/>
<path fill="#7d8899" d="M12 3h2v1h-2zM15 3h1v1h-1zM19 3h1v1h-1zM22 3h2v1h-2zM14 4h2v1h-2zM19 4h2v1h-2zM14 5h1v1h-1zM19 5h2v1h-2zM10 6h1v1h-1zM19 6h1v1h-1zM17 7h2v1h-2zM17 8h2v1h-2zM18 9h1v1h-1zM19 10h1v1h-1zM13 11h2v1h-2zM19 11h1v1h-1zM21 11h1v1h-1zM13 12h2v1h-2zM20 12h2v1h-2zM3 13h1v1h-1zM22 13h2v1h-2zM23 14h3v1h-3z"/>
<path fill="#7c8698" d="M5 3h1v1h-1zM20 3h2v1h-2zM21 4h3v1h-3zM21 5h1v1h-1zM11 7h1v1h-1zM11 9h1v1h-1zM10 10h1v1h-1zM20 11h1v1h-1zM5 13h1v1h-1zM24 13h1v1h-1z"/>
<path fill="#7a8497" d="M4 3h1v1h-1zM8 5h1v1h-1zM8 11h1v1h-1zM6 12h1v1h-1z"/>
<path fill="#778094" d="M6 4h1v1h-1zM11 8h1v1h-1zM4 13h1v1h-1z"/>
<path fill="#737b90" d="M3 4h1v1h-1zM3 12h1v1h-1z"/>
<path fill="#71798e" d="M9 6h1v1h-1z"/>
<path fill="#70778d" d="M9 10h1v1h-1z"/>
<path fill="#6d738a" d="M7 11h1v1h-1z"/>
<path fill="#6a6f88" d="M7 5h1v1h-1zM3 9h1v1h-1z"/>
<path fill="#686d86" d="M10 7h1v1h-1zM3 8h1v1h-1zM10 9h1v1h-1z"/>
<path fill="#676b85" d="M3 5h1v1h-1zM3 7h1v1h-1zM3 10h1v1h-1zM3 11h1v1h-1z"/>
<path fill="#646882" d="M3 6h1v1h-1z"/>
<path fill="#626681" d="M5 4h1v1h-1zM5 12h1v1h-1z"/>
<path fill="#5b5c7a" d="M4 4h1v1h-1z"/>
<path fill="#595a78" d="M8 6h1v1h-1zM10 8h1v1h-1zM8 10h1v1h-1zM4 12h1v1h-1z"/>
<path fill="#555574" d="M6 11h1v1h-1z"/>
<path fill="#525271" d="M6 5h1v1h-1z"/>
<path fill="#484864" d="M9 7h1v1h-1z"/>
<path fill="#474762" d="M9 9h1v1h-1z"/>
<path fill="#39394f" d="M7 6h1v1h-1z"/>
<path fill="#38384d" d="M7 10h1v1h-1z"/>
<path fill="#353549" d="M4 5h1v1h-1zM4 11h1v1h-1z"/>
<path fill="#333347" d="M5 11h1v1h-1z"/>
<path fill="#323245" d="M5 5h1v1h-1z"/>
<path fill="#2e2e40" d="M9 8h1v1h-1z"/>
<path fill="#2a2a3a" d="M8 7h1v1h-1zM8 9h1v1h-1z"/>
<path fill="#292938" d="M4 9h1v1h-1zM4 10h1v1h-1z"/>
<path fill="#272736" d="M4 7h1v1h-1zM4 8h1v1h-1z"/>
<path fill="#262634" d="M4 6h1v1h-1z"/>
<path fill="#22222e" d="M6 6h1v1h-1zM6 10h1v1h-1z"/>
<path fill="#17171f" d="M7 7h1v1h-1z"/>
<path fill="#14141b" d="M8 8h1v1h-1zM7 9h1v1h-1z"/>
<path fill="#13131a" d="M5 6h1v1h-1zM5 10h1v1h-1z"/>
<path fill="#0d0d12" d="M6 7h1v1h-1z"/>
<path fill="#0c0c10" d="M5 7h1v1h-1zM7 8h1v1h-1z"/>
<path fill="#0a0a0e" d="M5 8h2v1h-2zM5 9h2v1h-2z"/>
</g>
<g transform="translate(743.85 280.14) scale(5.2677 5.2118)">
<rect width="31" height="17" fill="#7f8a9b"/>
<path fill="#dde5e5" d="M25 7h1v1h-1zM24 8h2v1h-2z"/>
<path fill="#dce4e4" d="M25 9h1v1h-1z"/>
<path fill="#dae2e2" d="M24 7h1v1h-1z"/>
<path fill="#d8e1e1" d="M24 9h1v1h-1z"/>
<path fill="#d3dddd" d="M23 8h1v1h-1z"/>
<path fill="#d1dbdb" d="M25 6h1v1h-1z"/>
<path fill="#cfdada" d="M25 10h1v1h-1z"/>
<path fill="#c9d6d6" d="M23 7h1v1h-1z"/>
<path fill="#c7d4d4" d="M23 9h1v1h-1z"/>
<path fill="#c5d3d3" d="M26 7h1v1h-1zM26 8h1v1h-1zM26 9h1v1h-1z"/>
<path fill="#c3d2d2" d="M26 10h1v1h-1z"/>
<path fill="#c1d0d0" d="M26 6h1v1h-1z"/>
<path fill="#bfcfcf" d="M24 6h1v1h-1zM24 10h1v1h-1z"/>
<path fill="#b2c5c5" d="M22 8h1v1h-1z"/>
<path fill="#acbfc1" d="M26 5h1v1h-1zM26 11h1v1h-1z"/>
<path fill="#a9bbbe" d="M25 5h1v1h-1zM25 11h1v1h-1z"/>
<path fill="#a5b7bc" d="M23 6h1v1h-1zM22 7h1v1h-1z"/>
<path fill="#a4b5ba" d="M22 9h1v1h-1zM23 10h1v1h-1z"/>
<path fill="#95a4ae" d="M21 8h1v1h-1zM27 10h1v1h-1z"/>
<path fill="#93a2ad" d="M0 0h1v1h-1zM24 5h1v1h-1zM27 8h1v1h-1zM27 9h1v1h-1zM24 11h1v1h-1z"/>
<path fill="#91a1ab" d="M30 0h1v1h-1zM27 6h1v1h-1zM27 7h1v1h-1zM30 16h1v1h-1z"/>
<path fill="#909faa" d="M29 0h1v1h-1zM30 1h1v1h-1zM29 16h1v1h-1z"/>
<path fill="#8e9da8" d="M1 0h1v1h-1zM0 1h1v1h-1zM21 7h1v1h-1zM27 11h1v1h-1zM30 12h1v1h-1zM30 15h1v1h-1zM10 16h1v1h-1zM28 16h1v1h-1z"/>
<path fill="#8c9ba7" d="M15 0h2v1h-2zM0 2h1v1h-1zM30 2h1v1h-1zM0 3h1v1h-1zM0 4h1v1h-1zM0 5h1v1h-1zM27 5h1v1h-1zM30 5h1v1h-1zM0 6h1v1h-1zM22 6h1v1h-1zM30 6h1v1h-1zM30 7h1v1h-1zM0 9h1v1h-1zM0 10h1v1h-1zM30 10h1v1h-1zM0 11h1v1h-1zM30 11h1v1h-1zM0 12h1v1h-1zM30 13h1v1h-1zM30 14h1v1h-1zM0 15h1v1h-1zM1 16h1v1h-1z"/>
<path fill="#8b99a6" d="M9 0h1v1h-1zM11 0h2v1h-2zM28 0h1v1h-1zM1 1h1v1h-1zM29 1h1v1h-1zM26 4h1v1h-1zM30 4h1v1h-1zM0 7h1v1h-1zM0 8h1v1h-1zM30 8h1v1h-1zM30 9h1v1h-1zM1 10h1v1h-1zM22 10h1v1h-1zM1 11h1v1h-1zM0 13h1v1h-1zM0 14h1v1h-1zM0 16h1v1h-1zM9 16h1v1h-1zM11 16h1v1h-1zM14 16h1v1h-1zM18 16h4v1h-4zM23 16h2v1h-2zM27 16h1v1h-1z"/>
<path fill="#8997a4" d="M2 0h5v1h-5zM10 0h1v1h-1zM13 0h2v1h-2zM22 0h4v1h-4zM27 0h1v1h-1zM1 2h1v1h-1zM1 3h1v1h-1zM30 3h1v1h-1zM1 4h1v1h-1zM25 4h1v1h-1zM1 5h1v1h-1zM1 6h1v1h-1zM1 7h1v1h-1zM29 7h1v1h-1zM1 8h1v1h-1zM1 9h1v1h-1zM21 9h1v1h-1zM26 12h1v1h-1zM1 15h1v1h-1zM29 15h1v1h-1zM2 16h1v1h-1zM4 16h2v1h-2zM15 16h1v1h-1zM17 16h1v1h-1zM22 16h1v1h-1zM25 16h2v1h-2z"/>
<path fill="#8895a3" d="M7 0h2v1h-2zM17 0h1v1h-1zM19 0h3v1h-3zM26 0h1v1h-1zM29 2h1v1h-1zM29 5h1v1h-1zM29 6h1v1h-1zM29 8h1v1h-1zM29 9h1v1h-1zM29 10h1v1h-1zM29 11h1v1h-1zM1 12h1v1h-1zM29 12h1v1h-1zM29 13h1v1h-1zM29 14h1v1h-1zM3 16h1v1h-1zM6 16h3v1h-3zM12 16h2v1h-2zM16 16h1v1h-1z"/>
<path fill="#8693a2" d="M18 0h1v1h-1zM2 1h1v1h-1zM15 1h1v1h-1zM27 1h2v1h-2zM2 2h1v1h-1zM2 3h1v1h-1zM29 4h1v1h-1zM23 5h1v1h-1zM2 9h1v1h-1zM2 10h1v1h-1zM2 11h1v1h-1zM23 11h1v1h-1zM25 12h1v1h-1zM1 13h1v1h-1zM1 14h1v1h-1zM15 15h6v1h-6zM24 15h1v1h-1zM28 15h1v1h-1z"/>
<path fill="#8591a0" d="M3 1h1v1h-1zM9 1h2v1h-2zM14 1h1v1h-1zM16 1h1v1h-1zM25 1h1v1h-1zM29 3h1v1h-1zM2 4h1v1h-1zM2 7h1v1h-1zM2 8h1v1h-1zM20 8h1v1h-1zM2 12h1v1h-1zM2 15h3v1h-3zM6 15h1v1h-1zM8 15h4v1h-4zM14 15h1v1h-1zM21 15h3v1h-3zM25 15h3v1h-3z"/>
<path fill="#83909f" d="M4 1h3v1h-3zM8 1h1v1h-1zM11 1h1v1h-1zM13 1h1v1h-1zM19 1h6v1h-6zM26 1h1v1h-1zM3 2h1v1h-1zM28 2h1v1h-1zM2 5h1v1h-1zM2 6h1v1h-1zM10 6h1v1h-1zM28 7h1v1h-1zM28 8h1v1h-1zM28 9h1v1h-1zM28 10h1v1h-1zM28 11h1v1h-1zM7 12h2v1h-2zM2 13h1v1h-1zM7 13h2v1h-2zM2 14h1v1h-1zM4 14h1v1h-1zM6 14h3v1h-3zM17 14h2v1h-2zM5 15h1v1h-1zM7 15h1v1h-1zM12 15h2v1h-2z"/>
<path fill="#828e9e" d="M7 1h1v1h-1zM12 1h1v1h-1zM17 1h2v1h-2zM13 2h3v1h-3zM21 2h2v1h-2zM27 2h1v1h-1zM3 3h1v1h-1zM6 3h2v1h-2zM7 4h2v1h-2zM24 4h1v1h-1zM9 5h1v1h-1zM28 5h1v1h-1zM21 6h1v1h-1zM28 6h1v1h-1zM20 7h1v1h-1zM19 8h1v1h-1zM9 11h1v1h-1zM27 12h1v1h-1zM3 13h1v1h-1zM5 13h2v1h-2zM3 14h1v1h-1zM5 14h1v1h-1zM9 14h8v1h-8zM19 14h1v1h-1zM28 14h1v1h-1z"/>
<path fill="#808c9c" d="M4 2h4v1h-4zM9 2h2v1h-2zM12 2h1v1h-1zM16 2h3v1h-3zM20 2h1v1h-1zM25 2h2v1h-2zM5 3h1v1h-1zM8 3h2v1h-2zM13 3h2v1h-2zM25 3h1v1h-1zM28 3h1v1h-1zM9 4h1v1h-1zM14 4h2v1h-2zM21 4h1v1h-1zM27 4h1v1h-1zM10 5h1v1h-1zM14 5h2v1h-2zM9 6h1v1h-1zM11 6h1v1h-1zM18 6h2v1h-2zM11 7h1v1h-1zM17 7h3v1h-3zM16 8h3v1h-3zM15 9h2v1h-2zM19 9h2v1h-2zM10 10h1v1h-1zM15 10h2v1h-2zM21 10h1v1h-1zM8 11h1v1h-1zM14 11h2v1h-2zM22 11h1v1h-1zM9 12h1v1h-1zM21 12h1v1h-1zM28 12h1v1h-1zM4 13h1v1h-1zM9 13h1v1h-1zM12 13h2v1h-2zM17 13h2v1h-2zM28 13h1v1h-1zM20 14h3v1h-3zM27 14h1v1h-1z"/>
<path fill="#7d8899" d="M16 3h3v1h-3zM23 3h1v1h-1zM26 3h2v1h-2zM12 4h1v1h-1zM16 4h1v1h-1zM18 4h2v1h-2zM8 5h1v1h-1zM17 5h1v1h-1zM12 7h1v1h-1zM15 7h1v1h-1zM14 8h1v1h-1zM10 9h1v1h-1zM13 9h2v1h-2zM9 10h1v1h-1zM13 10h1v1h-1zM17 10h3v1h-3zM17 11h4v1h-4zM6 12h1v1h-1zM10 12h1v1h-1zM18 12h1v1h-1zM23 12h1v1h-1zM23 13h1v1h-1zM26 13h1v1h-1z"/>
<path fill="#7c8698" d="M19 3h1v1h-1zM17 4h1v1h-1zM20 10h1v1h-1zM3 12h1v1h-1zM24 13h2v1h-2z"/>
<path fill="#7a8497" d="M3 4h1v1h-1zM10 8h1v1h-1z"/>
<path fill="#747d91" d="M7 5h1v1h-1zM7 11h1v1h-1z"/>
<path fill="#737b90" d="M5 4h1v1h-1zM5 12h1v1h-1z"/>
<path fill="#70778d" d="M9 7h1v1h-1zM4 12h1v1h-1z"/>
<path fill="#6e758c" d="M9 9h1v1h-1zM3 11h1v1h-1z"/>
<path fill="#6d738a" d="M4 4h1v1h-1zM8 6h1v1h-1z"/>
<path fill="#6b7189" d="M3 5h1v1h-1zM8 10h1v1h-1z"/>
<path fill="#676b85" d="M3 9h1v1h-1zM3 10h1v1h-1z"/>
<path fill="#656a83" d="M3 6h1v1h-1zM3 7h1v1h-1zM3 8h1v1h-1z"/>
<path fill="#626681" d="M9 8h1v1h-1z"/>
<path fill="#61647f" d="M6 5h1v1h-1z"/>
<path fill="#5e607d" d="M6 11h1v1h-1z"/>
<path fill="#4c4c69" d="M8 7h1v1h-1zM8 9h1v1h-1z"/>
<path fill="#494965" d="M7 6h1v1h-1z"/>
<path fill="#484864" d="M7 10h1v1h-1z"/>
<path fill="#474762" d="M5 5h1v1h-1zM4 11h2v1h-2z"/>
<path fill="#44445e" d="M4 5h1v1h-1z"/>
<path fill="#3e3e56" d="M8 8h1v1h-1z"/>
<path fill="#2e2e40" d="M4 10h1v1h-1z"/>
<path fill="#2d2d3e" d="M6 6h1v1h-1z"/>
<path fill="#2b2b3c" d="M4 6h1v1h-1z"/>
<path fill="#2a2a3a" d="M6 10h1v1h-1z"/>
<path fill="#292938" d="M4 8h1v1h-1zM4 9h1v1h-1z"/>
<path fill="#272736" d="M4 7h1v1h-1z"/>
<path fill="#242432" d="M7 7h1v1h-1zM7 9h1v1h-1z"/>
<path fill="#1b1b25" d="M5 6h1v1h-1zM5 10h1v1h-1z"/>
<path fill="#191923" d="M7 8h1v1h-1z"/>
<path fill="#0e0e14" d="M6 7h1v1h-1zM6 9h1v1h-1z"/>
<path fill="#0c0c10" d="M5 7h1v1h-1zM5 8h1v1h-1zM5 9h1v1h-1z"/>
<path fill="#09090c" d="M6 8h1v1h-1z"/>
</g>
<g transform="translate(917.95 280.14) scale(5.2677 5.2118)">
<rect width="31" height="17" fill="#7f8a9b"/>
<path fill="#93a2ad" d="M0 0h1v1h-1zM30 0h1v1h-1zM30 1h1v1h-1z"/>
<path fill="#91a1ab" d="M30 2h1v1h-1zM30 16h1v1h-1z"/>
<path fill="#909faa" d="M1 0h1v1h-1zM0 1h1v1h-1zM0 2h1v1h-1zM0 6h1v1h-1zM30 15h1v1h-1zM9 16h1v1h-1z"/>
<path fill="#8e9da8" d="M29 0h1v1h-1zM30 3h1v1h-1zM30 4h1v1h-1zM30 5h1v1h-1zM0 7h1v1h-1zM30 14h1v1h-1zM0 16h1v1h-1zM10 16h1v1h-1zM29 16h1v1h-1z"/>
<path fill="#8c9ba7" d="M2 0h1v1h-1zM14 0h1v1h-1zM29 1h1v1h-1zM0 3h1v1h-1zM0 4h1v1h-1zM0 5h1v1h-1zM30 6h1v1h-1zM0 8h1v1h-1zM0 9h1v1h-1zM0 10h1v1h-1zM0 11h1v1h-1zM30 11h1v1h-1zM30 12h1v1h-1zM0 13h1v1h-1zM30 13h1v1h-1zM0 14h1v1h-1zM0 15h1v1h-1zM1 16h1v1h-1zM8 16h1v1h-1z"/>
<path fill="#8b99a6" d="M13 0h1v1h-1zM15 0h1v1h-1zM17 0h1v1h-1zM26 0h3v1h-3zM1 1h1v1h-1zM29 2h1v1h-1zM30 7h1v1h-1zM30 8h1v1h-1zM30 9h1v1h-1zM0 12h1v1h-1zM29 15h1v1h-1zM11 16h1v1h-1zM26 16h3v1h-3z"/>
<path fill="#8997a4" d="M3 0h1v1h-1zM5 0h3v1h-3zM12 0h1v1h-1zM16 0h1v1h-1zM18 0h1v1h-1zM25 0h1v1h-1zM1 2h1v1h-1zM29 3h1v1h-1zM1 6h1v1h-1zM1 7h1v1h-1zM1 10h1v1h-1zM30 10h1v1h-1zM29 14h1v1h-1zM1 15h1v1h-1zM2 16h1v1h-1zM4 16h2v1h-2zM7 16h1v1h-1zM12 16h2v1h-2zM20 16h1v1h-1zM24 16h2v1h-2z"/>
<path fill="#8895a3" d="M4 0h1v1h-1zM8 0h1v1h-1zM11 0h1v1h-1zM19 0h1v1h-1zM21 0h2v1h-2zM24 0h1v1h-1zM1 3h1v1h-1zM1 4h1v1h-1zM29 4h1v1h-1zM1 5h1v1h-1zM29 5h1v1h-1zM1 11h1v1h-1zM29 11h1v1h-1zM29 12h1v1h-1zM29 13h1v1h-1zM1 14h1v1h-1zM9 15h1v1h-1zM3 16h1v1h-1zM6 16h1v1h-1zM14 16h1v1h-1zM19 16h1v1h-1zM21 16h3v1h-3z"/>
<path fill="#8693a2" d="M9 0h2v1h-2zM20 0h1v1h-1zM23 0h1v1h-1zM25 1h4v1h-4zM29 6h1v1h-1zM29 7h1v1h-1zM1 8h1v1h-1zM29 8h1v1h-1zM1 9h1v1h-1zM29 9h1v1h-1zM29 10h1v1h-1zM1 12h1v1h-1zM1 13h1v1h-1zM8 15h1v1h-1zM10 15h1v1h-1zM15 16h2v1h-2zM18 16h1v1h-1z"/>
<path fill="#8591a0" d="M2 1h1v1h-1zM17 1h2v1h-2zM24 1h1v1h-1zM28 2h1v1h-1zM26 8h1v1h-1zM26 9h3v1h-3zM2 15h1v1h-1zM7 15h1v1h-1zM11 15h1v1h-1zM13 15h2v1h-2zM26 15h3v1h-3zM17 16h1v1h-1z"/>
<path fill="#83909f" d="M3 1h5v1h-5zM12 1h5v1h-5zM21 1h3v1h-3zM28 3h1v1h-1zM28 4h1v1h-1zM28 5h1v1h-1zM28 7h1v1h-1zM25 8h1v1h-1zM27 8h2v1h-2zM25 9h1v1h-1zM2 10h1v1h-1zM24 10h2v1h-2zM28 10h1v1h-1zM28 12h1v1h-1zM28 13h1v1h-1zM2 14h1v1h-1zM28 14h1v1h-1zM3 15h4v1h-4zM12 15h1v1h-1zM15 15h2v1h-2zM18 15h8v1h-8z"/>
<path fill="#828e9e" d="M8 1h4v1h-4zM19 1h2v1h-2zM2 2h1v1h-1zM24 2h4v1h-4zM2 3h1v1h-1zM2 6h1v1h-1zM28 6h1v1h-1zM26 7h2v1h-2zM13 8h1v1h-1zM23 10h1v1h-1zM26 10h2v1h-2zM2 11h1v1h-1zM24 11h2v1h-2zM28 11h1v1h-1zM2 13h1v1h-1zM15 13h2v1h-2zM7 14h3v1h-3zM13 14h4v1h-4zM17 15h1v1h-1z"/>
<path fill="#808c9c" d="M3 2h2v1h-2zM9 2h1v1h-1zM12 2h2v1h-2zM17 2h2v1h-2zM21 2h3v1h-3zM9 3h1v1h-1zM12 3h1v1h-1zM21 3h1v1h-1zM27 3h1v1h-1zM2 4h1v1h-1zM9 4h1v1h-1zM2 5h1v1h-1zM18 5h1v1h-1zM20 5h2v1h-2zM23 5h2v1h-2zM27 5h1v1h-1zM9 6h1v1h-1zM20 6h6v1h-6zM27 6h1v1h-1zM2 7h1v1h-1zM9 7h3v1h-3zM21 7h5v1h-5zM9 8h4v1h-4zM14 8h2v1h-2zM24 8h1v1h-1zM9 9h6v1h-6zM23 9h2v1h-2zM6 10h1v1h-1zM22 10h1v1h-1zM5 11h2v1h-2zM23 11h1v1h-1zM2 12h1v1h-1zM15 12h2v1h-2zM23 12h1v1h-1zM27 12h1v1h-1zM6 13h3v1h-3zM14 13h1v1h-1zM26 13h2v1h-2zM3 14h1v1h-1zM5 14h2v1h-2zM10 14h3v1h-3zM17 14h1v1h-1zM19 14h5v1h-5zM26 14h2v1h-2z"/>
<path fill="#7d8899" d="M6 2h1v1h-1zM5 3h4v1h-4zM14 3h3v1h-3zM18 3h1v1h-1zM3 4h5v1h-5zM13 4h1v1h-1zM15 4h1v1h-1zM26 4h1v1h-1zM4 5h1v1h-1zM7 5h1v1h-1zM12 5h1v1h-1zM14 5h2v1h-2zM5 6h1v1h-1zM7 6h1v1h-1zM12 6h2v1h-2zM15 6h2v1h-2zM6 7h3v1h-3zM16 7h1v1h-1zM19 7h1v1h-1zM7 8h1v1h-1zM19 8h1v1h-1zM2 9h1v1h-1zM19 9h2v1h-2zM3 10h1v1h-1zM5 10h1v1h-1zM10 10h1v1h-1zM18 10h3v1h-3zM8 11h1v1h-1zM12 11h2v1h-2zM17 11h5v1h-5zM4 12h1v1h-1zM8 12h6v1h-6zM17 12h1v1h-1zM20 12h2v1h-2zM4 13h1v1h-1zM18 13h2v1h-2z"/>
<path fill="#7c8698" d="M14 4h1v1h-1zM3 5h1v1h-1zM13 5h1v1h-1zM3 6h2v1h-2zM2 8h1v1h-1zM6 9h1v1h-1zM4 10h1v1h-1zM9 11h3v1h-3zM18 12h2v1h-2z"/>
<path fill="#7a8497" d="M6 8h1v1h-1z"/>
<path fill="#737b90" d="M5 7h1v1h-1z"/>
<path fill="#71798e" d="M3 7h1v1h-1z"/>
<path fill="#70778d" d="M3 9h1v1h-1zM5 9h1v1h-1z"/>
<path fill="#676b85" d="M4 7h1v1h-1z"/>
<path fill="#656a83" d="M3 8h1v1h-1zM4 9h1v1h-1z"/>
<path fill="#646882" d="M5 8h1v1h-1z"/>
<path fill="#4f4f6d" d="M4 8h1v1h-1z"/>
</g>
<g transform="translate(1092.05 280.14) scale(5.2677 5.2118)">
<rect width="31" height="17" fill="#7f8a9b"/>
<path fill="#95a4ae" d="M30 0h1v1h-1zM30 16h1v1h-1z"/>
<path fill="#93a2ad" d="M0 16h1v1h-1z"/>
<path fill="#91a1ab" d="M0 15h1v1h-1zM30 15h1v1h-1z"/>
<path fill="#909faa" d="M0 0h1v1h-1zM29 0h1v1h-1zM30 1h1v1h-1zM30 9h1v1h-1zM30 10h1v1h-1zM0 13h1v1h-1zM0 14h1v1h-1z"/>
<path fill="#8e9da8" d="M22 0h1v1h-1zM30 4h1v1h-1zM30 5h1v1h-1zM0 9h1v1h-1zM30 11h1v1h-1zM30 14h1v1h-1zM27 16h1v1h-1zM29 16h1v1h-1z"/>
<path fill="#8c9ba7" d="M1 0h1v1h-1zM21 0h1v1h-1zM28 0h1v1h-1zM0 1h1v1h-1zM0 2h1v1h-1zM30 2h1v1h-1zM0 4h1v1h-1zM0 5h1v1h-1zM29 5h1v1h-1zM29 6h2v1h-2zM29 7h2v1h-2zM3 8h1v1h-1zM30 8h1v1h-1zM29 9h1v1h-1zM0 10h1v1h-1zM29 10h1v1h-1zM0 12h1v1h-1zM30 12h1v1h-1zM1 16h3v1h-3zM16 16h1v1h-1zM22 16h1v1h-1zM26 16h1v1h-1zM28 16h1v1h-1z"/>
<path fill="#8b99a6" d="M5 0h1v1h-1zM20 0h1v1h-1zM23 0h1v1h-1zM26 0h1v1h-1zM29 1h1v1h-1zM0 3h1v1h-1zM30 3h1v1h-1zM29 4h1v1h-1zM0 6h1v1h-1zM3 7h1v1h-1zM0 8h1v1h-1zM29 8h1v1h-1zM0 11h1v1h-1zM29 11h1v1h-1zM29 12h1v1h-1zM30 13h1v1h-1zM29 15h1v1h-1zM8 16h2v1h-2zM15 16h1v1h-1zM21 16h1v1h-1z"/>
<path fill="#8997a4" d="M2 0h1v1h-1zM4 0h1v1h-1zM6 0h2v1h-2zM13 0h4v1h-4zM18 0h2v1h-2zM24 0h2v1h-2zM27 0h1v1h-1zM1 1h1v1h-1zM1 2h1v1h-1zM3 6h1v1h-1zM0 7h1v1h-1zM3 9h1v1h-1zM1 15h1v1h-1zM4 16h2v1h-2zM7 16h1v1h-1zM10 16h2v1h-2zM17 16h1v1h-1zM20 16h1v1h-1zM23 16h1v1h-1z"/>
<path fill="#8895a3" d="M3 0h1v1h-1zM8 0h5v1h-5zM17 0h1v1h-1zM29 2h1v1h-1zM29 3h1v1h-1zM29 13h1v1h-1zM1 14h1v1h-1zM29 14h1v1h-1zM6 16h1v1h-1zM12 16h3v1h-3zM18 16h2v1h-2zM25 16h1v1h-1z"/>
<path fill="#8693a2" d="M22 1h1v1h-1zM1 3h1v1h-1zM28 5h1v1h-1zM28 6h1v1h-1zM7 7h1v1h-1zM7 8h1v1h-1zM3 10h1v1h-1zM1 12h1v1h-1zM28 12h1v1h-1zM1 13h1v1h-1zM2 15h2v1h-2zM8 15h1v1h-1zM16 15h2v1h-2zM21 15h2v1h-2zM28 15h1v1h-1zM24 16h1v1h-1z"/>
<path fill="#8591a0" d="M2 1h1v1h-1zM7 1h4v1h-4zM14 1h3v1h-3zM21 1h1v1h-1zM23 1h1v1h-1zM28 1h1v1h-1zM1 4h1v1h-1zM1 5h1v1h-1zM3 5h1v1h-1zM7 6h1v1h-1zM25 6h1v1h-1zM25 7h1v1h-1zM28 7h1v1h-1zM25 8h1v1h-1zM7 9h1v1h-1zM25 9h1v1h-1zM3 11h1v1h-1zM28 11h1v1h-1zM28 13h1v1h-1zM4 15h2v1h-2zM9 15h1v1h-1zM15 15h1v1h-1zM20 15h1v1h-1zM27 15h1v1h-1z"/>
<path fill="#83909f" d="M3 1h4v1h-4zM11 1h3v1h-3zM17 1h1v1h-1zM24 1h4v1h-4zM2 2h1v1h-1zM28 2h1v1h-1zM28 3h1v1h-1zM28 4h1v1h-1zM1 6h2v1h-2zM28 9h1v1h-1zM7 10h1v1h-1zM25 10h1v1h-1zM28 10h1v1h-1zM1 11h1v1h-1zM2 14h2v1h-2zM8 14h1v1h-1zM17 14h1v1h-1zM28 14h1v1h-1zM6 15h2v1h-2zM10 15h2v1h-2zM14 15h1v1h-1zM18 15h2v1h-2zM23 15h1v1h-1z"/>
<path fill="#828e9e" d="M18 1h1v1h-1zM20 1h1v1h-1zM7 2h4v1h-4zM13 2h3v1h-3zM2 3h1v1h-1zM6 3h1v1h-1zM3 4h1v1h-1zM6 4h1v1h-1zM2 5h1v1h-1zM6 5h2v1h-2zM17 5h2v1h-2zM25 5h1v1h-1zM17 6h1v1h-1zM2 7h1v1h-1zM2 8h1v1h-1zM28 8h1v1h-1zM1 9h2v1h-2zM1 10h1v1h-1zM2 11h1v1h-1zM25 11h1v1h-1zM2 12h1v1h-1zM27 12h1v1h-1zM2 13h1v1h-1zM21 13h1v1h-1zM27 13h1v1h-1zM4 14h2v1h-2zM9 14h1v1h-1zM20 14h2v1h-2zM27 14h1v1h-1zM12 15h2v1h-2zM24 15h3v1h-3z"/>
<path fill="#808c9c" d="M19 1h1v1h-1zM3 2h1v1h-1zM5 2h2v1h-2zM11 2h2v1h-2zM16 2h2v1h-2zM22 2h1v1h-1zM24 2h4v1h-4zM3 3h1v1h-1zM7 3h4v1h-4zM14 3h4v1h-4zM24 3h2v1h-2zM2 4h1v1h-1zM7 4h1v1h-1zM12 4h2v1h-2zM16 4h3v1h-3zM24 4h2v1h-2zM16 5h1v1h-1zM21 5h2v1h-2zM26 5h1v1h-1zM6 6h1v1h-1zM8 6h1v1h-1zM10 6h1v1h-1zM16 6h1v1h-1zM18 6h1v1h-1zM26 6h1v1h-1zM1 7h1v1h-1zM6 7h1v1h-1zM8 7h1v1h-1zM10 7h1v1h-1zM16 7h4v1h-4zM1 8h1v1h-1zM6 8h1v1h-1zM8 8h1v1h-1zM16 8h5v1h-5zM15 9h2v1h-2zM19 9h3v1h-3zM2 10h1v1h-1zM14 10h3v1h-3zM19 10h2v1h-2zM7 11h1v1h-1zM11 11h3v1h-3zM18 11h2v1h-2zM26 11h2v1h-2zM3 12h1v1h-1zM6 12h1v1h-1zM18 12h4v1h-4zM26 12h1v1h-1zM3 13h1v1h-1zM17 13h2v1h-2zM20 13h1v1h-1zM22 13h1v1h-1zM26 13h1v1h-1zM6 14h2v1h-2zM16 14h1v1h-1zM18 14h1v1h-1zM22 14h1v1h-1zM25 14h2v1h-2z"/>
<path fill="#7d8899" d="M19 2h2v1h-2zM20 3h1v1h-1zM22 3h1v1h-1zM8 4h2v1h-2zM20 4h2v1h-2zM9 5h1v1h-1zM23 5h1v1h-1zM12 6h1v1h-1zM23 6h1v1h-1zM27 6h1v1h-1zM4 7h1v1h-1zM14 7h1v1h-1zM9 8h1v1h-1zM12 8h1v1h-1zM14 8h1v1h-1zM26 8h1v1h-1zM4 9h1v1h-1zM9 9h4v1h-4zM4 10h1v1h-1zM10 10h1v1h-1zM22 10h1v1h-1zM8 11h1v1h-1zM10 11h1v1h-1zM24 11h1v1h-1zM5 12h1v1h-1zM8 12h3v1h-3zM22 12h3v1h-3zM10 13h6v1h-6zM12 14h1v1h-1z"/>
<path fill="#7c8698" d="M21 3h1v1h-1zM5 5h1v1h-1zM23 7h1v1h-1zM13 8h1v1h-1zM23 8h1v1h-1zM13 9h1v1h-1zM23 9h1v1h-1zM9 10h1v1h-1zM23 10h1v1h-1zM27 10h1v1h-1zM5 11h1v1h-1zM9 11h1v1h-1zM22 11h2v1h-2z"/>
<path fill="#7a8497" d="M27 7h1v1h-1z"/>
<path fill="#798295" d="M27 9h1v1h-1z"/>
<path fill="#778094" d="M27 8h1v1h-1zM5 10h1v1h-1z"/>
<path fill="#767e93" d="M5 6h1v1h-1z"/>
<path fill="#737b90" d="M5 9h1v1h-1z"/>
<path fill="#71798e" d="M5 7h1v1h-1zM5 8h1v1h-1z"/>
</g>
<g transform="translate(47.45 379.61) scale(5.2677 5.2118)">
<rect width="31" height="17" fill="#7c8698"/>
</g>
<g transform="translate(221.55 379.61) scale(5.2677 5.2118)">
<rect width="31" height="17" fill="#7c8698"/>
<path fill="#99aab2" d="M26 8h1v1h-1z"/>
<path fill="#45455f" d="M4 8h1v1h-1z"/>
</g>
<g transform="translate(395.65 379.61) scale(5.2677 5.2118)">
<rect width="31" height="17" fill="#7c8698"/>
<path fill="#bacccc" d="M26 6h1v1h-1zM25 7h2v1h-2zM25 8h2v1h-2zM25 9h2v1h-2zM26 10h1v1h-1z"/>
<path fill="#99aab2" d="M26 5h1v1h-1zM24 6h2v1h-2zM23 7h2v1h-2zM23 8h2v1h-2zM23 9h2v1h-2zM24 10h2v1h-2zM26 11h1v1h-1z"/>
<path fill="#45455f" d="M4 5h1v1h-1zM5 6h2v1h-2zM6 7h2v1h-2zM6 8h2v1h-2zM6 9h2v1h-2zM5 10h2v1h-2zM4 11h1v1h-1z"/>
<path fill="#111118" d="M4 6h1v1h-1zM4 7h2v1h-2zM4 8h2v1h-2zM4 9h2v1h-2zM4 10h1v1h-1z"/>
</g>
<g transform="translate(569.75 379.61) scale(5.2677 5.2118)">
<rect width="31" height="17" fill="#7c8698"/>
<path fill="#bacccc" d="M25 5h2v1h-2zM23 6h4v1h-4zM22 7h5v1h-5zM21 8h6v1h-6zM22 9h5v1h-5zM23 10h4v1h-4zM25 11h2v1h-2z"/>
<path fill="#99aab2" d="M26 4h1v1h-1zM21 7h1v1h-1zM20 8h1v1h-1zM21 9h1v1h-1zM26 12h1v1h-1z"/>
<path fill="#45455f" d="M4 4h1v1h-1zM9 7h1v1h-1zM10 8h1v1h-1zM9 9h1v1h-1zM4 12h1v1h-1z"/>
<path fill="#111118" d="M4 5h2v1h-2zM4 6h4v1h-4zM4 7h5v1h-5zM4 8h6v1h-6zM4 9h5v1h-5zM4 10h4v1h-4zM4 11h2v1h-2z"/>
</g>
<g transform="translate(743.85 379.61) scale(5.2677 5.2118)">
<rect width="31" height="17" fill="#7c8698"/>
<path fill="#bacccc" d="M26 5h1v1h-1zM24 6h3v1h-3zM23 7h4v1h-4zM23 8h4v1h-4zM23 9h4v1h-4zM24 10h3v1h-3zM26 11h1v1h-1z"/>
<path fill="#99aab2" d="M25 5h1v1h-1zM23 6h1v1h-1zM22 7h1v1h-1zM21 8h2v1h-2zM22 9h1v1h-1zM23 10h1v1h-1zM25 11h1v1h-1z"/>
<path fill="#45455f" d="M5 5h1v1h-1zM7 6h1v1h-1zM8 7h1v1h-1zM8 8h2v1h-2zM8 9h1v1h-1zM7 10h1v1h-1zM5 11h1v1h-1z"/>
<path fill="#111118" d="M4 5h1v1h-1zM4 6h3v1h-3zM4 7h4v1h-4zM4 8h4v1h-4zM4 9h4v1h-4zM4 10h3v1h-3zM4 11h1v1h-1z"/>
</g>
<g transform="translate(917.95 379.61) scale(5.2677 5.2118)">
<rect width="31" height="17" fill="#7c8698"/>
<path fill="#99aab2" d="M26 8h1v1h-1z"/>
<path fill="#45455f" d="M4 8h1v1h-1z"/>
</g>
<g transform="translate(1092.05 379.61) scale(5.2677 5.2118)">
<rect width="31" height="17" fill="#7c8698"/>
</g>
</g>
<text x="22.90" y="141.70" font-size="22" text-anchor="middle" font-family='"Liberation Serif", serif' transform="rotate(-90 22.90 141.70)" textLength="38.8">20<tspan font-size="16.5" font-style="italic" dy="-8.5">th</tspan></text>
<text x="39.90" y="124.40" font-size="22" text-anchor="middle" font-family='"Liberation Serif", serif' transform="rotate(-90 39.90 124.40)" textLength="79.8">Iteration</text>
<text x="22.90" y="239.10" font-size="22" text-anchor="middle" font-family='"Liberation Serif", serif' transform="rotate(-90 22.90 239.10)" textLength="38.8">50<tspan font-size="16.5" font-style="italic" dy="-8.5">th</tspan></text>
<text x="39.90" y="223.60" font-size="22" text-anchor="middle" font-family='"Liberation Serif", serif' transform="rotate(-90 39.90 223.60)" textLength="79.8">Iteration</text>
<text x="22.90" y="331.00" font-size="22" text-anchor="middle" font-family='"Liberation Serif", serif' transform="rotate(-90 22.90 331.00)" textLength="47.2">120<tspan font-size="16.5" font-style="italic" dy="-8.5">th</tspan></text>
<text x="39.90" y="322.00" font-size="22" text-anchor="middle" font-family='"Liberation Serif", serif' transform="rotate(-90 39.90 322.00)" textLength="79.8">Iteration</text>
<text x="22.90" y="422.70" font-size="22" text-anchor="middle" font-family='"Liberation Serif", serif' transform="rotate(-90 22.90 422.70)" textLength="70.0">Ground</text>
<text x="39.90" y="421.80" font-size="22" text-anchor="middle" font-family='"Liberation Serif", serif' transform="rotate(-90 39.90 421.80)" textLength="51.8">Truth</text>
<defs><linearGradient id="cb" x1="0" y1="1" x2="0" y2="0">
<stop offset="0.0000" stop-color="#ffffff"/>
<stop offset="0.0156" stop-color="#fbfcfc"/>
<stop offset="0.0312" stop-color="#f6f8f8"/>
<stop offset="0.0469" stop-color="#f2f5f5"/>
<stop offset="0.0625" stop-color="#edf1f1"/>
<stop offset="0.0781" stop-color="#e9eeee"/>
<stop offset="0.0938" stop-color="#e4eaea"/>
<stop offset="0.1094" stop-color="#e0e7e7"/>
<stop offset="0.1250" stop-color="#dbe3e3"/>
<stop offset="0.1406" stop-color="#d7e0e0"/>
<stop offset="0.1562" stop-color="#d2dcdc"/>
<stop offset="0.1719" stop-color="#cdd9d9"/>
<stop offset="0.1875" stop-color="#c8d5d5"/>
<stop offset="0.2031" stop-color="#c3d2d2"/>
<stop offset="0.2188" stop-color="#becece"/>
<stop offset="0.2344" stop-color="#b9cbcb"/>
<stop offset="0.2500" stop-color="#b4c7c7"/>
<stop offset="0.2656" stop-color="#b0c2c4"/>
<stop offset="0.2812" stop-color="#abbec0"/>
<stop offset="0.2969" stop-color="#a7b9bd"/>
<stop offset="0.3125" stop-color="#a2b4b9"/>
<stop offset="0.3281" stop-color="#9eafb6"/>
<stop offset="0.3438" stop-color="#9aaab2"/>
<stop offset="0.3594" stop-color="#96a6af"/>
<stop offset="0.3750" stop-color="#91a1ab"/>
<stop offset="0.3906" stop-color="#8d9ca8"/>
<stop offset="0.4062" stop-color="#8997a4"/>
<stop offset="0.4219" stop-color="#8592a1"/>
<stop offset="0.4375" stop-color="#818d9d"/>
<stop offset="0.4531" stop-color="#7e899a"/>
<stop offset="0.4688" stop-color="#7a8496"/>
<stop offset="0.4844" stop-color="#767f93"/>
<stop offset="0.5000" stop-color="#727a8f"/>
<stop offset="0.5156" stop-color="#6e758c"/>
<stop offset="0.5312" stop-color="#6b7188"/>
<stop offset="0.5469" stop-color="#676c85"/>
<stop offset="0.5625" stop-color="#636781"/>
<stop offset="0.5781" stop-color="#5f627e"/>
<stop offset="0.5938" stop-color="#5b5d7b"/>
<stop offset="0.6094" stop-color="#575877"/>
<stop offset="0.6250" stop-color="#545474"/>
<stop offset="0.6406" stop-color="#50506f"/>
<stop offset="0.6562" stop-color="#4d4d6a"/>
<stop offset="0.6719" stop-color="#494965"/>
<stop offset="0.6875" stop-color="#464660"/>
<stop offset="0.7031" stop-color="#42425b"/>
<stop offset="0.7188" stop-color="#3f3f57"/>
<stop offset="0.7344" stop-color="#3b3b52"/>
<stop offset="0.7500" stop-color="#38384d"/>
<stop offset="0.7656" stop-color="#343448"/>
<stop offset="0.7812" stop-color="#313143"/>
<stop offset="0.7969" stop-color="#2d2d3f"/>
<stop offset="0.8125" stop-color="#2a2a3a"/>
<stop offset="0.8281" stop-color="#262635"/>
<stop offset="0.8438" stop-color="#232330"/>
<stop offset="0.8594" stop-color="#1f1f2b"/>
<stop offset="0.8750" stop-color="#1c1c27"/>
<stop offset="0.8906" stop-color="#181822"/>
<stop offset="0.9062" stop-color="#15151d"/>
<stop offset="0.9219" stop-color="#111118"/>
<stop offset="0.9375" stop-color="#0e0e13"/>
<stop offset="0.9531" stop-color="#0a0a0e"/>
<stop offset="0.9688" stop-color="#07070a"/>
<stop offset="0.9844" stop-color="#030305"/>
<stop offset="1.0000" stop-color="#000000"/>
</linearGradient></defs>
<rect x="1272.3" y="78.3" width="12.0" height="392.5" fill="url(#cb)" stroke="#2a2a2a" stroke-width="0.8"/>
<text x="1290.40" y="476.50" font-size="20.4" text-anchor="start" font-family='"Liberation Serif", serif'>0</text>
<line x1="1280.3" x2="1284.3" y1="410.42" y2="410.42" stroke="#222" stroke-width="0.9"/>
<text x="1290.40" y="416.12" font-size="20.4" text-anchor="start" font-family='"Liberation Serif", serif'>1</text>
<line x1="1280.3" x2="1284.3" y1="350.03" y2="350.03" stroke="#222" stroke-width="0.9"/>
<text x="1290.40" y="355.73" font-size="20.4" text-anchor="start" font-family='"Liberation Serif", serif'>2</text>
<line x1="1280.3" x2="1284.3" y1="289.65" y2="289.65" stroke="#222" stroke-width="0.9"/>
<text x="1290.40" y="295.35" font-size="20.4" text-anchor="start" font-family='"Liberation Serif", serif'>3</text>
<line x1="1280.3" x2="1284.3" y1="229.26" y2="229.26" stroke="#222" stroke-width="0.9"/>
<text x="1290.40" y="234.96" font-size="20.4" text-anchor="start" font-family='"Liberation Serif", serif'>4</text>
<line x1="1280.3" x2="1284.3" y1="168.88" y2="168.88" stroke="#222" stroke-width="0.9"/>
<text x="1290.40" y="174.58" font-size="20.4" text-anchor="start" font-family='"Liberation Serif", serif'>5</text>
<line x1="1280.3" x2="1284.3" y1="108.49" y2="108.49" stroke="#222" stroke-width="0.9"/>
<text x="1290.40" y="114.19" font-size="20.4" text-anchor="start" font-family='"Liberation Serif", serif'>6</text>
<text transform="translate(1314.8 268.6) rotate(90)" font-size="27.5" textLength="69" text-anchor="middle" font-family='"Liberation Serif", serif'><tspan font-style="italic">μ</tspan>[kPa]</text>
<text x="1.90" y="534.60" font-size="44" text-anchor="start" font-family='"Liberation Sans", sans-serif' font-weight="700">B</text>
<g id="mainaxes">
<rect x="122.3" y="566.4" width="711.2" height="445.8" fill="#fff"/>
<path d="M190.3 566.4V1012.2M240.4 566.4V1012.2M276.0 566.4V1012.2M303.6 566.4V1012.2M326.2 566.4V1012.2M345.3 566.4V1012.2M361.8 566.4V1012.2M376.4 566.4V1012.2M475.2 566.4V1012.2M525.3 566.4V1012.2M560.9 566.4V1012.2M588.5 566.4V1012.2M611.1 566.4V1012.2M630.2 566.4V1012.2M646.7 566.4V1012.2M661.3 566.4V1012.2M760.1 566.4V1012.2M810.2 566.4V1012.2M122.3 978.7H833.5M122.3 959.0H833.5M122.3 945.1H833.5M122.3 934.3H833.5M122.3 925.5H833.5M122.3 918.0H833.5M122.3 911.6H833.5M122.3 905.8H833.5M122.3 867.2H833.5M122.3 847.6H833.5M122.3 833.7H833.5M122.3 822.8H833.5M122.3 814.0H833.5M122.3 806.6H833.5M122.3 800.1H833.5M122.3 794.4H833.5M122.3 755.8H833.5M122.3 736.1H833.5M122.3 722.2H833.5M122.3 711.4H833.5M122.3 702.6H833.5M122.3 695.1H833.5M122.3 688.7H833.5M122.3 682.9H833.5M122.3 644.3H833.5M122.3 624.7H833.5M122.3 610.8H833.5M122.3 599.9H833.5M122.3 591.1H833.5M122.3 583.7H833.5M122.3 577.2H833.5M122.3 571.5H833.5" stroke="#d6d6d6" stroke-width="0.9" stroke-dasharray="1 1.2" fill="none"/>
<path d="M389.4 566.4V1012.2M674.3 566.4V1012.2M122.3 677.9H833.5M122.3 789.3H833.5M122.3 900.8H833.5" stroke="#e1e1e1" stroke-width="1.6" fill="none"/>
</g>
<g id="maindata">
<path d="M150.0 647.3L184.4 654.2L212.2 658.9L240.8 663.3L263.8 664.2L285.0 666.7L302.8 671.7L329.5 672.3L350.4 676.4L373.7 677.9L385.9 684.4L450.0 690.7L470.9 694.7L484.9 697.8L489.2 701.9L496.7 705.0L503.6 709.7L507.5 713.0L510.7 716.5L513.5 721.5L516.0 727.4L518.4 734.0L520.4 741.4L522.0 749.0L523.2 757.3" fill="none" stroke="#949494" stroke-width="1" stroke-linejoin="round"/>
<path d="M184.4 654.2h0M212.2 658.9h0M240.8 663.3h0M263.8 664.2h0M285.0 666.7h0M302.8 671.7h0M329.5 672.3h0M350.4 676.4h0M373.7 677.9h0M385.9 684.4h0M450.0 690.7h0M470.9 694.7h0M484.9 697.8h0M489.2 701.9h0M496.7 705.0h0M503.6 709.7h0M507.5 713.0h0M510.7 716.5h0M513.5 721.5h0M516.0 727.4h0M518.4 734.0h0M520.4 741.4h0M522.0 749.0h0M523.2 757.3h0" fill="none" stroke="#747474" stroke-width="2.5" stroke-linecap="round"/>
<path d="M512.2 720.0L517.2 726.6L520.5 736.4L522.1 746.3L523.3 757.8L524.1 789.0L525.0 820.0L525.5 851.0" fill="none" stroke="#8c8c8c" stroke-width="2" stroke-linejoin="round"/>
<path d="M359.1 703.1L383.4 716.5L403.9 723.4L429.2 731.1L440.7 737.7L450.0 742.7L457.8 754.5L471.2 755.7L478.0 760.7L487.1 768.5L496.7 774.7L506.0 781.3L512.9 789.7L517.0 797.0L520.0 803.7L522.5 812.0L523.8 819.3L525.0 835.0" fill="none" stroke="#949494" stroke-width="1" stroke-linejoin="round"/>
<path d="M383.4 716.5h0M403.9 723.4h0M429.2 731.1h0M440.7 737.7h0M450.0 742.7h0M457.8 754.5h0M471.2 755.7h0M478.0 760.7h0M487.1 768.5h0M496.7 774.7h0M506.0 781.3h0M512.9 789.7h0M517.0 797.0h0M520.0 803.7h0M522.5 812.0h0M523.8 819.3h0M525.0 835.0h0" fill="none" stroke="#747474" stroke-width="2.5" stroke-linecap="round"/>
<path d="M419.5 736.1L433.8 745.5L444.4 749.5L452.5 753.2L460.0 758.5L466.0 764.0L472.0 768.0L479.0 772.5L485.5 779.5L492.0 785.0L497.0 791.0L503.0 798.0L508.0 806.0L513.0 812.0L517.0 819.0L520.5 827.0L523.0 836.0L524.8 846.0" fill="none" stroke="#949494" stroke-width="1" stroke-linejoin="round"/>
<path d="M433.8 745.5h0M444.4 749.5h0M452.5 753.2h0M460.0 758.5h0M466.0 764.0h0M472.0 768.0h0M479.0 772.5h0M485.5 779.5h0M492.0 785.0h0M497.0 791.0h0M503.0 798.0h0M508.0 806.0h0M513.0 812.0h0M517.0 819.0h0M520.5 827.0h0M523.0 836.0h0M524.8 846.0h0" fill="none" stroke="#747474" stroke-width="2.5" stroke-linecap="round"/>
<path d="M452.5 752.6L458.5 760.0L464.0 765.5L470.0 769.0L476.0 776.0L482.5 781.0L488.0 786.5L494.0 792.0L499.0 799.0L504.5 805.0L510.0 813.0L514.5 818.0L519.0 826.0L522.0 834.0L524.5 845.0" fill="none" stroke="#949494" stroke-width="1" stroke-linejoin="round"/>
<path d="M458.5 760.0h0M464.0 765.5h0M470.0 769.0h0M476.0 776.0h0M482.5 781.0h0M488.0 786.5h0M494.0 792.0h0M499.0 799.0h0M504.5 805.0h0M510.0 813.0h0M514.5 818.0h0M519.0 826.0h0M522.0 834.0h0M524.5 845.0h0" fill="none" stroke="#747474" stroke-width="2.5" stroke-linecap="round"/>
<path d="M472.7 766.3L477.5 772.0L483.0 777.0L487.5 783.0L493.0 788.0L497.5 794.0L502.0 801.0L507.0 808.0L512.0 814.0L516.5 821.0L520.5 829.0L523.5 839.0" fill="none" stroke="#949494" stroke-width="1" stroke-linejoin="round"/>
<path d="M477.5 772.0h0M483.0 777.0h0M487.5 783.0h0M493.0 788.0h0M497.5 794.0h0M502.0 801.0h0M507.0 808.0h0M512.0 814.0h0M516.5 821.0h0M520.5 829.0h0M523.5 839.0h0" fill="none" stroke="#747474" stroke-width="2.5" stroke-linecap="round"/>
<path d="M487.4 778.8L491.0 784.5L495.0 789.0L499.0 795.5L503.5 802.0L508.0 809.5L512.5 815.0L517.0 822.0L521.0 830.0L524.0 841.0" fill="none" stroke="#949494" stroke-width="1" stroke-linejoin="round"/>
<path d="M491.0 784.5h0M495.0 789.0h0M499.0 795.5h0M503.5 802.0h0M508.0 809.5h0M512.5 815.0h0M517.0 822.0h0M521.0 830.0h0M524.0 841.0h0" fill="none" stroke="#747474" stroke-width="2.5" stroke-linecap="round"/>
<path d="M144.8 647.3L155.2 647.3M146.3 643.6L153.7 651.0M150.0 642.1L150.0 652.5M153.7 643.6L146.3 651.0" stroke="#909090" stroke-width="0.8" fill="none"/>
<path d="M353.9 703.1L364.3 703.1M355.4 699.4L362.8 706.8M359.1 697.9L359.1 708.3M362.8 699.4L355.4 706.8" stroke="#909090" stroke-width="0.8" fill="none"/>
<path d="M414.3 736.1L424.7 736.1M415.8 732.4L423.2 739.8M419.5 730.9L419.5 741.3M423.2 732.4L415.8 739.8" stroke="#909090" stroke-width="0.8" fill="none"/>
<path d="M447.3 752.6L457.7 752.6M448.8 748.9L456.2 756.3M452.5 747.4L452.5 757.8M456.2 748.9L448.8 756.3" stroke="#909090" stroke-width="0.8" fill="none"/>
<path d="M467.5 766.3L477.9 766.3M469.0 762.6L476.4 770.0M472.7 761.1L472.7 771.5M476.4 762.6L469.0 770.0" stroke="#909090" stroke-width="0.8" fill="none"/>
<path d="M482.2 778.8L492.6 778.8M483.7 775.1L491.1 782.5M487.4 773.6L487.4 784.0M491.1 775.1L483.7 782.5" stroke="#909090" stroke-width="0.8" fill="none"/>
<path d="M501.5 797.5L509.5 797.5M502.7 794.7L508.3 800.3M505.5 793.5L505.5 801.5M508.3 794.7L502.7 800.3" stroke="#909090" stroke-width="0.8" fill="none"/>
<path d="M506.5 808.5L514.5 808.5M507.7 805.7L513.3 811.3M510.5 804.5L510.5 812.5M513.3 805.7L507.7 811.3" stroke="#909090" stroke-width="0.8" fill="none"/>
<path d="M512.0 815.0L520.0 815.0M513.2 812.2L518.8 817.8M516.0 811.0L516.0 819.0M518.8 812.2L513.2 817.8" stroke="#909090" stroke-width="0.8" fill="none"/>
<path d="M528.5 868.0L528.8 865.8L529.1 862.7L529.6 859.2L530.0 856.0L530.5 853.1L531.0 850.2L531.5 847.4L532.0 844.8L532.5 842.4L533.1 840.2L533.6 838.1L534.2 836.0L534.8 834.0L535.5 832.1L536.2 830.2L536.9 828.4L537.6 826.7L538.3 825.0L539.0 823.4L539.8 821.8L540.5 820.3L541.2 818.9L542.0 817.6L543.1 816.1L544.4 814.5L546.0 812.8L547.7 811.1L549.5 809.5L551.3 808.1L553.2 806.8L555.2 805.5L557.4 804.1L559.8 802.6L562.4 800.9L565.2 799.3L568.0 797.8L570.9 796.5L574.0 795.3L577.2 794.1L580.4 792.9L583.7 791.6L587.0 790.3L590.4 788.9L594.0 787.6L598.1 786.2L602.6 784.8L606.8 783.5L609.6 782.6" fill="none" stroke="#909090" stroke-width="3.0" stroke-linejoin="round" stroke-linecap="round"/>
<path d="M609.6 782.6L612.5 781.7L616.7 780.4L621.5 778.9L626.0 777.6L630.2 776.5L634.3 775.5L638.6 774.6L643.1 773.6L647.9 772.5L653.0 771.5L658.1 770.4L663.0 769.4L667.6 768.5L672.0 767.6L676.2 766.8L680.4 766.0L684.4 765.2L688.3 764.4L692.1 763.7L696.0 762.9L700.3 762.1L705.0 761.2L709.1 760.4L712.0 759.9" fill="none" stroke="#8a8a8a" stroke-width="2.2" stroke-linejoin="round"/>
<path d="M712.0 759.9L715.2 759.5L719.7 758.9L724.8 758.2L729.5 757.6L733.7 757.0L737.8 756.5L741.9 756.0L746.0 755.5L750.2 755.1L754.5 754.8L758.7 754.4L763.0 754.0L767.4 753.5L771.9 752.9L776.2 752.3L780.0 751.6L783.1 750.8L785.6 749.9L787.9 748.9L790.0 748.0L791.8 747.2L793.3 746.4L794.8 745.7L797.0 744.8L800.3 743.7L804.4 742.4L808.2 741.2L810.9 740.4" fill="none" stroke="#858585" stroke-width="1.5" stroke-linejoin="round"/>
<path d="M563.3 787.8L561.5 792.2L560.9 794.5L560.3 796.9L558.4 799.7L556.5 802.5L551.5 806.0L546.1 811.0" fill="none" stroke="#8e8e8e" stroke-width="0.85" stroke-linejoin="round"/>
<path d="M561.5 792.2h0M560.9 794.5h0M560.3 796.9h0M558.4 799.7h0M556.5 802.5h0M551.5 806.0h0M546.1 811.0h0" fill="none" stroke="#747474" stroke-width="2.5" stroke-linecap="round"/>
<path d="M558.1 787.8L568.5 787.8M559.6 784.1L567.0 791.5M563.3 782.6L563.3 793.0M567.0 784.1L559.6 791.5" stroke="#8f8f8f" stroke-width="0.8" fill="none"/>
<path d="M594.1 774.6L592.7 776.9L591.2 779.1L587.6 782.1L584.7 785.1L584.1 788.6L581.5 790.0L579.0 791.5L572.5 793.8L568.4 796.8L563.4 799.0L555.4 804.5L548.1 810.1L541.5 817.5" fill="none" stroke="#8e8e8e" stroke-width="0.85" stroke-linejoin="round"/>
<path d="M592.7 776.9h0M591.2 779.1h0M587.6 782.1h0M584.7 785.1h0M584.1 788.6h0M581.5 790.0h0M579.0 791.5h0M572.5 793.8h0M568.4 796.8h0M563.4 799.0h0M555.4 804.5h0M548.1 810.1h0M541.5 817.5h0" fill="none" stroke="#747474" stroke-width="2.5" stroke-linecap="round"/>
<path d="M588.9 774.6L599.3 774.6M590.4 770.9L597.8 778.3M594.1 769.4L594.1 779.8M597.8 770.9L590.4 778.3" stroke="#8f8f8f" stroke-width="0.8" fill="none"/>
<path d="M625.0 758.2L623.8 761.2L622.6 764.3L620.9 766.1L619.1 767.9L617.3 769.5L615.5 771.1L614.9 773.7L614.3 776.2L611.6 776.8L609.0 777.4L606.0 779.3L603.0 781.3L596.5 784.8L590.4 787.5L583.7 790.0L576.6 793.8L571.4 795.5L564.0 800.0L557.1 805.0L550.3 809.9L544.7 815.2" fill="none" stroke="#8e8e8e" stroke-width="0.85" stroke-linejoin="round"/>
<path d="M623.8 761.2h0M622.6 764.3h0M620.9 766.1h0M619.1 767.9h0M617.3 769.5h0M615.5 771.1h0M614.9 773.7h0M614.3 776.2h0M611.6 776.8h0M609.0 777.4h0M606.0 779.3h0M603.0 781.3h0M596.5 784.8h0M590.4 787.5h0M583.7 790.0h0M576.6 793.8h0M571.4 795.5h0M564.0 800.0h0M557.1 805.0h0M550.3 809.9h0M544.7 815.2h0" fill="none" stroke="#747474" stroke-width="2.5" stroke-linecap="round"/>
<path d="M619.8 758.2L630.2 758.2M621.3 754.5L628.7 761.9M625.0 753.0L625.0 763.4M628.7 754.5L621.3 761.9" stroke="#8f8f8f" stroke-width="0.8" fill="none"/>
<path d="M655.8 741.8L655.8 745.0L655.8 748.3L655.8 751.5L653.5 754.0L651.3 756.6L649.5 758.8L647.6 760.9L646.7 764.3L645.8 767.8L642.8 767.5L639.9 767.2L636.7 768.8L633.6 770.5L630.4 772.1L624.6 774.8L617.1 776.5L612.6 778.5L604.7 781.5L598.2 783.7L592.2 786.1L586.8 788.5L580.4 791.6L573.7 794.3L566.3 797.7L559.6 800.8L552.1 806.6L544.5 813.1" fill="none" stroke="#8e8e8e" stroke-width="0.85" stroke-linejoin="round"/>
<path d="M655.8 745.0h0M655.8 748.3h0M655.8 751.5h0M653.5 754.0h0M651.3 756.6h0M649.5 758.8h0M647.6 760.9h0M646.7 764.3h0M645.8 767.8h0M642.8 767.5h0M639.9 767.2h0M636.7 768.8h0M633.6 770.5h0M630.4 772.1h0M624.6 774.8h0M617.1 776.5h0M612.6 778.5h0M604.7 781.5h0M598.2 783.7h0M592.2 786.1h0M586.8 788.5h0M580.4 791.6h0M573.7 794.3h0M566.3 797.7h0M559.6 800.8h0M552.1 806.6h0M544.5 813.1h0" fill="none" stroke="#747474" stroke-width="2.5" stroke-linecap="round"/>
<path d="M650.6 741.8L661.0 741.8M652.1 738.1L659.5 745.5M655.8 736.6L655.8 747.0M659.5 738.1L652.1 745.5" stroke="#8f8f8f" stroke-width="0.8" fill="none"/>
<path d="M687.2 731.9L687.2 735.3L687.2 738.6L687.2 742.0L685.2 744.7L683.3 747.4L681.7 749.8L680.1 752.3L679.5 755.1L678.9 757.9L678.3 760.7L675.1 759.8L672.0 758.9L668.9 760.6L665.7 762.2L662.6 763.9L655.7 766.1L648.4 769.0L643.3 770.2L635.9 773.5L631.5 774.7L625.9 775.8L620.7 778.3L613.2 780.0L606.7 782.2L599.9 784.8L592.3 788.3L586.3 790.7L581.1 791.8L574.7 794.2L569.9 796.6L563.5 799.7L559.3 803.2L554.0 806.7L546.4 812.1" fill="none" stroke="#8e8e8e" stroke-width="0.85" stroke-linejoin="round"/>
<path d="M687.2 735.3h0M687.2 738.6h0M687.2 742.0h0M685.2 744.7h0M683.3 747.4h0M681.7 749.8h0M680.1 752.3h0M679.5 755.1h0M678.9 757.9h0M678.3 760.7h0M675.1 759.8h0M672.0 758.9h0M668.9 760.6h0M665.7 762.2h0M662.6 763.9h0M655.7 766.1h0M648.4 769.0h0M643.3 770.2h0M635.9 773.5h0M631.5 774.7h0M625.9 775.8h0M620.7 778.3h0M613.2 780.0h0M606.7 782.2h0M599.9 784.8h0M592.3 788.3h0M586.3 790.7h0M581.1 791.8h0M574.7 794.2h0M569.9 796.6h0M563.5 799.7h0M559.3 803.2h0M554.0 806.7h0M546.4 812.1h0" fill="none" stroke="#747474" stroke-width="2.5" stroke-linecap="round"/>
<path d="M682.0 731.9L692.4 731.9M683.5 728.2L690.9 735.6M687.2 726.7L687.2 737.1M690.9 728.2L683.5 735.6" stroke="#8f8f8f" stroke-width="0.8" fill="none"/>
<path d="M718.0 727.8L718.0 730.8L718.0 733.7L718.0 736.7L716.8 738.9L715.6 741.1L714.5 743.4L713.3 745.6L712.9 748.3L712.5 750.9L712.1 753.6L708.7 753.2L705.3 752.7L701.4 753.9L698.5 755.7L695.7 757.5L689.9 760.0L683.3 762.5L677.0 764.6L669.3 766.7L663.6 768.6L658.6 769.6L650.7 771.8L644.5 772.8L638.8 775.0L634.8 776.1L628.2 777.2L621.7 779.6L615.0 781.6L608.2 784.3L604.1 784.8L597.4 788.1L592.4 789.2L586.0 791.6L580.6 793.8L575.1 796.2L569.9 798.0L562.8 801.3L556.5 806.2L551.3 809.0L544.1 815.9" fill="none" stroke="#8e8e8e" stroke-width="0.85" stroke-linejoin="round"/>
<path d="M718.0 730.8h0M718.0 733.7h0M718.0 736.7h0M716.8 738.9h0M715.6 741.1h0M714.5 743.4h0M713.3 745.6h0M712.9 748.3h0M712.5 750.9h0M712.1 753.6h0M708.7 753.2h0M705.3 752.7h0M701.4 753.9h0M698.5 755.7h0M695.7 757.5h0M689.9 760.0h0M683.3 762.5h0M677.0 764.6h0M669.3 766.7h0M663.6 768.6h0M658.6 769.6h0M650.7 771.8h0M644.5 772.8h0M638.8 775.0h0M634.8 776.1h0M628.2 777.2h0M621.7 779.6h0M615.0 781.6h0M608.2 784.3h0M604.1 784.8h0M597.4 788.1h0M592.4 789.2h0M586.0 791.6h0M580.6 793.8h0M575.1 796.2h0M569.9 798.0h0M562.8 801.3h0M556.5 806.2h0M551.3 809.0h0M544.1 815.9h0" fill="none" stroke="#747474" stroke-width="2.5" stroke-linecap="round"/>
<path d="M712.8 727.8L723.2 727.8M714.3 724.1L721.7 731.5M718.0 722.6L718.0 733.0M721.7 724.1L714.3 731.5" stroke="#8f8f8f" stroke-width="0.8" fill="none"/>
<path d="M748.6 730.5L748.6 733.6L748.6 736.7L747.2 739.2L745.9 741.7L745.7 745.0L745.5 748.2L742.1 747.8L738.8 747.4L736.5 748.2L734.3 749.1L731.8 750.9L729.3 752.7L724.6 754.0L717.8 755.0L712.5 756.5L705.1 758.3L697.7 759.7L692.4 761.6L684.8 763.0L679.9 763.8L673.8 765.2L666.6 767.4L661.8 767.8L654.6 769.8L647.4 771.0L642.9 772.0L635.7 773.6L630.3 775.0L624.6 776.5L617.0 778.5L612.9 780.8L605.4 783.2L599.7 785.0L592.0 786.7L585.0 790.2L578.3 792.4L573.2 794.2L568.3 795.9L561.9 799.7L554.7 804.0L547.1 810.7" fill="none" stroke="#8e8e8e" stroke-width="0.85" stroke-linejoin="round"/>
<path d="M748.6 733.6h0M748.6 736.7h0M747.2 739.2h0M745.9 741.7h0M745.7 745.0h0M745.5 748.2h0M742.1 747.8h0M738.8 747.4h0M736.5 748.2h0M734.3 749.1h0M731.8 750.9h0M729.3 752.7h0M724.6 754.0h0M717.8 755.0h0M712.5 756.5h0M705.1 758.3h0M697.7 759.7h0M692.4 761.6h0M684.8 763.0h0M679.9 763.8h0M673.8 765.2h0M666.6 767.4h0M661.8 767.8h0M654.6 769.8h0M647.4 771.0h0M642.9 772.0h0M635.7 773.6h0M630.3 775.0h0M624.6 776.5h0M617.0 778.5h0M612.9 780.8h0M605.4 783.2h0M599.7 785.0h0M592.0 786.7h0M585.0 790.2h0M578.3 792.4h0M573.2 794.2h0M568.3 795.9h0M561.9 799.7h0M554.7 804.0h0M547.1 810.7h0" fill="none" stroke="#747474" stroke-width="2.5" stroke-linecap="round"/>
<path d="M743.4 730.5L753.8 730.5M744.9 726.8L752.3 734.2M748.6 725.3L748.6 735.7M752.3 726.8L744.9 734.2" stroke="#8f8f8f" stroke-width="0.8" fill="none"/>
<path d="M779.3 734.0L778.4 738.5L778.1 741.9L777.9 745.2L774.8 744.5L771.7 743.8L768.1 745.6L765.5 747.1L762.8 748.6L755.1 750.9L747.5 752.0L743.5 753.3L738.8 753.9L732.1 755.5L726.5 757.1L720.0 757.5L715.0 759.0L709.1 760.0L703.7 760.4L697.5 762.5L692.9 763.5L685.2 765.1L677.9 765.7L671.4 768.0L667.2 768.1L662.1 769.5L656.4 770.6L649.3 771.6L645.1 772.7L640.6 773.6L632.7 776.3L628.3 777.0L623.1 778.2L617.7 780.2L611.3 781.9L606.6 783.3L602.1 785.0L595.2 787.0L590.9 788.4L585.4 791.0L578.3 793.6L571.0 796.6L565.3 799.1L559.3 803.1L553.7 806.7L547.8 810.7" fill="none" stroke="#8e8e8e" stroke-width="0.85" stroke-linejoin="round"/>
<path d="M778.4 738.5h0M778.1 741.9h0M777.9 745.2h0M774.8 744.5h0M771.7 743.8h0M768.1 745.6h0M765.5 747.1h0M762.8 748.6h0M755.1 750.9h0M747.5 752.0h0M743.5 753.3h0M738.8 753.9h0M732.1 755.5h0M726.5 757.1h0M720.0 757.5h0M715.0 759.0h0M709.1 760.0h0M703.7 760.4h0M697.5 762.5h0M692.9 763.5h0M685.2 765.1h0M677.9 765.7h0M671.4 768.0h0M667.2 768.1h0M662.1 769.5h0M656.4 770.6h0M649.3 771.6h0M645.1 772.7h0M640.6 773.6h0M632.7 776.3h0M628.3 777.0h0M623.1 778.2h0M617.7 780.2h0M611.3 781.9h0M606.6 783.3h0M602.1 785.0h0M595.2 787.0h0M590.9 788.4h0M585.4 791.0h0M578.3 793.6h0M571.0 796.6h0M565.3 799.1h0M559.3 803.1h0M553.7 806.7h0M547.8 810.7h0" fill="none" stroke="#747474" stroke-width="2.5" stroke-linecap="round"/>
<path d="M774.1 734.0L784.5 734.0M775.6 730.3L783.0 737.7M779.3 728.8L779.3 739.2M783.0 730.3L775.6 737.7" stroke="#8f8f8f" stroke-width="0.8" fill="none"/>
<path d="M810.8 722.8L812.6 726.9L812.0 729.5L811.4 732.2L811.2 734.9L811.0 737.5L810.8 740.2L808.1 739.5L805.5 738.8L801.9 740.6L799.5 742.5L797.1 744.3L791.0 747.7L786.7 749.5L781.0 752.2L773.2 753.1L765.6 754.7L760.6 755.0L756.1 755.9L749.4 756.6L742.3 757.2L735.3 758.0L730.9 758.6L726.9 758.6L719.8 759.4L715.4 760.1L707.9 761.4L703.8 763.0L699.3 763.9L692.6 765.2L684.8 766.4L677.6 767.2L670.6 769.2L663.7 770.0L656.7 772.5L652.5 772.6L646.2 774.6L641.2 774.9L636.2 776.5L629.2 777.9L623.8 779.4L618.4 781.0L614.0 782.4L606.1 784.8L599.1 786.7L592.4 789.8L585.7 792.1L579.7 794.6L572.2 796.8L567.8 799.5L560.1 803.6L554.3 807.6L549.6 810.4L544.8 815.5" fill="none" stroke="#8e8e8e" stroke-width="0.85" stroke-linejoin="round"/>
<path d="M812.6 726.9h0M812.0 729.5h0M811.4 732.2h0M811.2 734.9h0M811.0 737.5h0M810.8 740.2h0M808.1 739.5h0M805.5 738.8h0M801.9 740.6h0M799.5 742.5h0M797.1 744.3h0M791.0 747.7h0M786.7 749.5h0M781.0 752.2h0M773.2 753.1h0M765.6 754.7h0M760.6 755.0h0M756.1 755.9h0M749.4 756.6h0M742.3 757.2h0M735.3 758.0h0M730.9 758.6h0M726.9 758.6h0M719.8 759.4h0M715.4 760.1h0M707.9 761.4h0M703.8 763.0h0M699.3 763.9h0M692.6 765.2h0M684.8 766.4h0M677.6 767.2h0M670.6 769.2h0M663.7 770.0h0M656.7 772.5h0M652.5 772.6h0M646.2 774.6h0M641.2 774.9h0M636.2 776.5h0M629.2 777.9h0M623.8 779.4h0M618.4 781.0h0M614.0 782.4h0M606.1 784.8h0M599.1 786.7h0M592.4 789.8h0M585.7 792.1h0M579.7 794.6h0M572.2 796.8h0M567.8 799.5h0M560.1 803.6h0M554.3 807.6h0M549.6 810.4h0M544.8 815.5h0" fill="none" stroke="#747474" stroke-width="2.5" stroke-linecap="round"/>
<path d="M805.6 722.8L816.0 722.8M807.1 719.1L814.5 726.5M810.8 717.6L810.8 728.0M814.5 719.1L807.1 726.5" stroke="#8f8f8f" stroke-width="0.8" fill="none"/>
<path d="M528.6 810.0L537.0 810.0M529.8 807.0L535.8 813.0M532.8 805.8L532.8 814.2M535.8 807.0L529.8 813.0" stroke="#909090" stroke-width="0.8" fill="none"/>
<path d="M532.8 871.9L532.9 870.6L533.0 868.7L533.2 866.5L533.4 864.2L533.6 862.0L533.8 860.0L534.1 858.1L534.4 856.1L534.8 853.9L535.2 851.4L535.8 848.3L536.4 844.8L537.1 841.2L537.8 837.8L538.5 834.9L539.1 832.7L539.7 830.9L540.3 829.3L540.9 827.9L541.5 826.5L542.2 825.0L543.1 823.5L543.9 822.2L544.6 821.0L545.1 820.2" fill="none" stroke="#7b7b7b" stroke-width="2.3" stroke-linecap="round"/>
<path d="M542.1 842.3L542.7 840.4L543.4 837.8L544.4 834.7L545.5 831.5L546.7 828.4L548.1 825.5L549.6 822.5L551.3 819.4L553.1 816.5L554.9 813.6L556.8 810.8L558.9 807.9L561.0 805.1L563.0 802.6L564.8 800.5L566.5 798.7L568.2 797.3L569.8 796.1L571.1 795.2L572.0 794.5" fill="none" stroke="#7b7b7b" stroke-width="2.3" stroke-linecap="round"/>
<path d="M550.0 848.9L550.6 846.8L551.4 843.9L552.3 840.5L553.5 836.8L554.9 833.3L556.5 829.8L558.4 826.1L560.5 822.3L562.6 818.6L564.8 815.2L567.0 812.0L569.3 808.8L571.6 805.9L574.0 803.1L576.3 800.5L578.7 798.1L581.1 795.9L583.4 793.9L585.7 792.2L587.8 790.6L589.8 789.3L591.7 788.2L593.5 787.3L594.9 786.5L596.0 786.0" fill="none" stroke="#7b7b7b" stroke-width="2.3" stroke-linecap="round"/>
<path d="M567.8 837.1L568.9 835.0L570.4 832.1L572.3 828.6L574.3 825.1L576.3 821.8L578.4 818.8L580.6 815.8L582.9 812.8L585.3 809.8L587.8 807.0L590.3 804.2L592.9 801.5L595.6 798.8L598.2 796.3L600.9 793.9L603.6 791.6L606.4 789.5L609.2 787.4L611.8 785.6L614.1 784.0L616.1 782.7L618.0 781.6L619.7 780.7L621.0 780.0L622.0 779.5" fill="none" stroke="#7b7b7b" stroke-width="2.3" stroke-linecap="round"/>
<path d="M592.4 826.4L594.0 824.7L596.2 822.2L598.8 819.4L601.6 816.4L604.2 813.6L606.7 811.0L609.3 808.3L612.0 805.7L614.7 803.1L617.3 800.5L620.0 797.9L622.8 795.3L625.5 792.7L628.1 790.3L630.5 788.1L632.6 786.2L634.5 784.4L636.3 782.8L638.1 781.4L640.0 779.9L642.1 778.4L644.4 776.9L646.7 775.5L648.6 774.3L650.0 773.5" fill="none" stroke="#7b7b7b" stroke-width="2.3" stroke-linecap="round"/>
<path d="M623.9 816.1L626.1 814.2L629.2 811.4L632.9 808.3L636.6 805.0L640.0 802.1L643.1 799.4L646.2 796.8L649.2 794.3L652.1 791.8L655.0 789.5L657.7 787.3L660.4 785.2L663.0 783.3L665.5 781.4L668.0 779.5L670.7 777.6L673.5 775.6L676.2 773.7L678.6 772.1L680.2 771.0" fill="none" stroke="#7b7b7b" stroke-width="2.3" stroke-linecap="round"/>
<path d="M524.6 800.0L525.6 850.0L526.8 885.0" fill="none" stroke="#8f8f8f" stroke-width="3.2" stroke-linecap="round"/>
<path d="M506.0 798.0L507.1 800.5L508.6 804.1L510.4 808.2L512.0 812.0L513.5 815.5L515.1 818.9L516.6 822.4L518.0 826.0L519.4 829.9L520.8 833.9L522.0 838.0L523.0 842.0L523.8 846.4L524.3 851.0L524.7 855.1L525.0 858.0" fill="none" stroke="#8f8f8f" stroke-width="2" stroke-linecap="round"/>
<rect x="523.4" y="789.2" width="6.7" height="222.6" fill="none" stroke="#0b0bff" stroke-width="2.5"/>
<rect x="525.3" y="566.4" width="2.4" height="445.8" fill="#f4d2d3" fill-opacity="0.75"/>
<path d="M525.3 566.4V1012.2M527.7 566.4V1012.2" stroke="#d05656" stroke-width="1.2" stroke-dasharray="6.5 2.4" fill="none"/>
<path d="M495.8 789.0L500.8 798.8L505.7 812.0L507.3 815.7L510.6 816.9L513.9 823.4L518.8 830.0L522.1 835.8L524.6 844.8L525.4 856.3L525.9 867.8L526.2 895.7" fill="none" stroke="#0a0a0a" stroke-width="2.5" stroke-linejoin="round" stroke-linecap="round"/>
<path d="M490.6 788.3L501.0 788.3M492.1 784.6L499.5 792.0M495.8 783.1L495.8 793.5M499.5 784.6L492.1 792.0" stroke="#111" stroke-width="1" fill="none"/>
<circle cx="385.9" cy="684.4" r="3.1" fill="#dc0a0a"/>
<circle cx="523.3" cy="757.6" r="4.5" fill="#dc0a0a"/>
<circle cx="487.3" cy="768.6" r="3.0" fill="#dc0a0a"/>
<circle cx="494.7" cy="786.5" r="2.8" fill="#dc0a0a"/>
<circle cx="500.8" cy="797.2" r="2.0" fill="#dc0a0a"/>
<circle cx="509.8" cy="815.2" r="2.2" fill="#dc0a0a"/>
<circle cx="512.7" cy="821.8" r="3.0" fill="#dc0a0a"/>
<circle cx="518.8" cy="830.0" r="3.0" fill="#dc0a0a"/>
<circle cx="522.1" cy="843.2" r="3.4" fill="#dc0a0a"/>
<circle cx="527.8" cy="844.0" r="3.2" fill="#dc0a0a"/>
<circle cx="528.7" cy="833.0" r="3.2" fill="#dc0a0a"/>
<circle cx="533.6" cy="829.7" r="4.0" fill="#dc0a0a"/>
<circle cx="525.4" cy="856.3" r="4.4" fill="#dc0a0a"/>
<circle cx="524.0" cy="850.0" r="3.5" fill="#dc0a0a"/>
<circle cx="543.1" cy="816.1" r="4.5" fill="#dc0a0a"/>
<circle cx="557.4" cy="804.1" r="4.5" fill="#dc0a0a"/>
<circle cx="580.4" cy="792.9" r="4.5" fill="#dc0a0a"/>
<circle cx="609.6" cy="783.7" r="4.5" fill="#dc0a0a"/>
<circle cx="643.1" cy="776.7" r="4.5" fill="#dc0a0a"/>
<circle cx="680.4" cy="771.4" r="4.5" fill="#dc0a0a"/>
<circle cx="549.2" cy="818.2" r="2.0" fill="#dc0a0a"/>
<circle cx="572.2" cy="799.1" r="2.4" fill="#dc0a0a"/>
<circle cx="600.3" cy="782.6" r="2.6" fill="#dc0a0a"/>
<circle cx="630.4" cy="772.0" r="3.0" fill="#dc0a0a"/>
<circle cx="663.1" cy="763.9" r="3.0" fill="#dc0a0a"/>
<circle cx="695.9" cy="757.5" r="3.0" fill="#dc0a0a"/>
<circle cx="729.5" cy="752.7" r="3.0" fill="#dc0a0a"/>
<circle cx="763.2" cy="748.7" r="3.0" fill="#dc0a0a"/>
<circle cx="797.0" cy="744.7" r="3.0" fill="#dc0a0a"/>
</g>
<path d="M190.3 1012.2v-3.6M190.3 566.4v3.6M240.4 1012.2v-3.6M240.4 566.4v3.6M276.0 1012.2v-3.6M276.0 566.4v3.6M303.6 1012.2v-3.6M303.6 566.4v3.6M326.2 1012.2v-3.6M326.2 566.4v3.6M345.3 1012.2v-3.6M345.3 566.4v3.6M361.8 1012.2v-3.6M361.8 566.4v3.6M376.4 1012.2v-3.6M376.4 566.4v3.6M389.4 1012.2v-7.5M389.4 566.4v7.5M475.2 1012.2v-3.6M475.2 566.4v3.6M525.3 1012.2v-3.6M525.3 566.4v3.6M560.9 1012.2v-3.6M560.9 566.4v3.6M588.5 1012.2v-3.6M588.5 566.4v3.6M611.1 1012.2v-3.6M611.1 566.4v3.6M630.2 1012.2v-3.6M630.2 566.4v3.6M646.7 1012.2v-3.6M646.7 566.4v3.6M661.3 1012.2v-3.6M661.3 566.4v3.6M674.3 1012.2v-7.5M674.3 566.4v7.5M760.1 1012.2v-3.6M760.1 566.4v3.6M810.2 1012.2v-3.6M810.2 566.4v3.6M122.3 978.7h3.6M833.5 978.7h-3.6M122.3 959.0h3.6M833.5 959.0h-3.6M122.3 945.1h3.6M833.5 945.1h-3.6M122.3 934.3h3.6M833.5 934.3h-3.6M122.3 925.5h3.6M833.5 925.5h-3.6M122.3 918.0h3.6M833.5 918.0h-3.6M122.3 911.6h3.6M833.5 911.6h-3.6M122.3 905.8h3.6M833.5 905.8h-3.6M122.3 900.8h7.5M833.5 900.8h-7.5M122.3 867.2h3.6M833.5 867.2h-3.6M122.3 847.6h3.6M833.5 847.6h-3.6M122.3 833.7h3.6M833.5 833.7h-3.6M122.3 822.8h3.6M833.5 822.8h-3.6M122.3 814.0h3.6M833.5 814.0h-3.6M122.3 806.6h3.6M833.5 806.6h-3.6M122.3 800.1h3.6M833.5 800.1h-3.6M122.3 794.4h3.6M833.5 794.4h-3.6M122.3 789.3h7.5M833.5 789.3h-7.5M122.3 755.8h3.6M833.5 755.8h-3.6M122.3 736.1h3.6M833.5 736.1h-3.6M122.3 722.2h3.6M833.5 722.2h-3.6M122.3 711.4h3.6M833.5 711.4h-3.6M122.3 702.6h3.6M833.5 702.6h-3.6M122.3 695.1h3.6M833.5 695.1h-3.6M122.3 688.7h3.6M833.5 688.7h-3.6M122.3 682.9h3.6M833.5 682.9h-3.6M122.3 677.9h7.5M833.5 677.9h-7.5M122.3 644.3h3.6M833.5 644.3h-3.6M122.3 624.7h3.6M833.5 624.7h-3.6M122.3 610.8h3.6M833.5 610.8h-3.6M122.3 599.9h3.6M833.5 599.9h-3.6M122.3 591.1h3.6M833.5 591.1h-3.6M122.3 583.7h3.6M833.5 583.7h-3.6M122.3 577.2h3.6M833.5 577.2h-3.6M122.3 571.5h3.6M833.5 571.5h-3.6" stroke="#5c5c5c" stroke-width="1" fill="none"/>
<rect x="122.3" y="566.4" width="711.2" height="445.8" fill="none" stroke="#5c5c5c" stroke-width="1.1"/>
<text x="58.30" y="573.30" font-size="29" text-anchor="start" font-family='"Liberation Serif", serif' textLength="54.5">10<tspan font-size="20.3" dy="-9.7">−4</tspan></text>
<text x="58.30" y="684.75" font-size="29" text-anchor="start" font-family='"Liberation Serif", serif' textLength="54.5">10<tspan font-size="20.3" dy="-9.7">−5</tspan></text>
<text x="58.30" y="796.20" font-size="29" text-anchor="start" font-family='"Liberation Serif", serif' textLength="54.5">10<tspan font-size="20.3" dy="-9.7">−6</tspan></text>
<text x="58.30" y="907.65" font-size="29" text-anchor="start" font-family='"Liberation Serif", serif' textLength="54.5">10<tspan font-size="20.3" dy="-9.7">−7</tspan></text>
<text x="58.30" y="1020.30" font-size="29" text-anchor="start" font-family='"Liberation Serif", serif' textLength="54.5">10<tspan font-size="20.3" dy="-9.7">−8</tspan></text>
<text x="368.50" y="1045.20" font-size="29" text-anchor="start" font-family='"Liberation Serif", serif' textLength="40.5">10<tspan font-size="20.3" dy="-9.7">0</tspan></text>
<text x="653.30" y="1045.20" font-size="29" text-anchor="start" font-family='"Liberation Serif", serif' textLength="40.5">10<tspan font-size="20.3" dy="-9.7">1</tspan></text>
<text x="477.6" y="1085.2" text-anchor="middle" font-family='"Liberation Serif", serif' font-size="35"><tspan font-size="40" dy="2">⟨</tspan><tspan font-style="italic" dy="-2">μ</tspan><tspan font-size="40" dy="2">⟩</tspan></text>
<text transform="translate(42.3 843.6) rotate(-90)" font-size="34.5" text-anchor="start" textLength="107.5" lengthAdjust="spacingAndGlyphs" font-family='"Liberation Serif", serif'>Δ<tspan font-style="italic">u</tspan><tspan font-style="italic" font-size="24.5" dy="6.5">RMS</tspan></text>
<path d="M530.6 790.0L536.5 790.0L544.7 789.9L554.4 789.8L564.8 789.7L575.3 789.6L585.0 789.4L594.1 789.2L603.2 789.0L612.4 788.7L621.6 788.4L630.8 787.9L640.1 787.3L649.6 786.4L659.3 785.4L669.0 784.2L678.7 783.0L688.0 781.7L697.0 780.6L705.5 779.6L713.6 778.6L721.5 777.6L729.2 776.6L736.9 775.6L744.5 774.4L752.1 773.1L759.5 771.8L766.9 770.3L774.2 768.8L781.5 767.3L788.9 765.6L796.3 763.9L803.7 762.1L811.1 760.3L818.6 758.3L826.0 756.2L833.4 753.9L840.9 751.4L848.6 748.6L856.3 745.7L863.9 742.8L871.1 739.8L877.9 736.8L884.2 733.8L890.3 730.8L896.0 727.8L901.4 724.8L906.5 721.8L911.3 719.0L915.6 716.4L919.5 713.9L923.1 711.5L926.5 709.1L929.9 706.4L933.5 703.4L937.3 700.0L941.1 696.2L945.0 692.3L948.8 688.2L952.4 684.1L955.7 680.1L958.7 676.1L961.6 672.1L964.2 668.1L966.7 664.0L969.0 659.8L971.3 655.6L973.5 651.2L975.5 646.7L977.5 642.1L979.3 637.5L980.9 633.1L982.4 628.9L983.7 624.8L984.9 620.8L985.8 616.9L986.7 613.2L987.4 609.8L988.0 606.7L988.4 603.9L988.7 601.3L988.8 599.0L988.8 596.9L988.8 595.3L988.8 594.0" fill="none" stroke="#2a2aff" stroke-opacity="0.03" stroke-width="9"/>
<path d="M530.6 790.0L536.5 790.0L544.7 789.9L554.4 789.8L564.8 789.7L575.3 789.6L585.0 789.4L594.1 789.2L603.2 789.0L612.4 788.7L621.6 788.4L630.8 787.9L640.1 787.3L649.6 786.4L659.3 785.4L669.0 784.2L678.7 783.0L688.0 781.7L697.0 780.6L705.5 779.6L713.6 778.6L721.5 777.6L729.2 776.6L736.9 775.6L744.5 774.4L752.1 773.1L759.5 771.8L766.9 770.3L774.2 768.8L781.5 767.3L788.9 765.6L796.3 763.9L803.7 762.1L811.1 760.3L818.6 758.3L826.0 756.2L833.4 753.9L840.9 751.4L848.6 748.6L856.3 745.7L863.9 742.8L871.1 739.8L877.9 736.8L884.2 733.8L890.3 730.8L896.0 727.8L901.4 724.8L906.5 721.8L911.3 719.0L915.6 716.4L919.5 713.9L923.1 711.5L926.5 709.1L929.9 706.4L933.5 703.4L937.3 700.0L941.1 696.2L945.0 692.3L948.8 688.2L952.4 684.1L955.7 680.1L958.7 676.1L961.6 672.1L964.2 668.1L966.7 664.0L969.0 659.8L971.3 655.6L973.5 651.2L975.5 646.7L977.5 642.1L979.3 637.5L980.9 633.1L982.4 628.9L983.7 624.8L984.9 620.8L985.8 616.9L986.7 613.2L987.4 609.8L988.0 606.7L988.4 603.9L988.7 601.3L988.8 599.0L988.8 596.9L988.8 595.3L988.8 594.0" fill="none" stroke="#2a2aff" stroke-opacity="0.04" stroke-width="4.5"/>
<path d="M530.6 790.0L536.5 790.0L544.7 789.9L554.4 789.8L564.8 789.7L575.3 789.6L585.0 789.4L594.1 789.2L603.2 789.0L612.4 788.7L621.6 788.4L630.8 787.9L640.1 787.3L649.6 786.4L659.3 785.4L669.0 784.2L678.7 783.0L688.0 781.7L697.0 780.6L705.5 779.6L713.6 778.6L721.5 777.6L729.2 776.6L736.9 775.6L744.5 774.4L752.1 773.1L759.5 771.8L766.9 770.3L774.2 768.8L781.5 767.3L788.9 765.6L796.3 763.9L803.7 762.1L811.1 760.3L818.6 758.3L826.0 756.2L833.4 753.9L840.9 751.4L848.6 748.6L856.3 745.7L863.9 742.8L871.1 739.8L877.9 736.8L884.2 733.8L890.3 730.8L896.0 727.8L901.4 724.8L906.5 721.8L911.3 719.0L915.6 716.4L919.5 713.9L923.1 711.5L926.5 709.1L929.9 706.4L933.5 703.4L937.3 700.0L941.1 696.2L945.0 692.3L948.8 688.2L952.4 684.1L955.7 680.1L958.7 676.1L961.6 672.1L964.2 668.1L966.7 664.0L969.0 659.8L971.3 655.6L973.5 651.2L975.5 646.7L977.5 642.1L979.3 637.5L980.9 633.1L982.4 628.9L983.7 624.8L984.9 620.8L985.8 616.9L986.7 613.2L987.4 609.8L988.0 606.7L988.4 603.9L988.7 601.3L988.8 599.0L988.8 596.9L988.8 595.3L988.8 594.0" fill="none" stroke="#1515f0" stroke-width="1.7" stroke-dasharray="1.5 1.8"/>
<path d="M530.6 1012.8L538.4 1012.8L549.3 1012.8L562.2 1012.8L575.7 1012.7L588.8 1012.7L600.0 1012.7L609.5 1012.7L618.1 1012.7L626.2 1012.6L634.1 1012.6L641.9 1012.6L650.0 1012.5L658.2 1012.4L666.3 1012.4L674.4 1012.3L682.6 1012.2L691.1 1012.0L700.0 1011.8L709.5 1011.4L719.7 1011.0L730.1 1010.5L740.4 1010.0L750.5 1009.4L760.0 1008.9L769.1 1008.4L778.1 1007.8L786.7 1007.2L794.9 1006.7L802.4 1006.1L809.0 1005.6L814.3 1005.2L818.2 1004.8L821.5 1004.5L824.7 1004.1L828.5 1003.6L833.4 1002.9L839.7 1002.0L846.7 1000.9L854.4 999.7L862.3 998.4L870.3 997.0L877.9 995.6L885.4 994.1L893.1 992.4L900.8 990.7L908.4 989.0L915.6 987.2L922.4 985.6L928.6 984.0L934.5 982.5L940.0 981.0L945.3 979.5L950.5 978.1L955.7 976.7L961.1 975.3L966.6 974.0L972.0 972.7L977.0 971.5L981.3 970.4L984.6 969.6L986.8 969.0L988.0 968.7L988.5 968.5L988.6 968.4L988.6 968.4L988.8 968.3" fill="none" stroke="#2a2aff" stroke-opacity="0.03" stroke-width="9"/>
<path d="M530.6 1012.8L538.4 1012.8L549.3 1012.8L562.2 1012.8L575.7 1012.7L588.8 1012.7L600.0 1012.7L609.5 1012.7L618.1 1012.7L626.2 1012.6L634.1 1012.6L641.9 1012.6L650.0 1012.5L658.2 1012.4L666.3 1012.4L674.4 1012.3L682.6 1012.2L691.1 1012.0L700.0 1011.8L709.5 1011.4L719.7 1011.0L730.1 1010.5L740.4 1010.0L750.5 1009.4L760.0 1008.9L769.1 1008.4L778.1 1007.8L786.7 1007.2L794.9 1006.7L802.4 1006.1L809.0 1005.6L814.3 1005.2L818.2 1004.8L821.5 1004.5L824.7 1004.1L828.5 1003.6L833.4 1002.9L839.7 1002.0L846.7 1000.9L854.4 999.7L862.3 998.4L870.3 997.0L877.9 995.6L885.4 994.1L893.1 992.4L900.8 990.7L908.4 989.0L915.6 987.2L922.4 985.6L928.6 984.0L934.5 982.5L940.0 981.0L945.3 979.5L950.5 978.1L955.7 976.7L961.1 975.3L966.6 974.0L972.0 972.7L977.0 971.5L981.3 970.4L984.6 969.6L986.8 969.0L988.0 968.7L988.5 968.5L988.6 968.4L988.6 968.4L988.8 968.3" fill="none" stroke="#2a2aff" stroke-opacity="0.04" stroke-width="4.5"/>
<path d="M530.6 1012.8L538.4 1012.8L549.3 1012.8L562.2 1012.8L575.7 1012.7L588.8 1012.7L600.0 1012.7L609.5 1012.7L618.1 1012.7L626.2 1012.6L634.1 1012.6L641.9 1012.6L650.0 1012.5L658.2 1012.4L666.3 1012.4L674.4 1012.3L682.6 1012.2L691.1 1012.0L700.0 1011.8L709.5 1011.4L719.7 1011.0L730.1 1010.5L740.4 1010.0L750.5 1009.4L760.0 1008.9L769.1 1008.4L778.1 1007.8L786.7 1007.2L794.9 1006.7L802.4 1006.1L809.0 1005.6L814.3 1005.2L818.2 1004.8L821.5 1004.5L824.7 1004.1L828.5 1003.6L833.4 1002.9L839.7 1002.0L846.7 1000.9L854.4 999.7L862.3 998.4L870.3 997.0L877.9 995.6L885.4 994.1L893.1 992.4L900.8 990.7L908.4 989.0L915.6 987.2L922.4 985.6L928.6 984.0L934.5 982.5L940.0 981.0L945.3 979.5L950.5 978.1L955.7 976.7L961.1 975.3L966.6 974.0L972.0 972.7L977.0 971.5L981.3 970.4L984.6 969.6L986.8 969.0L988.0 968.7L988.5 968.5L988.6 968.4L988.6 968.4L988.8 968.3" fill="none" stroke="#1515f0" stroke-width="1.7" stroke-dasharray="1.5 1.8"/>
<g id="inset">
<rect x="988.9" y="592.9" width="356.3" height="375.0" fill="#fff"/>
<rect x="1095.2" y="592.9" width="144.0" height="375.0" fill="#f0cacd"/>
<path d="M1011.5 592.9V967.9M1032.4 592.9V967.9M1053.4 592.9V967.9M1074.3 592.9V967.9M1116.1 592.9V967.9M1137.0 592.9V967.9M1158.0 592.9V967.9M1178.9 592.9V967.9M1220.7 592.9V967.9M1241.6 592.9V967.9M1262.6 592.9V967.9M1283.5 592.9V967.9M1325.3 592.9V967.9M1346.2 592.9V967.9M988.9 911.5H1345.2M988.9 878.4H1345.2M988.9 855.0H1345.2M988.9 836.8H1345.2M988.9 822.0H1345.2M988.9 809.4H1345.2M988.9 798.6H1345.2M988.9 789.0H1345.2M988.9 724.0H1345.2M988.9 690.9H1345.2M988.9 667.5H1345.2M988.9 649.3H1345.2M988.9 634.5H1345.2M988.9 621.9H1345.2M988.9 611.1H1345.2M988.9 601.5H1345.2" stroke="#000" stroke-opacity="0.04" stroke-width="0.8" fill="none"/>
<path d="M1095.2 592.9V967.9M1199.8 592.9V967.9M1304.4 592.9V967.9M988.9 780.4H1345.2" stroke="#000" stroke-opacity="0.07" stroke-width="1.0" fill="none"/>
<path d="M1095.2 592.9V967.9M1239.2 592.9V967.9" stroke="#e07f7f" stroke-width="1.1" stroke-dasharray="4 2" fill="none"/>
<clipPath id="icl"><rect x="988.9" y="592.9" width="356.3" height="375.0"/></clipPath>
<g clip-path="url(#icl)">
<path d="M989.0 637.8L994.4 638.9L999.9 639.9L1004.6 639.7L1010.5 641.8L1014.7 642.4L1021.0 643.8L1022.7 645.9L1023.6 646.8L1023.8 649.3L1030.1 651.6L1036.6 654.9L1042.9 657.5L1045.7 659.3L1049.8 662.8L1053.9 664.3L1060.7 665.5L1067.2 667.3L1073.0 669.8L1076.2 671.5L1078.1 675.3L1082.0 677.0L1083.9 678.7L1087.8 682.0L1089.4 683.5L1090.9 687.5L1093.1 690.2L1094.9 693.0L1096.4 696.1L1099.3 698.5L1101.0 700.0L1104.0 702.3L1105.4 704.7L1108.0 708.0" fill="none" stroke="#8c8c8c" stroke-width="0.9" stroke-linejoin="round"/>
<path d="M994.4 638.9h0M999.9 639.9h0M1004.6 639.7h0M1010.5 641.8h0M1014.7 642.4h0M1021.0 643.8h0M1022.7 645.9h0M1023.6 646.8h0M1023.8 649.3h0M1030.1 651.6h0M1036.6 654.9h0M1042.9 657.5h0M1045.7 659.3h0M1049.8 662.8h0M1053.9 664.3h0M1060.7 665.5h0M1067.2 667.3h0M1073.0 669.8h0M1076.2 671.5h0M1078.1 675.3h0M1082.0 677.0h0M1083.9 678.7h0M1087.8 682.0h0M1089.4 683.5h0M1090.9 687.5h0M1093.1 690.2h0M1094.9 693.0h0M1096.4 696.1h0M1099.3 698.5h0M1101.0 700.0h0M1104.0 702.3h0M1105.4 704.7h0" fill="none" stroke="#777" stroke-width="1.8" stroke-linecap="round"/>
<path d="M989.0 655.6L997.0 657.4L1004.0 657.7L1011.5 659.4L1017.4 660.9L1025.1 662.3L1032.0 663.0L1033.6 664.8L1035.2 666.2L1037.4 667.0L1042.4 669.6L1046.6 672.9L1051.1 675.3L1054.6 677.6L1059.8 679.2L1063.4 681.8L1067.5 683.9L1071.1 685.0L1074.0 687.0L1076.6 689.1L1081.1 690.0L1083.9 691.7L1086.5 692.9L1090.9 694.9L1094.0 697.0L1098.1 699.2L1100.1 701.3L1104.0 703.0L1106.7 706.4L1110.7 708.4L1113.0 711.0" fill="none" stroke="#8c8c8c" stroke-width="0.9" stroke-linejoin="round"/>
<path d="M997.0 657.4h0M1004.0 657.7h0M1011.5 659.4h0M1017.4 660.9h0M1025.1 662.3h0M1032.0 663.0h0M1033.6 664.8h0M1035.2 666.2h0M1037.4 667.0h0M1042.4 669.6h0M1046.6 672.9h0M1051.1 675.3h0M1054.6 677.6h0M1059.8 679.2h0M1063.4 681.8h0M1067.5 683.9h0M1071.1 685.0h0M1074.0 687.0h0M1076.6 689.1h0M1081.1 690.0h0M1083.9 691.7h0M1086.5 692.9h0M1090.9 694.9h0M1094.0 697.0h0M1098.1 699.2h0M1100.1 701.3h0M1104.0 703.0h0M1106.7 706.4h0M1110.7 708.4h0" fill="none" stroke="#777" stroke-width="1.8" stroke-linecap="round"/>
<path d="M989.0 667.0L997.5 666.8L1007.0 667.2L1015.6 668.4L1022.9 669.5L1029.3 671.1L1037.4 672.5L1039.8 674.2L1043.0 675.4L1047.0 678.0L1050.1 680.4L1052.7 681.2L1056.6 683.5L1062.3 687.2L1067.7 689.1L1073.0 692.2L1077.9 693.0L1081.6 695.0L1085.0 697.0L1088.4 698.0L1092.7 700.9L1097.0 702.0L1100.8 704.1L1105.9 705.8L1110.0 708.0L1112.8 709.2L1114.5 711.5L1118.0 714.0" fill="none" stroke="#8c8c8c" stroke-width="0.9" stroke-linejoin="round"/>
<path d="M997.5 666.8h0M1007.0 667.2h0M1015.6 668.4h0M1022.9 669.5h0M1029.3 671.1h0M1037.4 672.5h0M1039.8 674.2h0M1043.0 675.4h0M1047.0 678.0h0M1050.1 680.4h0M1052.7 681.2h0M1056.6 683.5h0M1062.3 687.2h0M1067.7 689.1h0M1073.0 692.2h0M1077.9 693.0h0M1081.6 695.0h0M1085.0 697.0h0M1088.4 698.0h0M1092.7 700.9h0M1097.0 702.0h0M1100.8 704.1h0M1105.9 705.8h0M1110.0 708.0h0M1112.8 709.2h0M1114.5 711.5h0" fill="none" stroke="#777" stroke-width="1.8" stroke-linecap="round"/>
<path d="M989.0 673.0L996.4 675.0L1004.2 675.8L1012.8 676.6L1019.4 677.5L1028.3 678.8L1034.7 680.7L1040.1 682.2L1044.8 683.9L1050.0 685.5L1054.1 687.6L1058.6 688.0L1064.0 690.0L1068.7 692.6L1075.0 696.8L1080.7 699.1L1083.2 700.0L1085.7 703.3L1088.9 704.0L1090.6 705.1L1093.7 706.1L1096.5 706.7L1099.9 708.2L1104.0 709.4L1107.7 710.3L1111.2 712.3L1112.6 713.3L1116.0 716.0" fill="none" stroke="#8c8c8c" stroke-width="0.9" stroke-linejoin="round"/>
<path d="M996.4 675.0h0M1004.2 675.8h0M1012.8 676.6h0M1019.4 677.5h0M1028.3 678.8h0M1034.7 680.7h0M1040.1 682.2h0M1044.8 683.9h0M1050.0 685.5h0M1054.1 687.6h0M1058.6 688.0h0M1064.0 690.0h0M1068.7 692.6h0M1075.0 696.8h0M1080.7 699.1h0M1083.2 700.0h0M1085.7 703.3h0M1088.9 704.0h0M1090.6 705.1h0M1093.7 706.1h0M1096.5 706.7h0M1099.9 708.2h0M1104.0 709.4h0M1107.7 710.3h0M1111.2 712.3h0M1112.6 713.3h0" fill="none" stroke="#777" stroke-width="1.8" stroke-linecap="round"/>
<path d="M989.0 676.5L995.9 677.6L1002.3 679.8L1010.0 680.5L1015.8 681.5L1024.1 681.7L1030.0 683.5L1037.4 685.4L1043.8 686.6L1052.0 688.5L1058.4 689.9L1064.4 690.9L1070.0 693.0L1074.2 693.6L1079.3 696.4L1084.0 697.0L1088.2 697.7L1091.8 697.8L1096.0 697.5L1097.9 697.8L1101.6 699.2L1104.0 699.5L1106.5 699.8L1108.9 701.0L1112.0 702.5" fill="none" stroke="#8c8c8c" stroke-width="0.9" stroke-linejoin="round"/>
<path d="M995.9 677.6h0M1002.3 679.8h0M1010.0 680.5h0M1015.8 681.5h0M1024.1 681.7h0M1030.0 683.5h0M1037.4 685.4h0M1043.8 686.6h0M1052.0 688.5h0M1058.4 689.9h0M1064.4 690.9h0M1070.0 693.0h0M1074.2 693.6h0M1079.3 696.4h0M1084.0 697.0h0M1088.2 697.7h0M1091.8 697.8h0M1096.0 697.5h0M1097.9 697.8h0M1101.6 699.2h0M1104.0 699.5h0M1106.5 699.8h0M1108.9 701.0h0" fill="none" stroke="#777" stroke-width="1.8" stroke-linecap="round"/>
<path d="M1085.3 593.2L1087.0 596.7L1088.6 599.9L1090.0 604.0L1092.6 607.9L1094.3 610.1L1096.0 614.0L1097.7 617.7L1098.9 622.8L1101.0 626.0L1103.6 627.8L1105.0 631.5L1106.0 634.0L1106.8 636.3L1108.3 639.3L1109.0 642.0L1111.0 644.1L1111.7 646.1L1114.0 647.4" fill="none" stroke="#8c8c8c" stroke-width="0.9" stroke-linejoin="round"/>
<path d="M1087.0 596.7h0M1088.6 599.9h0M1090.0 604.0h0M1092.6 607.9h0M1094.3 610.1h0M1096.0 614.0h0M1097.7 617.7h0M1098.9 622.8h0M1101.0 626.0h0M1103.6 627.8h0M1105.0 631.5h0M1106.0 634.0h0M1106.8 636.3h0M1108.3 639.3h0M1109.0 642.0h0M1111.0 644.1h0M1111.7 646.1h0" fill="none" stroke="#777" stroke-width="1.8" stroke-linecap="round"/>
<path d="M1096.8 705.0L1100.7 707.6L1103.8 710.2L1106.8 712.0L1109.8 716.4L1114.0 720.9L1116.8 724.6L1119.6 727.6L1122.0 732.2L1124.8 735.0L1126.4 738.4L1129.8 742.3L1131.3 746.0L1132.7 749.4L1135.5 753.1L1136.8 757.0L1138.0 760.7L1139.9 764.0L1140.8 767.5" fill="none" stroke="#9a9a9a" stroke-width="1.1" stroke-linejoin="round"/>
<path d="M1098.4 704.5L1101.3 707.3L1105.3 709.5L1108.4 712.0L1111.3 716.5L1115.5 720.2L1118.4 724.3L1121.1 727.5L1123.0 731.3L1126.4 735.0L1128.7 738.1L1131.1 742.0L1132.9 746.0L1134.4 749.0L1137.3 753.7L1138.4 757.0L1140.3 760.7L1140.4 763.8L1142.4 767.5" fill="none" stroke="#9a9a9a" stroke-width="1.1" stroke-linejoin="round"/>
<path d="M1100.0 704.0L1104.0 706.2L1106.0 710.0L1110.0 712.0L1112.9 715.5L1116.9 719.8L1120.0 724.0L1123.2 727.3L1126.0 731.1L1128.0 735.0L1130.3 739.3L1132.6 742.9L1134.5 746.0L1136.6 749.0L1138.7 753.5L1140.0 757.0L1141.1 760.1L1143.2 764.1L1144.0 767.5" fill="none" stroke="#9a9a9a" stroke-width="1.1" stroke-linejoin="round"/>
<path d="M1101.6 703.5L1105.5 707.0L1108.8 708.6L1111.6 712.0L1115.1 715.8L1118.3 719.3L1121.6 723.7L1123.8 727.4L1126.5 731.2L1129.6 735.0L1131.1 738.1L1134.2 742.2L1136.1 746.0L1138.0 750.0L1139.6 752.7L1141.6 757.0L1143.3 760.6L1144.5 764.2L1145.6 767.5" fill="none" stroke="#9a9a9a" stroke-width="1.1" stroke-linejoin="round"/>
<path d="M1103.2 703.0L1106.8 706.5L1109.4 709.7L1113.2 712.0L1116.1 716.0L1119.3 719.9L1123.2 723.4L1125.4 727.5L1128.8 731.5L1131.2 735.0L1133.3 739.2L1136.2 741.8L1137.7 746.0L1139.6 750.3L1141.7 753.3L1143.2 757.0L1144.3 761.1L1145.3 764.4L1147.2 767.5" fill="none" stroke="#9a9a9a" stroke-width="1.1" stroke-linejoin="round"/>
<path d="M1127.0 738.0L1133.0 748.0L1138.5 758.0L1143.0 767.0" fill="none" stroke="#a0a0a0" stroke-width="5" stroke-linecap="round" stroke-linejoin="round"/>
<path d="M1136.7 711.4L1137.8 707.5L1140.0 704.5L1147.4 703.2L1155.0 701.5L1162.8 699.5L1171.5 698.5L1180.7 696.8L1190.6 694.4L1196.4 693.0L1203.0 691.0L1207.9 688.9L1212.5 687.6L1223.8 684.7L1235.0 682.0L1245.5 680.3L1256.3 677.4L1272.2 675.1L1289.1 673.9L1302.5 670.1L1314.8 666.5L1316.6 664.5L1319.2 663.0L1325.8 663.9L1332.8 663.8L1335.2 662.1L1338.3 661.0L1342.0 661.6L1345.4 662.1" fill="none" stroke="#8c8c8c" stroke-width="0.9" stroke-linejoin="round"/>
<path d="M1137.8 707.5h0M1140.0 704.5h0M1147.4 703.2h0M1155.0 701.5h0M1162.8 699.5h0M1171.5 698.5h0M1180.7 696.8h0M1190.6 694.4h0M1196.4 693.0h0M1203.0 691.0h0M1207.9 688.9h0M1212.5 687.6h0M1223.8 684.7h0M1235.0 682.0h0M1245.5 680.3h0M1256.3 677.4h0M1272.2 675.1h0M1289.1 673.9h0M1302.5 670.1h0M1314.8 666.5h0M1316.6 664.5h0M1319.2 663.0h0M1325.8 663.9h0M1332.8 663.8h0M1335.2 662.1h0M1338.3 661.0h0M1342.0 661.6h0" fill="none" stroke="#777" stroke-width="1.8" stroke-linecap="round"/>
<path d="M1136.7 711.4L1138.7 713.6L1141.4 716.9L1144.1 719.0L1146.1 723.9L1147.6 728.3L1150.0 733.0L1152.0 737.5L1153.8 742.3L1155.1 746.4L1155.9 749.8L1157.3 753.8L1158.0 758.0L1158.3 762.6L1160.0 767.0L1160.5 771.0" fill="none" stroke="#8c8c8c" stroke-width="1" stroke-linejoin="round"/>
<path d="M1201.0 703.4L1210.9 700.4L1220.7 697.1L1230.6 694.8L1239.8 693.0L1250.1 692.4L1260.0 691.0L1270.9 689.6L1280.9 688.9L1291.6 688.1L1302.0 687.0L1312.4 686.5L1322.7 685.1L1334.1 683.5L1345.4 682.1" fill="none" stroke="#8c8c8c" stroke-width="0.9" stroke-linejoin="round"/>
<path d="M1210.9 700.4h0M1220.7 697.1h0M1230.6 694.8h0M1239.8 693.0h0M1250.1 692.4h0M1260.0 691.0h0M1270.9 689.6h0M1280.9 688.9h0M1291.6 688.1h0M1302.0 687.0h0M1312.4 686.5h0M1322.7 685.1h0M1334.1 683.5h0" fill="none" stroke="#777" stroke-width="1.8" stroke-linecap="round"/>
<path d="M1302.0 690.5L1322.7 686.5L1345.4 684.5" fill="none" stroke="#9a9a9a" stroke-width="0.8" stroke-linejoin="round"/>
<path d="M1201.0 703.4L1199.4 706.9L1198.0 710.5L1196.1 713.6L1195.4 716.6L1194.4 719.8L1193.0 723.0L1192.0 725.9L1191.4 729.2L1190.6 732.7L1189.4 737.9L1188.8 743.1L1187.5 748.0L1186.4 752.6L1185.7 757.9L1185.1 762.8" fill="none" stroke="#8c8c8c" stroke-width="1.2" stroke-linejoin="round"/>
<path d="M1322.7 685.1L1316.1 687.1L1309.6 688.9L1302.7 690.3L1298.3 693.0L1294.3 695.0L1290.0 697.0L1287.2 699.3L1283.7 700.6L1280.9 702.6L1277.5 705.7L1273.9 708.4L1270.0 711.5L1266.8 714.4L1262.9 718.2L1259.0 721.8L1255.2 726.0L1251.9 729.7L1249.0 734.0L1245.8 737.8L1242.5 741.8L1239.8 746.4L1236.9 750.2L1232.9 754.4L1230.0 759.0L1227.3 763.0L1224.1 767.5L1220.7 771.0" fill="none" stroke="#8c8c8c" stroke-width="1" stroke-linejoin="round"/>
<path d="M1316.1 687.1h0M1309.6 688.9h0M1302.7 690.3h0M1298.3 693.0h0M1294.3 695.0h0M1290.0 697.0h0M1287.2 699.3h0M1283.7 700.6h0M1280.9 702.6h0M1277.5 705.7h0M1273.9 708.4h0M1270.0 711.5h0M1266.8 714.4h0M1262.9 718.2h0M1259.0 721.8h0M1255.2 726.0h0M1251.9 729.7h0M1249.0 734.0h0M1245.8 737.8h0M1242.5 741.8h0M1239.8 746.4h0M1236.9 750.2h0M1232.9 754.4h0M1230.0 759.0h0M1227.3 763.0h0M1224.1 767.5h0" fill="none" stroke="#777" stroke-width="1.8" stroke-linecap="round"/>
<path d="M1345.4 730.5L1330.0 739.0L1315.0 749.0L1300.0 759.5" fill="none" stroke="#8c8c8c" stroke-width="1.2" stroke-linejoin="round"/>
<path d="M1345.4 730.2L1049.7 943.2" fill="none" stroke="#1a1a1a" stroke-width="1.4" stroke-dasharray="3.6 2.4"/>
<path d="M1261.0 714.2L1242.6 742.7L1096.2 956.1" fill="none" stroke="#1a1a1a" stroke-width="1.4" stroke-dasharray="3.6 2.4"/>
<path d="M1193.6 717.4L1189.2 742.7L1151.0 957.4" fill="none" stroke="#1a1a1a" stroke-width="1.4" stroke-dasharray="3.6 2.4"/>
<path d="M1153.8 734.2L1155.6 742.0L1192.8 938.3" fill="none" stroke="#1a1a1a" stroke-width="1.4" stroke-dasharray="3.6 2.4"/>
<path d="M1136.5 757.0L1212.3 926.0" fill="none" stroke="#1a1a1a" stroke-width="1.4" stroke-dasharray="3.6 2.4"/>
<path d="M1139.5 754.0L1211.3 917.8" fill="none" stroke="#1a1a1a" stroke-width="1.4" stroke-dasharray="3.6 2.4"/>
<path d="M1143.5 756.0L1207.2 919.2" fill="none" stroke="#1a1a1a" stroke-width="1.4" stroke-dasharray="3.6 2.4"/>
<path d="M989.0 678.0L1012.8 681.3L1040.2 686.2L1051.1 689.5L1073.0 691.7L1089.4 693.9L1093.5 695.8L1083.9 697.7L1088.0 701.2L1097.6 706.7L1105.8 710.8L1114.0 716.3L1120.9 725.9L1127.7 734.1L1134.5 745.0L1141.4 757.3L1145.5 768.3" fill="none" stroke="#0a0a0a" stroke-width="2.2" stroke-linejoin="round" stroke-linecap="round"/>
<circle cx="1053.9" cy="664.0" r="3.0" fill="#dc0a0a"/>
<circle cx="1063.4" cy="681.8" r="3.0" fill="#dc0a0a"/>
<circle cx="1072.5" cy="692.2" r="2.0" fill="#dc0a0a"/>
<circle cx="1080.7" cy="699.1" r="2.7" fill="#dc0a0a"/>
<circle cx="1088.9" cy="704.0" r="2.8" fill="#dc0a0a"/>
<circle cx="1096.5" cy="706.7" r="3.0" fill="#dc0a0a"/>
<circle cx="1102.3" cy="708.9" r="2.0" fill="#dc0a0a"/>
<circle cx="1107.7" cy="710.3" r="2.0" fill="#dc0a0a"/>
<circle cx="1112.4" cy="711.1" r="2.8" fill="#dc0a0a"/>
<circle cx="1136.7" cy="711.4" r="3.0" fill="#dc0a0a"/>
<circle cx="1201.0" cy="703.4" r="3.0" fill="#dc0a0a"/>
<circle cx="1314.8" cy="666.5" r="2.1" fill="#dc0a0a"/>
<circle cx="1322.7" cy="685.1" r="3.0" fill="#dc0a0a"/>
</g>
<rect x="988.9" y="592.9" width="356.3" height="375.0" fill="none" stroke="#0b0bff" stroke-width="1.8"/>
</g>
<text x="937.20" y="598.70" font-size="24" text-anchor="start" font-family='"Liberation Serif", serif' textLength="44.0">10<tspan font-size="16.8" dy="-8">−6</tspan></text>
<text x="937.20" y="786.20" font-size="24" text-anchor="start" font-family='"Liberation Serif", serif' textLength="44.0">10<tspan font-size="16.8" dy="-8">−7</tspan></text>
<text x="937.20" y="973.70" font-size="24" text-anchor="start" font-family='"Liberation Serif", serif' textLength="44.0">10<tspan font-size="16.8" dy="-8">−8</tspan></text>
<text x="968.00" y="994.40" font-size="22.3" text-anchor="start" font-family='"Liberation Serif", serif' textLength="40.3">2.95</text>
<text x="1095.70" y="994.40" font-size="22.3" text-anchor="middle" font-family='"Liberation Serif", serif'>3</text>
<text x="1200.30" y="994.40" font-size="22.3" text-anchor="middle" font-family='"Liberation Serif", serif'>3.05</text>
<text x="1304.90" y="994.40" font-size="22.3" text-anchor="middle" font-family='"Liberation Serif", serif'>3.1</text>
</svg></body></html>
